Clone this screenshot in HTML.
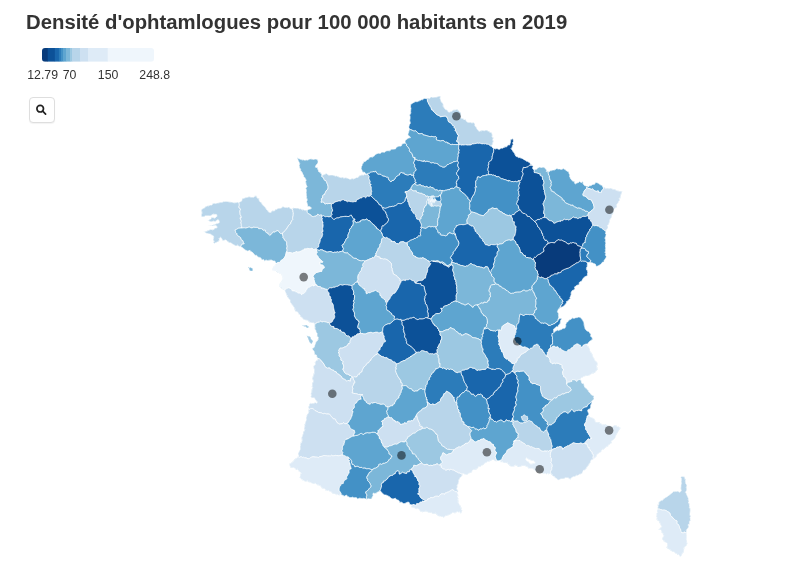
<!DOCTYPE html><html><head><meta charset="utf-8"><title>Densité d'ophtamlogues</title><style>
html,body{margin:0;padding:0;background:#fff}
body{width:790px;height:587px;position:relative;overflow:hidden;font-family:"Liberation Sans",sans-serif;color:#333}
svg{position:absolute;left:0;top:0}
h1{position:absolute;left:25.5px;top:9.5px;margin:0;font-size:20px;line-height:24px;font-weight:bold;white-space:nowrap;transform-origin:0 0;transform:scaleX(1.016);color:#333}
.lab{position:absolute;top:68px;font-size:12.3px;line-height:14px;transform:translateX(-50%);white-space:nowrap;color:#333}
.btn{position:absolute;left:28.5px;top:96.5px;width:24.5px;height:24.5px;border:1px solid #dedede;border-radius:4px;background:#fff;box-shadow:0 1px 1px rgba(0,0,0,0.05)}
</style></head><body>
<h1>Densité d'ophtamlogues pour 100 000 habitants en 2019</h1>
<div class="btn"></div>
<svg width="790" height="587" viewBox="0 0 790 587">
<defs><clipPath id="lg"><rect x="42" y="48" width="112" height="13.8" rx="3" ry="3"/></clipPath></defs>
<g clip-path="url(#lg)"><rect x="42.0" y="48" width="6.0" height="13.8" fill="#083b7b"/><rect x="47.7" y="48" width="7.4" height="13.8" fill="#0c5198"/><rect x="54.8" y="48" width="4.4" height="13.8" fill="#1966ac"/><rect x="58.9" y="48" width="2.4" height="13.8" fill="#2c7cba"/><rect x="61.0" y="48" width="2.3" height="13.8" fill="#4391c6"/><rect x="63.0" y="48" width="3.3" height="13.8" fill="#5ea5d0"/><rect x="66.0" y="48" width="4.7" height="13.8" fill="#7cb7d9"/><rect x="70.4" y="48" width="1.9" height="13.8" fill="#9cc8e2"/><rect x="72.0" y="48" width="8.3" height="13.8" fill="#b8d5ea"/><rect x="80.0" y="48" width="8.3" height="13.8" fill="#cde0f1"/><rect x="88.0" y="48" width="20.0" height="13.8" fill="#deebf7"/><rect x="107.7" y="48" width="46.6" height="13.8" fill="#eff6fc"/></g>
<g><path d="M658.0,505.9 L657.5,509.8 L656.9,511.1 L657.4,512.7 L656.5,513.7 L656.7,515.3 L656.1,516.7 L657.1,517.5 L657.1,518.2 L656.5,518.6 L656.9,519.9 L658.7,521.0 L661.6,526.8 L658.4,530.0 L661.0,530.1 L661.9,533.0 L662.6,532.7 L663.1,535.0 L663.9,535.6 L661.9,539.0 L663.4,540.0 L664.0,541.8 L666.3,542.6 L667.0,543.3 L667.4,545.9 L666.3,547.4 L672.7,551.8 L674.5,552.3 L675.6,553.6 L676.9,553.9 L678.0,555.1 L678.9,555.0 L680.1,556.6 L680.8,556.5 L682.5,553.4 L683.5,552.5 L684.4,547.2 L686.4,545.3 L687.3,543.7 L686.5,539.2 L686.7,532.6 L686.3,532.8 L686.3,530.3 L688.6,527.1 L688.3,524.3 L689.5,524.2 L689.4,521.7 L690.5,520.2 L690.0,517.3 L691.0,516.8 L689.9,514.9 L690.3,508.8 L689.5,508.2 L689.1,503.1 L688.1,502.6 L689.1,501.9 L688.2,499.0 L688.7,498.2 L688.1,497.8 L686.7,495.1 L686.8,494.2 L685.5,492.3 L686.7,490.1 L686.3,487.4 L686.9,484.9 L685.9,483.9 L685.4,481.2 L685.7,480.0 L684.2,476.7 L681.1,476.5 L680.8,477.6 L681.4,478.4 L681.4,482.9 L680.8,488.5 L681.2,490.9 L679.6,492.3 L678.4,491.2 L673.5,491.5 L669.9,494.8 L666.7,497.1 L665.8,497.0 L665.4,497.7 L663.4,498.9 L662.1,500.7 L661.5,500.3 L658.7,502.5 L658.8,504.7 L657.6,504.7Z M219.1,238.4 L220.9,237.2 L222.4,240.2 L224.1,240.8 L224.5,240.1 L225.8,240.1 L229.2,242.7 L231.0,243.0 L235.1,245.6 L235.9,245.9 L237.7,245.3 L239.7,246.9 L241.3,246.8 L245.5,250.2 L247.7,251.2 L249.4,250.4 L250.5,251.6 L251.4,251.5 L253.1,252.8 L255.1,255.4 L256.5,255.2 L258.1,257.2 L259.9,257.3 L261.8,259.6 L263.6,259.6 L264.6,261.2 L265.8,260.0 L267.6,260.7 L271.3,260.1 L273.0,261.0 L274.9,261.1 L275.1,262.1 L276.6,263.4 L276.4,264.1 L275.2,264.8 L275.0,265.7 L273.3,266.1 L273.6,267.1 L272.1,269.0 L273.2,271.0 L276.0,270.9 L278.2,273.0 L277.9,272.6 L281.3,274.3 L282.9,278.0 L282.4,280.1 L279.0,285.0 L279.3,286.5 L284.4,290.4 L284.8,290.4 L286.5,294.9 L287.2,295.7 L286.9,296.3 L290.0,299.9 L290.1,301.9 L294.1,307.4 L295.3,311.5 L296.5,311.5 L297.8,312.2 L298.5,314.0 L300.3,315.3 L300.2,316.4 L302.4,317.7 L303.3,319.5 L307.4,320.4 L309.9,322.5 L311.2,323.0 L313.5,322.9 L314.7,323.7 L314.8,329.0 L315.1,329.8 L315.7,330.0 L316.2,332.5 L317.3,333.4 L316.9,336.6 L318.0,336.9 L318.0,339.3 L317.0,341.1 L316.2,341.4 L314.4,346.9 L312.2,348.8 L313.9,351.0 L314.7,354.8 L316.3,355.0 L316.9,356.1 L316.7,356.9 L318.3,358.8 L315.2,362.1 L314.6,362.2 L315.2,363.3 L315.2,364.6 L313.4,366.3 L314.1,370.0 L314.0,372.8 L312.2,378.4 L313.2,381.2 L312.1,383.6 L312.1,386.0 L311.5,386.3 L312.5,386.9 L311.8,389.2 L311.3,393.0 L310.7,394.0 L311.4,395.0 L310.7,396.4 L311.5,397.5 L311.6,398.9 L311.6,398.9 L311.6,398.9 L311.5,398.2 L311.5,398.2 L312.4,397.9 L312.5,397.9 L314.5,397.8 L314.9,399.0 L317.2,402.0 L317.1,402.7 L316.6,403.2 L315.1,402.1 L314.6,403.0 L311.1,403.5 L310.3,402.7 L310.2,403.5 L309.6,404.0 L308.4,407.4 L309.2,408.9 L308.3,410.2 L308.8,411.4 L307.8,413.9 L306.9,414.9 L306.1,418.3 L306.5,419.4 L304.6,424.8 L304.7,427.0 L304.1,428.4 L304.7,430.0 L303.3,431.9 L303.0,434.1 L301.6,437.7 L301.9,440.5 L301.5,442.7 L300.4,442.8 L300.1,449.4 L297.9,454.4 L298.9,455.2 L296.4,458.5 L295.2,458.6 L293.3,461.3 L289.3,463.9 L290.3,467.3 L292.1,468.0 L294.6,468.1 L296.2,469.7 L297.5,469.3 L298.8,471.2 L301.1,473.1 L300.3,474.6 L300.2,476.4 L299.2,477.8 L300.8,478.3 L302.7,480.2 L305.4,481.5 L306.2,481.6 L307.4,480.7 L307.7,481.6 L308.9,482.3 L310.0,482.2 L312.9,483.8 L315.9,483.6 L318.0,485.6 L318.4,484.9 L321.0,486.4 L321.4,487.9 L324.8,488.9 L325.7,489.9 L325.5,490.4 L328.5,491.0 L328.1,490.7 L331.0,491.9 L331.8,492.4 L332.4,493.8 L335.5,494.0 L336.1,495.2 L336.9,494.2 L339.2,495.3 L340.9,494.7 L343.0,495.2 L343.9,496.3 L346.2,495.2 L347.1,495.8 L347.4,497.0 L348.4,496.6 L349.0,497.2 L351.5,497.6 L352.8,497.0 L353.7,497.9 L355.7,497.5 L356.8,498.0 L357.4,499.2 L359.0,498.3 L363.1,498.7 L363.1,498.3 L366.7,499.2 L368.4,498.7 L371.8,499.1 L371.9,497.8 L373.2,495.3 L372.9,493.8 L373.3,493.2 L373.8,492.9 L374.3,493.7 L376.5,493.2 L377.5,492.1 L380.3,491.0 L384.1,494.7 L386.1,494.9 L392.8,499.2 L395.0,498.3 L395.9,498.6 L396.9,499.9 L398.5,500.3 L399.8,502.4 L401.7,502.2 L403.5,503.6 L408.5,502.0 L409.4,503.0 L409.5,504.1 L412.1,504.9 L411.0,507.1 L414.2,507.8 L416.0,509.1 L417.2,508.6 L418.6,509.0 L420.8,511.7 L420.7,512.1 L420.7,512.1 L421.5,511.7 L422.7,512.2 L425.9,511.3 L428.6,512.5 L431.7,512.7 L432.3,514.1 L434.7,513.8 L435.0,513.1 L438.0,516.1 L442.2,516.7 L443.7,517.4 L445.7,515.7 L446.8,515.8 L449.6,514.8 L451.7,513.6 L452.3,512.7 L455.2,513.2 L457.1,511.7 L458.8,512.3 L459.9,512.0 L460.3,513.2 L461.7,512.9 L462.2,510.5 L461.7,510.2 L461.0,506.6 L458.4,503.2 L458.3,500.6 L457.8,499.5 L458.6,499.1 L457.4,496.2 L458.4,496.3 L457.7,493.7 L458.1,490.4 L457.3,490.0 L456.9,488.4 L457.4,486.6 L457.0,485.4 L458.0,485.0 L458.4,482.6 L459.0,482.3 L458.6,480.9 L459.0,479.7 L460.5,477.1 L462.2,475.9 L462.1,475.0 L463.0,473.8 L463.8,473.6 L465.0,474.5 L467.1,474.7 L468.2,473.6 L471.5,472.5 L472.7,470.1 L476.3,469.5 L477.2,468.4 L478.2,468.0 L478.0,466.8 L480.9,466.8 L481.0,465.8 L483.4,464.9 L484.5,463.4 L486.3,462.6 L486.9,462.8 L487.1,461.8 L489.0,461.6 L492.3,459.9 L493.6,459.8 L495.0,461.0 L496.1,461.2 L500.3,460.3 L500.9,462.2 L502.0,461.7 L504.2,463.0 L507.3,462.9 L510.3,466.3 L512.3,466.6 L514.6,466.2 L514.3,465.8 L514.2,465.8 L515.4,465.2 L518.4,466.9 L519.7,467.0 L521.7,466.0 L525.3,465.9 L526.6,467.0 L527.9,467.3 L528.8,468.5 L532.2,468.3 L535.7,470.8 L536.2,471.7 L537.7,472.1 L538.7,473.0 L540.2,473.2 L541.5,472.6 L543.3,473.8 L545.8,473.6 L546.1,474.3 L547.5,473.5 L548.5,474.3 L551.1,473.5 L552.3,475.7 L554.4,476.5 L554.7,477.3 L558.1,480.1 L560.7,479.0 L564.1,478.7 L564.8,477.9 L565.8,477.8 L568.1,477.8 L570.3,479.4 L570.7,478.4 L573.0,476.7 L574.8,476.6 L576.8,475.2 L577.4,475.6 L580.0,474.0 L580.8,474.3 L582.0,473.5 L583.4,470.3 L585.2,470.0 L590.1,462.9 L591.4,459.8 L592.7,459.5 L593.7,460.0 L594.0,458.5 L596.0,457.0 L597.5,454.0 L598.6,454.0 L599.0,453.0 L601.1,451.8 L601.7,450.0 L602.7,449.3 L603.7,449.4 L605.5,447.4 L608.5,445.9 L608.8,444.5 L611.0,443.8 L611.6,442.3 L611.3,441.2 L614.6,438.8 L616.7,433.9 L620.5,428.1 L618.2,426.6 L616.8,426.5 L616.7,425.1 L615.8,425.5 L614.6,425.1 L613.2,426.5 L612.0,427.1 L610.6,426.0 L604.0,424.3 L601.9,424.8 L600.9,423.2 L598.0,422.0 L595.6,422.3 L595.0,420.0 L593.9,418.6 L589.7,416.7 L588.9,415.8 L587.7,410.4 L588.3,409.4 L589.9,409.1 L590.0,408.3 L590.8,407.8 L590.7,405.6 L591.8,403.3 L592.0,401.3 L592.4,400.5 L594.1,399.3 L593.6,397.6 L594.0,396.7 L592.9,395.2 L591.8,395.2 L588.5,391.5 L588.5,390.5 L587.5,389.9 L587.1,388.9 L585.6,388.1 L584.2,385.9 L583.8,383.8 L581.8,383.2 L581.3,380.9 L580.2,379.6 L581.0,378.0 L582.6,377.4 L582.9,376.7 L585.0,376.3 L585.8,375.6 L587.0,376.0 L589.0,375.5 L592.4,373.3 L593.2,373.5 L594.7,372.7 L595.9,371.6 L597.7,369.2 L596.9,366.4 L597.6,363.9 L597.1,362.6 L594.8,360.3 L594.0,358.0 L593.3,357.6 L592.2,354.1 L590.2,351.2 L589.3,348.1 L587.5,345.2 L587.2,344.4 L588.8,342.1 L592.7,339.4 L592.0,337.5 L590.6,336.2 L591.1,333.8 L589.9,333.4 L588.8,331.7 L587.9,331.0 L587.1,331.2 L585.1,328.7 L583.9,322.6 L582.7,320.0 L580.2,317.3 L578.7,317.0 L577.6,317.3 L576.9,318.1 L576.3,317.4 L573.9,318.4 L572.8,317.7 L570.9,319.3 L568.9,319.9 L567.8,321.7 L566.2,322.9 L566.1,323.7 L565.4,324.4 L565.9,325.5 L565.1,328.0 L558.1,330.4 L557.1,329.7 L556.6,330.7 L555.1,331.0 L554.7,331.8 L553.3,331.4 L553.7,328.7 L554.9,328.5 L556.0,327.0 L558.1,326.7 L558.2,325.6 L560.5,322.9 L560.2,322.3 L560.6,320.4 L561.6,319.0 L561.2,317.9 L559.7,318.7 L558.7,318.7 L558.5,318.7 L558.2,318.5 L558.1,318.5 L558.0,318.5 L557.9,318.5 L558.7,317.6 L558.6,313.6 L557.4,311.8 L558.6,308.9 L560.1,307.9 L560.3,307.3 L560.9,307.5 L563.4,306.5 L566.6,302.8 L566.3,302.0 L570.4,298.5 L569.9,297.5 L571.3,294.3 L571.0,292.5 L571.8,291.8 L572.0,290.7 L574.0,289.9 L574.9,288.5 L574.6,286.9 L575.9,286.3 L576.4,285.5 L578.7,285.0 L579.4,284.1 L579.1,282.9 L579.7,282.1 L581.6,280.9 L583.6,277.8 L585.9,276.3 L586.9,276.1 L587.4,275.4 L587.2,274.0 L588.0,271.8 L587.4,271.5 L587.4,270.3 L586.8,269.7 L586.1,269.9 L586.7,269.5 L586.6,267.6 L587.5,266.3 L587.1,265.0 L588.1,262.7 L590.0,262.1 L594.6,263.7 L595.5,264.3 L596.4,266.6 L601.3,264.1 L602.0,262.6 L604.1,261.7 L604.1,260.3 L604.8,259.8 L606.4,256.5 L605.7,255.6 L605.4,254.5 L605.9,253.5 L605.1,252.5 L605.7,251.0 L605.5,245.2 L605.8,243.7 L606.0,242.8 L606.0,242.8 L606.0,242.8 L605.8,242.8 L605.3,241.6 L605.6,239.5 L605.0,238.2 L606.1,235.1 L605.5,233.3 L605.9,230.7 L608.0,227.7 L607.6,225.2 L608.6,224.5 L609.8,221.2 L609.7,220.2 L611.7,217.0 L612.1,214.7 L613.2,213.2 L613.7,209.6 L616.8,206.9 L617.0,205.8 L616.3,205.2 L618.3,202.6 L618.5,201.5 L619.8,200.2 L619.2,198.1 L620.5,198.2 L621.1,194.4 L621.6,193.5 L621.8,192.5 L622.3,191.4 L622.3,191.4 L622.3,191.4 L622.3,191.4 L622.3,191.4 L616.4,190.4 L615.2,189.5 L612.6,189.1 L610.3,188.1 L608.5,188.6 L608.0,188.1 L605.5,188.6 L604.9,187.3 L602.7,186.7 L602.0,185.2 L600.4,184.8 L598.6,183.2 L596.0,182.2 L594.5,184.3 L592.3,184.3 L591.6,185.3 L590.0,185.5 L588.1,187.0 L587.3,186.0 L585.8,186.2 L583.6,184.6 L583.0,183.3 L583.2,182.0 L582.3,181.5 L582.0,182.3 L581.1,182.4 L579.4,181.3 L578.5,182.5 L576.7,183.0 L575.2,184.0 L574.3,181.3 L572.7,181.2 L570.5,178.8 L569.5,176.4 L569.9,174.9 L569.1,173.9 L569.0,171.9 L566.6,170.9 L565.7,169.7 L563.4,168.6 L561.5,169.4 L556.1,168.5 L555.9,169.1 L554.3,170.0 L550.5,170.6 L549.0,171.6 L547.7,171.3 L546.3,171.6 L546.8,170.4 L544.7,167.7 L543.5,167.2 L539.3,167.2 L537.0,168.5 L537.0,169.1 L534.1,169.9 L533.5,169.8 L532.8,169.0 L532.6,167.4 L533.2,166.5 L531.5,164.7 L530.4,164.5 L529.5,162.4 L528.3,162.1 L527.8,161.3 L526.6,161.3 L521.7,158.2 L520.0,157.6 L518.7,157.7 L518.1,157.0 L515.8,156.3 L515.5,154.6 L514.7,154.7 L514.4,153.0 L511.1,148.7 L512.1,147.4 L512.3,145.9 L513.0,145.3 L513.2,144.4 L512.7,142.3 L513.4,142.1 L513.5,141.1 L512.9,138.8 L510.4,139.5 L510.5,141.5 L509.8,143.8 L509.7,144.9 L510.0,144.9 L507.4,145.3 L507.2,146.3 L506.1,147.1 L504.8,146.5 L504.5,147.4 L502.8,148.2 L500.7,147.9 L500.2,148.9 L499.3,149.4 L496.9,148.4 L495.6,148.9 L494.7,148.8 L492.6,147.8 L491.3,145.9 L492.4,144.7 L493.4,141.4 L492.8,139.0 L493.6,137.9 L492.1,137.0 L492.3,135.4 L491.9,132.9 L486.8,130.2 L485.2,130.2 L484.7,130.7 L482.0,130.5 L479.1,131.3 L477.2,129.3 L476.1,126.8 L474.7,125.6 L475.2,125.1 L474.5,123.4 L473.4,122.6 L471.5,123.0 L471.0,122.1 L467.8,122.3 L466.5,121.4 L465.3,119.5 L464.0,119.6 L463.3,118.8 L461.1,118.1 L460.9,112.6 L458.8,111.2 L457.6,109.3 L455.1,110.1 L454.0,109.8 L452.9,110.2 L451.9,111.5 L451.5,111.3 L450.0,112.1 L447.8,111.8 L447.5,110.4 L446.6,109.7 L445.7,109.8 L443.3,106.6 L443.1,103.8 L441.5,102.2 L440.1,98.8 L440.3,96.0 L436.4,97.1 L432.7,97.4 L431.5,96.9 L430.5,97.2 L429.7,98.5 L429.0,98.0 L424.1,98.6 L422.6,99.6 L421.2,99.7 L417.2,101.7 L414.9,101.7 L410.8,104.3 L410.5,107.2 L411.1,108.0 L410.6,111.3 L410.7,113.1 L409.6,115.0 L410.1,117.5 L409.6,120.9 L410.3,123.0 L410.1,124.0 L409.3,124.4 L408.9,126.5 L409.2,129.9 L407.9,135.1 L410.2,136.8 L410.6,137.7 L408.2,138.0 L405.6,140.2 L405.1,140.9 L405.0,143.5 L403.5,143.3 L402.5,143.7 L400.6,146.2 L399.1,145.9 L396.9,147.0 L396.2,147.4 L395.5,149.0 L391.7,149.1 L389.6,150.8 L385.9,151.0 L384.7,152.2 L381.9,152.1 L380.3,153.4 L377.9,153.2 L376.2,154.0 L373.0,156.8 L370.3,157.0 L367.9,159.7 L367.7,158.9 L366.0,161.0 L364.1,161.7 L363.8,161.4 L363.4,162.8 L362.1,164.6 L362.0,165.9 L361.3,166.1 L361.1,169.1 L361.9,169.9 L362.2,172.0 L365.0,172.5 L366.0,173.8 L365.8,174.7 L364.6,174.0 L363.4,175.3 L362.0,174.7 L359.7,175.5 L358.1,177.6 L357.1,177.2 L354.0,179.1 L352.3,178.6 L349.9,179.3 L346.1,177.7 L343.7,178.0 L342.7,177.2 L341.2,177.8 L336.7,175.9 L335.2,176.1 L333.6,175.3 L331.6,175.0 L329.0,175.2 L326.3,173.4 L321.8,175.6 L321.6,174.3 L320.3,172.6 L318.5,171.5 L317.7,167.7 L315.5,167.2 L316.0,165.3 L318.0,162.5 L317.7,160.5 L318.5,160.3 L318.5,160.3 L315.9,159.0 L313.9,159.4 L311.6,159.2 L311.5,158.7 L308.7,159.4 L308.1,160.1 L306.0,159.8 L304.7,160.2 L302.9,159.5 L302.8,160.0 L298.3,158.4 L297.2,157.2 L298.3,160.8 L299.5,162.9 L299.1,165.4 L299.6,167.9 L300.6,169.1 L300.6,170.5 L302.1,172.4 L303.8,175.9 L303.1,176.5 L304.9,177.8 L306.0,179.8 L306.1,180.6 L305.5,181.4 L306.1,185.0 L307.2,186.4 L305.6,188.8 L306.3,189.4 L306.4,197.7 L307.2,200.1 L306.8,201.0 L306.3,200.9 L307.5,204.4 L307.4,206.2 L309.5,206.5 L311.6,207.9 L309.8,209.1 L307.3,210.1 L304.3,210.2 L303.6,209.3 L303.2,210.0 L300.5,208.7 L299.5,208.9 L297.7,208.1 L297.1,208.4 L293.3,207.8 L291.7,209.2 L288.7,207.0 L287.9,207.6 L284.9,207.3 L283.5,207.0 L283.3,206.2 L281.4,208.0 L279.1,208.4 L278.0,208.2 L277.0,209.3 L275.3,209.6 L274.3,211.0 L272.0,210.8 L270.9,212.6 L269.7,212.5 L268.0,211.3 L268.3,210.7 L267.6,210.6 L266.2,209.0 L265.9,207.9 L264.2,206.5 L263.8,205.4 L262.4,204.8 L262.0,203.3 L259.6,201.4 L259.0,199.9 L259.2,198.4 L257.4,198.2 L257.0,197.2 L257.1,196.1 L257.1,196.1 L257.1,196.0 L257.1,196.0 L257.1,196.0 L254.9,195.8 L253.5,197.3 L248.9,196.7 L242.2,198.5 L241.8,200.9 L240.0,202.0 L234.3,202.8 L231.5,202.0 L226.2,201.4 L223.9,201.5 L220.9,202.5 L220.1,202.1 L219.4,202.8 L217.0,202.9 L215.7,203.5 L212.9,203.4 L211.9,205.0 L210.5,205.0 L207.9,206.1 L207.6,205.8 L205.3,206.7 L204.9,207.6 L202.9,208.3 L202.7,208.9 L201.6,209.4 L201.4,210.4 L201.9,212.9 L201.3,216.0 L202.2,216.8 L203.9,216.8 L205.7,215.8 L210.0,216.1 L213.2,214.2 L216.4,214.2 L217.1,216.0 L214.7,218.2 L211.8,217.3 L210.9,218.9 L208.6,220.1 L207.6,220.0 L211.0,221.9 L213.4,221.0 L214.0,221.4 L215.8,221.3 L216.3,220.6 L218.2,219.7 L219.1,220.4 L219.4,221.6 L219.3,222.8 L211.5,225.5 L210.4,225.1 L208.1,225.9 L210.5,225.5 L212.8,226.1 L215.4,225.2 L216.5,225.6 L217.1,227.8 L215.6,227.9 L212.4,230.0 L212.2,229.6 L210.9,229.3 L204.7,231.8 L203.3,231.0 L205.3,232.4 L205.6,233.1 L210.7,234.3 L213.6,236.1 L213.2,239.9 L214.1,241.5 L213.3,242.3 L214.2,243.4 L218.3,241.5 L219.7,239.8Z M311.6,343.9 L311.9,342.7 L312.9,341.8 L312.9,341.0 L310.9,339.1 L310.4,337.1 L307.6,336.3 L306.7,335.3 L310.0,342.7Z M309.8,327.6 L306.4,325.1 L303.9,325.7 L301.7,324.8 L304.4,326.6 L304.8,326.3 L305.7,326.5 L307.2,328.0 L308.6,327.3 L308.6,326.8Z M249.2,268.5 L249.6,270.3 L251.7,270.9 L252.9,270.6 L252.3,270.1 L252.7,269.2 L252.4,268.5 L250.6,267.6 L249.6,268.0 L248.0,266.7Z" fill="#9cc8e2"/></g>
<g stroke="#fff" stroke-width="0.7" stroke-linejoin="round"><path d="M301.7,324.8 L302.7,325.2 L303.9,325.7 L304.8,325.6 L305.6,325.4 L306.4,325.1 L307.1,325.9 L308.2,326.6 L308.6,326.6 L309.8,327.7 L308.6,326.8 L308.6,327.3 L308.0,327.6 L307.1,328.0 L305.7,326.5 L304.8,326.2 L304.4,326.6 L302.8,325.8Z" fill="#9cc8e2" stroke-width="0.25"/><path d="M309.3,341.4 L309.7,342.0 L310.0,342.7 L310.7,343.1 L311.6,343.9 L311.9,342.7 L312.9,341.8 L312.8,341.0 L311.9,340.3 L310.9,339.1 L310.4,338.0 L310.4,337.1 L309.7,336.6 L308.5,336.6 L307.6,336.3 L306.7,335.3 L307.2,336.6 L308.0,337.6 L308.3,338.4 L308.6,339.3 L309.0,340.8Z" fill="#9cc8e2" stroke-width="0.25"/><path d="M522.6,420.2 L523.2,420.7 L523.9,420.7 L524.8,421.3 L525.4,421.0 L526.7,420.8 L527.2,420.0 L527.9,419.0 L527.6,417.6 L527.4,417.1 L527.3,416.3 L526.2,416.4 L525.3,415.6 L524.6,415.2 L524.5,414.8 L523.2,415.4 L522.3,416.5 L521.3,416.5 L521.3,417.1 L521.9,418.6 L522.2,419.5Z" fill="#b8d5ea" stroke-width="0.25"/><path d="M428.1,203.5 L429.3,204.6 L430.3,205.7 L430.7,206.3 L431.0,206.6 L431.7,206.3 L432.6,206.2 L431.8,205.4 L431.9,204.7 L431.7,203.8 L431.7,202.4 L431.1,201.8 L430.1,201.4 L431.5,200.3 L432.2,199.4 L432.7,198.2 L433.0,197.6 L432.7,197.0 L433.4,196.2 L432.8,196.0 L432.3,195.8 L431.6,195.9 L431.2,196.4 L430.7,197.4 L430.1,198.2 L428.8,199.0 L427.8,199.7 L428.5,200.1 L428.2,201.4 L427.9,202.4 L428.1,202.4Z" fill="#deebf7" stroke-width="0.25"/><path d="M432.5,202.6 L433.5,202.8 L434.5,203.1 L434.6,202.9 L435.2,201.2 L436.6,201.0 L436.2,200.1 L435.3,199.6 L433.5,199.5 L433.0,199.1 L432.4,198.9 L432.1,199.9 L431.3,200.4 L430.1,201.4 L431.5,201.5Z" fill="#eff6fc" stroke-width="0.25"/><path d="M437.0,200.9 L437.3,200.9 L437.8,201.0 L439.0,201.2 L440.5,201.4 L441.0,200.1 L441.1,199.0 L440.7,198.1 L440.9,198.0 L440.7,197.2 L440.4,196.1 L439.6,195.4 L439.0,195.7 L438.8,196.7 L436.5,196.8 L435.7,196.9 L435.1,196.9 L433.5,195.7 L433.4,196.7 L433.9,197.5 L435.0,198.2 L434.9,199.1 L435.5,199.6 L436.4,200.0Z" fill="#2c7cba" stroke-width="0.25"/><path d="M432.5,202.6 L432.2,203.1 L431.7,203.8 L432.0,204.7 L432.2,205.5 L433.0,206.3 L433.9,206.3 L434.9,205.6 L435.5,205.9 L436.3,206.3 L438.4,205.8 L439.4,206.4 L440.2,206.7 L441.0,206.4 L441.0,206.1 L441.4,205.0 L441.5,203.9 L440.6,202.8 L440.4,202.0 L440.2,201.3 L438.9,201.3 L437.7,201.2 L437.0,201.2 L436.4,201.1 L435.2,201.4 L434.6,202.9 L434.5,203.1 L433.5,202.8Z" fill="#b8d5ea" stroke-width="0.25"/><path d="M526.2,460.1 L526.9,461.1 L528.3,461.2 L528.8,462.3 L528.8,462.6 L529.5,463.1 L530.6,463.9 L532.2,463.8 L533.1,463.6 L533.8,463.2 L535.0,463.2 L534.7,461.8 L533.9,461.2 L533.4,460.6 L532.5,460.9 L531.4,460.9 L530.5,459.9 L529.7,459.8 L528.9,459.7 L528.8,459.4 L528.5,459.2 L527.4,458.6 L526.2,457.8 L526.2,458.6 L525.8,458.9Z" fill="#ffffff" stroke-width="0.25"/><path d="M249.2,268.5 L249.6,269.5 L249.6,270.3 L250.4,270.7 L251.7,270.9 L252.9,270.6 L252.3,270.1 L252.7,269.3 L252.4,268.5 L251.3,268.0 L250.6,267.6 L249.6,268.0 L248.0,266.7 L248.6,267.9Z" fill="#7cb7d9" stroke-width="0.25"/><path d="M201.8,211.7 L201.9,212.9 L201.8,213.6 L201.4,214.2 L201.3,216.0 L202.2,216.9 L203.1,217.0 L203.9,216.8 L204.7,216.0 L205.7,215.8 L206.9,215.9 L208.0,215.9 L209.2,215.9 L210.0,216.1 L210.3,215.9 L211.8,215.1 L213.1,214.2 L214.0,214.2 L214.7,214.4 L215.1,214.5 L216.1,214.3 L216.7,214.7 L216.8,216.3 L217.0,216.1 L217.1,216.1 L216.2,216.6 L215.0,218.1 L213.2,217.6 L211.9,217.3 L211.2,217.9 L210.9,218.9 L210.1,219.3 L209.4,219.7 L208.6,220.1 L207.7,220.0 L208.5,220.3 L209.8,221.4 L211.0,221.9 L212.4,221.5 L213.3,221.1 L213.9,221.3 L214.6,221.5 L215.5,221.4 L216.1,220.9 L216.8,220.3 L218.2,219.6 L218.6,220.3 L219.1,220.6 L219.3,221.4 L219.3,222.4 L219.2,222.8 L218.5,223.0 L216.7,223.6 L215.9,223.8 L215.3,224.0 L214.8,224.4 L213.6,224.7 L212.5,224.9 L211.7,225.4 L210.5,225.1 L209.3,225.5 L208.1,225.9 L209.2,225.7 L210.4,225.5 L211.5,226.0 L212.3,226.0 L212.8,226.0 L214.2,225.5 L215.1,225.3 L215.8,225.3 L216.7,226.1 L217.0,227.0 L217.1,227.5 L217.0,227.7 L216.6,227.8 L215.4,228.0 L214.5,228.8 L213.9,229.3 L212.4,230.0 L212.2,229.6 L210.9,229.4 L209.2,230.0 L207.8,230.6 L207.8,230.8 L205.9,231.3 L205.2,231.7 L204.7,231.8 L203.4,231.0 L204.6,232.0 L205.3,232.4 L205.7,233.1 L207.8,233.6 L208.2,233.7 L209.5,234.0 L210.6,234.1 L211.3,235.0 L212.3,235.4 L212.5,235.4 L213.3,235.8 L213.7,236.9 L213.6,238.1 L213.2,239.6 L213.7,240.6 L214.1,241.4 L213.3,242.2 L214.2,243.4 L214.8,243.1 L215.5,242.7 L216.6,242.3 L217.5,242.0 L218.3,241.4 L218.8,240.5 L219.3,240.3 L219.7,240.0 L219.1,238.6 L219.7,237.8 L220.4,237.3 L221.1,237.6 L221.9,239.1 L222.4,240.2 L223.3,240.5 L224.2,240.8 L224.5,240.0 L225.6,240.0 L226.9,240.7 L227.5,241.4 L228.1,241.7 L229.2,242.7 L230.2,242.7 L231.0,243.0 L232.2,243.8 L233.0,244.6 L234.0,244.9 L235.1,245.6 L235.8,245.8 L236.5,245.8 L237.3,245.1 L238.7,246.1 L240.2,247.0 L240.3,246.7 L241.1,246.0 L241.5,245.0 L241.9,244.2 L243.4,244.0 L244.3,243.7 L243.5,242.6 L243.1,241.1 L242.5,240.3 L241.4,239.8 L240.7,237.7 L240.1,237.0 L239.8,236.8 L238.8,236.3 L237.6,235.5 L237.1,234.7 L236.9,233.5 L236.3,232.9 L235.6,232.4 L235.6,231.5 L235.4,230.7 L234.9,230.0 L235.8,229.7 L236.7,229.3 L238.2,228.3 L239.4,228.2 L240.3,228.0 L241.0,228.2 L241.7,228.0 L241.7,226.5 L241.3,225.5 L241.3,224.8 L241.4,223.9 L240.9,223.1 L241.3,221.5 L241.3,220.8 L241.0,220.1 L240.0,217.9 L241.1,217.9 L241.3,217.2 L241.1,216.1 L240.3,214.7 L240.1,213.2 L240.0,212.0 L239.7,211.1 L240.3,210.1 L240.5,209.0 L240.2,208.3 L239.2,208.0 L239.0,207.0 L239.3,205.5 L239.4,203.8 L238.6,202.2 L237.5,202.2 L236.4,202.6 L235.9,202.7 L235.9,202.6 L234.2,202.8 L232.8,202.4 L231.4,202.0 L230.9,202.1 L230.4,202.0 L229.2,201.9 L227.8,201.5 L226.2,201.4 L225.9,201.4 L225.2,201.6 L223.8,201.5 L222.9,202.0 L221.8,202.2 L220.8,202.5 L220.1,202.1 L219.4,202.7 L218.4,202.9 L217.1,202.9 L215.7,203.5 L214.7,203.3 L213.6,203.3 L212.9,203.4 L211.9,205.0 L210.5,205.0 L209.6,205.4 L207.9,206.1 L207.6,205.8 L206.6,206.3 L205.4,206.7 L204.9,207.7 L203.9,208.0 L202.9,208.3 L202.7,208.9 L201.6,209.4 L201.4,210.5Z" fill="#b8d5ea"/><path d="M264.7,230.2 L265.5,230.4 L265.4,231.7 L266.8,233.1 L268.1,233.3 L267.9,233.4 L268.5,234.3 L269.8,235.6 L270.6,234.9 L271.3,234.2 L271.8,233.7 L272.4,232.8 L273.1,232.0 L274.8,232.2 L275.5,231.6 L276.6,231.2 L276.9,230.5 L278.1,230.9 L279.0,231.7 L279.8,233.1 L280.3,233.4 L281.2,233.9 L281.8,233.6 L282.4,233.0 L283.4,232.4 L283.6,232.3 L284.9,230.8 L284.9,230.8 L285.7,229.9 L286.2,229.2 L286.5,229.1 L287.2,227.8 L287.9,226.8 L288.4,225.9 L288.8,225.1 L289.8,224.3 L290.8,223.6 L290.8,222.1 L291.4,221.8 L291.7,220.8 L292.9,219.4 L292.8,218.9 L292.6,218.3 L292.7,217.3 L293.2,215.6 L293.3,214.8 L293.2,214.2 L293.4,212.9 L293.2,212.4 L293.0,211.8 L292.9,210.6 L292.3,209.0 L291.9,209.2 L291.1,208.6 L289.9,208.2 L288.7,207.0 L287.9,207.6 L286.4,207.5 L284.9,207.3 L283.5,207.0 L283.3,206.2 L282.3,207.1 L281.1,208.0 L279.7,208.2 L278.6,208.3 L277.7,208.3 L277.4,209.0 L275.7,209.6 L274.7,210.3 L274.3,211.0 L272.8,210.6 L271.8,211.3 L271.2,212.4 L270.3,212.4 L269.5,212.4 L268.8,212.0 L267.9,211.2 L268.3,210.7 L267.4,210.4 L266.1,208.9 L266.1,208.1 L265.0,207.3 L264.5,206.6 L263.8,206.1 L263.6,205.0 L262.8,205.0 L262.3,204.6 L261.8,203.0 L260.5,202.0 L259.7,201.5 L259.4,200.7 L259.0,199.9 L259.2,198.4 L258.4,198.3 L257.4,198.2 L256.9,197.2 L257.1,196.1 L256.6,196.3 L254.8,195.9 L254.2,197.0 L253.3,197.3 L252.2,197.2 L250.2,197.0 L249.6,196.8 L248.8,196.8 L247.5,197.3 L246.7,197.4 L245.7,197.6 L244.8,197.9 L243.9,198.3 L242.9,198.5 L242.2,198.5 L241.8,200.0 L241.6,201.1 L240.3,201.7 L239.6,202.1 L239.0,202.1 L238.5,202.1 L239.2,203.7 L239.3,205.3 L238.9,206.9 L239.1,207.9 L240.0,208.3 L240.5,208.9 L240.4,210.0 L239.7,211.0 L239.9,211.9 L240.0,213.0 L240.2,214.6 L241.0,216.0 L241.3,217.1 L241.2,218.0 L240.0,217.8 L240.9,220.0 L241.3,220.8 L241.3,221.4 L240.8,223.0 L241.4,223.9 L241.3,224.7 L241.3,225.5 L241.7,226.5 L241.7,228.0 L242.7,228.0 L243.9,227.8 L244.3,227.8 L245.6,228.1 L247.1,227.7 L248.6,227.2 L249.4,227.1 L250.9,227.8 L251.8,227.9 L252.8,227.7 L253.1,227.2 L254.0,227.3 L255.1,227.4 L256.1,227.4 L257.8,227.4 L258.3,227.9 L258.5,228.7 L260.6,228.7 L261.7,228.8 L262.3,229.0 L262.7,229.9 L263.5,230.4Z" fill="#b8d5ea"/><path d="M236.9,233.5 L237.1,234.7 L237.6,235.5 L238.8,236.3 L239.8,236.8 L240.1,237.0 L240.7,237.7 L241.4,239.8 L242.5,240.3 L243.1,241.1 L243.5,242.6 L244.3,243.7 L243.4,244.0 L241.9,244.2 L241.5,245.1 L241.0,246.0 L240.3,246.8 L241.3,246.8 L241.7,247.2 L243.7,248.7 L244.8,249.6 L245.5,250.2 L245.7,250.1 L246.6,250.5 L247.6,251.1 L248.8,250.7 L250.1,250.3 L249.9,251.4 L251.0,251.5 L251.9,252.1 L252.6,252.6 L253.0,252.8 L253.8,253.9 L255.0,255.3 L255.8,255.4 L256.5,255.2 L257.3,256.4 L258.1,257.1 L259.4,257.4 L259.9,257.4 L260.9,258.1 L261.8,259.7 L262.6,259.9 L263.7,259.6 L264.6,261.2 L265.3,260.5 L266.0,260.0 L267.8,260.7 L268.4,260.4 L268.9,260.3 L269.6,260.2 L271.4,260.1 L272.5,260.5 L273.3,261.0 L274.3,261.0 L275.2,261.4 L275.4,262.6 L276.5,263.3 L276.5,263.5 L277.1,262.9 L278.1,262.5 L279.6,262.4 L280.6,261.9 L280.6,261.1 L281.4,260.2 L282.3,259.8 L283.1,259.4 L283.9,258.2 L284.8,257.1 L285.4,255.9 L285.7,255.0 L286.0,253.7 L286.0,253.1 L286.6,251.8 L287.0,250.9 L287.1,250.4 L287.1,249.8 L287.0,249.1 L286.7,248.2 L287.2,246.8 L287.0,245.6 L286.7,244.3 L286.7,243.5 L286.6,242.9 L286.7,242.4 L286.2,241.4 L285.3,240.5 L284.6,240.1 L284.4,239.6 L283.7,238.3 L282.9,237.3 L283.2,236.8 L282.8,235.3 L282.5,234.0 L282.4,232.9 L281.8,233.6 L281.1,233.8 L280.3,233.4 L279.8,233.0 L279.0,231.7 L278.1,230.9 L276.9,230.5 L276.6,231.2 L275.5,231.6 L274.8,232.2 L273.1,232.0 L272.4,232.8 L271.8,233.7 L271.3,234.2 L270.6,234.9 L269.8,235.6 L268.5,234.3 L267.9,233.4 L268.1,233.3 L266.8,233.1 L265.4,231.7 L265.5,230.4 L264.7,230.2 L263.5,230.4 L262.7,229.9 L262.3,229.0 L261.7,228.8 L260.6,228.7 L258.5,228.7 L258.3,227.9 L257.8,227.4 L256.1,227.4 L255.1,227.4 L254.0,227.3 L253.1,227.2 L252.8,227.7 L251.8,227.9 L250.9,227.8 L249.4,227.1 L248.6,227.2 L247.1,227.7 L245.6,228.1 L244.3,227.8 L243.9,227.8 L242.7,228.0 L241.7,228.0 L241.0,228.2 L240.3,228.0 L239.4,228.2 L238.2,228.3 L236.7,229.3 L235.8,229.7 L234.9,230.0 L235.4,230.7 L235.6,231.5 L235.6,232.4 L236.3,232.9Z" fill="#7cb7d9"/><path d="M311.9,248.0 L313.1,249.5 L314.3,249.5 L315.4,249.1 L316.2,249.7 L316.4,248.5 L316.5,248.6 L317.4,247.8 L318.7,246.9 L318.7,245.4 L318.8,244.7 L318.9,244.2 L319.8,242.4 L320.1,241.4 L320.3,239.8 L320.1,239.2 L320.8,238.8 L321.5,237.7 L322.2,236.6 L322.4,234.9 L322.8,234.6 L322.6,233.6 L321.9,231.8 L323.0,231.7 L323.0,230.7 L322.8,229.6 L322.5,228.4 L322.9,227.4 L323.1,226.2 L323.2,224.6 L322.9,224.7 L322.9,223.6 L323.1,222.1 L322.6,222.0 L322.1,220.1 L322.1,218.8 L322.6,218.4 L321.8,217.6 L321.8,216.4 L321.5,216.5 L321.5,215.7 L321.5,214.8 L321.0,214.7 L320.4,214.8 L319.8,215.4 L318.8,214.7 L317.7,214.1 L317.2,215.2 L315.9,215.8 L314.4,216.2 L314.2,216.2 L313.4,216.6 L312.7,216.6 L311.3,215.7 L310.8,214.8 L310.0,214.4 L308.9,213.8 L307.9,213.3 L307.6,212.7 L307.2,212.1 L307.3,210.5 L307.9,209.7 L307.2,210.0 L307.1,209.8 L307.1,210.0 L305.6,210.2 L304.2,210.1 L303.5,209.3 L303.1,210.1 L302.0,209.7 L300.7,208.7 L299.6,208.9 L298.6,208.4 L297.7,208.1 L297.1,208.4 L296.2,208.0 L295.7,208.0 L294.2,207.9 L293.0,208.0 L292.3,209.0 L292.9,210.6 L293.0,211.8 L293.2,212.4 L293.4,212.9 L293.2,214.2 L293.3,214.8 L293.2,215.6 L292.7,217.3 L292.6,218.3 L292.8,218.9 L292.9,219.4 L291.7,220.8 L291.4,221.8 L290.8,222.1 L290.8,223.6 L289.8,224.3 L288.8,225.1 L288.4,225.9 L287.9,226.8 L287.2,227.8 L286.5,229.1 L286.2,229.2 L285.7,229.9 L284.9,230.8 L284.9,230.8 L283.6,232.3 L283.4,232.4 L282.4,233.0 L282.5,234.0 L282.7,235.2 L283.1,236.7 L282.9,237.3 L283.7,238.2 L284.4,239.5 L284.6,240.1 L285.3,240.5 L286.2,241.4 L286.7,242.4 L286.6,242.9 L286.7,243.5 L286.7,244.3 L287.0,245.6 L287.2,246.8 L286.7,248.2 L287.0,249.1 L287.1,249.8 L287.1,250.4 L287.0,250.9 L286.6,251.8 L287.5,252.3 L288.3,252.7 L290.2,252.5 L291.0,252.8 L291.7,253.0 L292.2,253.3 L294.1,252.6 L295.1,252.3 L295.8,252.0 L296.3,251.5 L297.2,252.1 L298.8,252.0 L300.2,251.8 L300.2,251.5 L301.6,250.9 L303.1,249.9 L303.8,250.0 L304.6,249.9 L304.6,248.8 L306.0,249.1 L307.3,248.6 L307.7,248.3 L309.1,248.8 L310.2,248.8 L311.3,248.5Z" fill="#b8d5ea"/><path d="M332.3,214.6 L331.6,213.3 L331.6,212.2 L332.4,211.2 L332.7,210.0 L332.5,209.5 L332.1,208.7 L331.9,207.5 L331.5,206.8 L331.4,205.7 L331.4,204.0 L330.6,203.4 L328.8,203.5 L328.0,203.6 L327.1,203.7 L326.1,203.4 L325.4,203.9 L324.8,203.8 L323.6,202.0 L322.6,201.9 L321.1,202.3 L321.3,201.4 L321.7,200.2 L321.4,199.3 L321.4,198.7 L322.7,198.0 L322.7,196.9 L322.5,196.1 L323.6,194.7 L324.6,194.6 L324.8,193.7 L325.3,192.7 L325.7,191.8 L326.0,190.9 L327.1,189.9 L327.9,189.1 L328.1,187.4 L328.1,186.6 L328.0,186.0 L327.6,184.5 L327.3,183.9 L327.2,183.8 L326.9,182.8 L326.4,181.7 L325.8,180.6 L324.8,180.2 L323.9,179.4 L323.7,178.5 L323.2,177.4 L322.2,176.8 L321.6,176.0 L322.6,175.2 L321.7,175.5 L321.6,174.7 L321.6,174.3 L320.7,173.1 L319.4,172.1 L318.5,171.5 L318.4,170.1 L317.6,169.0 L317.9,167.9 L317.1,167.6 L315.4,167.2 L315.8,165.7 L316.4,164.7 L317.4,163.7 L318.0,162.5 L318.1,161.4 L317.7,160.4 L318.5,160.3 L318.0,160.2 L317.2,159.4 L315.9,159.0 L314.9,159.0 L313.9,159.4 L312.6,159.2 L311.5,159.2 L311.5,158.7 L309.8,159.0 L308.7,159.5 L308.0,160.1 L306.2,159.9 L305.7,160.1 L304.8,160.2 L302.9,159.5 L302.8,160.1 L301.4,159.6 L300.2,159.2 L299.9,159.0 L298.5,158.5 L297.4,157.5 L297.2,157.2 L297.4,158.1 L297.6,158.6 L297.9,159.6 L298.3,160.9 L299.1,162.4 L299.5,162.9 L299.7,163.7 L299.1,165.3 L299.5,166.7 L299.5,167.4 L299.6,168.0 L300.6,169.1 L300.6,170.0 L300.6,170.5 L302.1,172.4 L302.3,172.7 L302.2,172.9 L303.2,175.0 L303.8,175.9 L303.1,176.5 L304.2,176.9 L305.0,177.9 L305.2,178.3 L305.9,179.7 L306.1,180.5 L305.5,181.3 L305.9,183.2 L306.1,184.3 L306.2,185.1 L307.2,186.3 L306.8,186.7 L306.3,187.6 L305.6,188.8 L306.3,189.4 L306.3,191.1 L306.2,192.3 L306.1,192.4 L306.3,194.1 L306.4,195.6 L306.7,197.0 L306.5,197.7 L307.0,198.9 L307.2,200.1 L306.8,201.0 L306.3,200.9 L306.8,202.3 L307.2,203.6 L307.5,204.4 L307.4,206.1 L308.2,206.4 L309.4,206.4 L310.3,207.2 L310.3,207.0 L311.3,207.7 L311.5,208.0 L311.0,208.7 L309.4,209.2 L308.2,209.5 L307.2,210.4 L307.2,212.1 L307.5,212.7 L307.9,213.3 L308.9,213.8 L310.1,214.4 L310.8,214.8 L311.4,215.8 L312.8,216.6 L313.5,216.6 L314.3,216.2 L314.4,216.2 L316.0,215.8 L317.2,215.2 L317.7,214.1 L318.8,214.7 L319.8,215.4 L320.4,214.8 L321.0,214.7 L321.5,214.8 L321.5,215.7 L321.5,216.6 L323.2,215.8 L324.5,216.4 L325.6,216.8 L326.4,216.6 L327.1,216.4 L327.9,216.7 L329.0,216.9 L330.9,216.4 L330.8,216.0 L331.5,215.1Z" fill="#7cb7d9"/><path d="M336.7,201.4 L336.6,201.6 L338.7,201.0 L339.7,201.0 L340.1,201.3 L341.5,200.3 L342.6,199.8 L343.7,199.6 L344.1,200.4 L344.8,200.5 L345.9,200.7 L347.4,201.8 L348.4,201.3 L349.7,201.4 L351.1,201.8 L352.0,201.6 L352.7,202.0 L353.8,201.8 L354.9,201.5 L356.1,201.7 L356.5,200.6 L357.1,199.5 L358.2,199.3 L359.2,198.8 L360.2,198.1 L361.6,198.1 L362.1,197.5 L362.8,196.8 L364.1,196.6 L365.6,197.8 L366.1,197.4 L366.7,196.7 L367.6,196.0 L368.9,196.4 L369.8,196.2 L370.4,195.6 L371.0,194.7 L371.9,194.0 L371.0,193.7 L371.4,192.5 L371.8,191.3 L371.5,190.4 L371.3,189.5 L371.3,188.4 L371.3,187.1 L370.4,185.5 L371.2,184.7 L370.9,184.1 L369.6,183.6 L370.3,181.6 L370.2,181.3 L369.9,180.8 L369.3,179.5 L368.8,178.2 L369.1,177.2 L369.3,176.5 L369.0,176.1 L368.2,175.1 L367.6,173.9 L367.3,173.4 L366.2,174.4 L365.2,174.4 L364.2,174.0 L363.6,175.2 L362.0,174.8 L360.7,175.3 L359.7,175.5 L358.8,176.6 L358.0,177.6 L357.0,177.2 L356.1,177.7 L354.9,178.2 L354.0,179.1 L353.1,178.7 L352.2,178.6 L351.1,178.9 L350.0,179.3 L348.9,178.7 L347.9,178.2 L346.6,178.0 L346.1,177.8 L345.3,177.7 L343.8,178.1 L342.7,177.3 L341.8,177.4 L341.2,177.8 L340.3,177.4 L339.5,177.2 L338.1,176.6 L336.5,175.8 L335.9,175.8 L335.5,176.1 L334.1,175.5 L332.7,175.0 L331.8,174.9 L330.2,175.0 L329.1,175.1 L328.0,174.9 L327.0,173.9 L326.3,173.4 L325.4,174.0 L324.4,174.6 L323.7,174.7 L322.7,175.2 L321.6,175.9 L322.2,176.8 L323.2,177.3 L323.7,178.5 L323.9,179.4 L324.8,180.2 L325.8,180.6 L326.4,181.7 L326.9,182.8 L327.2,183.8 L327.3,183.9 L327.6,184.5 L328.0,186.0 L328.1,186.6 L328.1,187.4 L327.9,189.1 L327.1,189.9 L326.0,190.9 L325.7,191.8 L325.3,192.7 L324.8,193.7 L324.6,194.6 L323.6,194.7 L322.5,196.1 L322.7,196.9 L322.7,198.0 L321.4,198.7 L321.4,199.3 L321.7,200.2 L321.3,201.4 L321.1,202.3 L322.6,201.9 L323.6,202.0 L324.8,203.8 L325.4,203.9 L326.1,203.4 L327.1,203.7 L328.0,203.6 L328.8,203.5 L330.6,203.4 L331.4,204.0 L332.0,203.7 L333.5,203.4 L334.3,202.7 L334.5,202.2 L335.5,201.9Z" fill="#b8d5ea"/><path d="M332.5,209.5 L332.7,210.0 L332.4,211.2 L331.6,212.2 L331.6,213.3 L332.3,214.6 L331.5,215.1 L330.8,216.0 L330.9,216.4 L331.6,217.3 L332.0,217.7 L332.4,218.4 L333.4,219.3 L334.1,219.5 L335.2,218.7 L336.3,218.2 L337.5,217.9 L338.6,217.9 L339.3,217.5 L340.1,217.0 L341.1,217.0 L342.6,216.7 L343.4,216.6 L345.0,216.4 L346.5,216.4 L347.1,216.5 L347.9,216.5 L349.0,216.6 L349.7,216.1 L350.4,215.6 L351.0,214.9 L351.7,216.1 L352.5,217.3 L352.9,218.3 L353.5,219.2 L354.3,218.8 L354.8,219.3 L354.2,220.5 L354.9,221.6 L356.4,222.5 L356.5,222.9 L357.3,222.2 L358.5,222.2 L359.2,221.8 L360.3,221.8 L360.4,220.8 L361.5,220.3 L362.8,219.8 L364.4,219.9 L365.8,219.5 L366.7,219.0 L367.3,219.4 L368.1,220.6 L369.0,220.7 L369.9,220.8 L370.4,221.7 L371.2,222.4 L372.1,223.4 L372.7,223.9 L373.6,224.8 L374.5,225.3 L375.3,226.8 L376.4,227.0 L376.4,227.4 L377.1,228.7 L378.6,229.4 L379.2,230.2 L379.7,230.8 L379.8,230.9 L380.6,231.5 L381.0,230.1 L381.4,228.9 L382.0,228.8 L382.0,227.6 L382.0,226.3 L382.6,225.9 L383.4,226.2 L384.2,225.2 L385.2,224.2 L386.2,223.5 L386.7,223.1 L387.3,222.6 L387.8,221.7 L388.3,220.8 L388.5,219.8 L388.4,218.7 L387.9,217.8 L387.1,217.3 L387.1,216.7 L387.2,215.8 L386.3,213.8 L386.0,213.3 L385.8,212.1 L384.9,211.4 L384.0,210.4 L382.9,209.1 L382.9,208.4 L383.2,207.6 L382.2,207.7 L381.7,206.2 L381.2,205.2 L380.1,205.0 L378.9,204.3 L378.8,203.5 L378.4,203.3 L377.4,201.8 L376.7,200.8 L375.9,200.6 L374.4,199.2 L374.2,198.8 L373.5,198.4 L372.1,197.0 L371.6,196.3 L370.4,195.6 L369.8,196.2 L368.9,196.4 L367.6,196.0 L366.7,196.7 L366.1,197.4 L365.6,197.8 L364.1,196.6 L362.8,196.8 L362.1,197.5 L361.6,198.1 L360.2,198.1 L359.2,198.8 L358.2,199.3 L357.1,199.5 L356.5,200.6 L356.1,201.7 L354.9,201.5 L353.8,201.8 L352.7,202.0 L352.0,201.6 L351.1,201.8 L349.7,201.4 L348.4,201.3 L347.4,201.8 L345.9,200.7 L344.8,200.5 L344.1,200.4 L343.7,199.6 L342.6,199.8 L341.5,200.3 L340.1,201.3 L339.7,201.0 L338.7,201.0 L336.6,201.6 L336.7,201.4 L335.5,201.9 L334.5,202.2 L334.3,202.7 L333.5,203.4 L332.0,203.7 L331.4,204.0 L331.4,205.7 L331.5,206.8 L331.9,207.5 L332.1,208.7Z" fill="#0c5198"/><path d="M399.7,203.6 L400.7,203.7 L401.7,203.5 L402.2,203.0 L403.2,202.6 L404.9,201.0 L405.2,200.9 L405.2,200.1 L405.4,198.9 L405.6,198.3 L406.0,197.8 L406.8,196.3 L406.7,195.4 L406.4,194.3 L406.3,193.1 L404.9,192.3 L405.2,191.7 L407.1,191.6 L408.3,190.8 L409.5,189.9 L409.9,189.7 L410.7,189.2 L411.0,188.6 L411.1,187.8 L411.6,186.9 L412.3,186.1 L412.2,185.5 L413.1,184.9 L413.6,184.3 L414.8,183.5 L416.5,182.7 L415.4,182.3 L415.0,181.8 L415.4,181.2 L415.3,180.1 L415.0,179.2 L414.3,178.2 L413.8,177.1 L413.6,176.2 L413.9,175.1 L412.1,175.3 L411.0,175.0 L410.9,174.1 L409.2,174.6 L408.3,174.9 L407.4,174.9 L406.1,174.6 L404.9,174.2 L404.1,173.5 L404.2,172.9 L402.8,173.0 L401.8,172.4 L400.2,173.0 L399.7,173.4 L399.4,175.0 L398.4,175.1 L397.1,176.0 L396.1,177.0 L395.6,177.4 L395.6,177.9 L394.6,179.0 L393.8,180.2 L392.0,180.6 L391.3,181.3 L391.6,181.3 L390.7,181.6 L389.5,180.6 L389.1,180.0 L388.4,178.8 L388.4,177.6 L387.5,177.1 L386.2,177.0 L385.5,176.6 L385.0,176.1 L384.0,176.1 L382.8,175.8 L381.8,175.3 L381.1,174.6 L380.4,174.2 L379.4,174.1 L378.0,174.1 L377.2,173.5 L376.8,173.1 L376.1,172.0 L375.8,171.1 L374.2,171.8 L372.9,171.4 L372.4,172.0 L371.6,171.8 L370.5,172.1 L369.3,173.2 L368.6,173.2 L367.6,173.9 L368.2,175.1 L369.0,176.1 L369.3,176.5 L369.1,177.2 L368.8,178.2 L369.3,179.5 L369.9,180.8 L370.2,181.3 L370.3,181.6 L369.6,183.6 L370.9,184.1 L371.2,184.7 L370.4,185.5 L371.3,187.1 L371.3,188.4 L371.3,189.5 L371.5,190.4 L371.8,191.3 L371.4,192.5 L371.0,193.7 L371.9,194.0 L371.0,194.7 L370.4,195.6 L371.6,196.3 L372.1,197.0 L373.5,198.4 L374.2,198.8 L374.4,199.2 L375.9,200.6 L376.7,200.8 L377.4,201.8 L378.4,203.3 L378.8,203.5 L378.9,204.3 L380.1,205.0 L381.2,205.2 L381.7,206.2 L382.3,207.7 L383.2,207.6 L383.3,207.7 L384.8,208.3 L385.8,208.3 L386.4,208.1 L387.6,207.6 L389.3,206.9 L390.1,206.8 L390.6,206.7 L392.5,206.3 L392.7,206.4 L393.5,206.4 L395.5,205.6 L396.6,205.0 L397.4,204.3 L397.8,203.7 L398.3,203.5Z" fill="#2c7cba"/><path d="M414.6,164.3 L413.9,163.8 L413.7,162.4 L413.9,161.6 L414.7,161.4 L414.7,159.7 L414.8,158.4 L414.9,157.4 L413.3,157.6 L412.8,156.1 L412.4,154.6 L412.2,154.6 L412.1,153.6 L411.5,153.2 L410.6,152.1 L409.7,151.5 L409.4,150.6 L409.5,149.4 L409.1,148.6 L408.1,147.0 L406.9,146.1 L406.5,145.1 L406.6,144.1 L405.9,143.2 L405.2,143.2 L404.2,143.3 L402.7,143.5 L402.7,143.7 L401.9,144.4 L401.2,146.0 L400.4,146.1 L398.9,146.0 L397.6,146.7 L396.9,147.0 L396.2,147.3 L395.5,148.9 L394.1,149.0 L392.9,149.2 L391.6,149.1 L391.0,149.6 L390.5,150.3 L389.6,150.8 L388.3,150.7 L387.1,150.7 L385.9,151.0 L384.7,152.2 L384.0,152.2 L383.0,152.1 L381.9,152.1 L381.3,152.6 L380.2,153.4 L378.9,153.2 L378.0,153.2 L376.5,153.9 L375.7,154.3 L374.7,155.3 L374.1,156.2 L373.5,156.3 L372.7,157.1 L371.1,156.9 L370.3,157.1 L369.5,157.8 L368.5,158.8 L367.9,159.7 L367.7,158.9 L366.5,160.2 L366.0,161.0 L364.1,161.7 L363.8,161.4 L363.4,162.8 L362.2,164.6 L362.1,165.5 L362.0,165.9 L361.3,166.1 L361.4,167.2 L361.2,168.2 L361.1,169.0 L361.9,169.9 L362.1,171.0 L362.3,171.9 L363.7,172.2 L365.0,172.5 L365.0,172.8 L365.6,173.4 L365.9,174.3 L365.4,174.6 L366.4,174.3 L367.4,173.5 L367.7,174.0 L368.6,173.2 L369.4,173.2 L370.6,172.0 L371.6,171.9 L372.5,172.0 L372.9,171.4 L374.2,171.8 L375.8,171.1 L376.1,172.0 L376.8,173.1 L377.2,173.5 L378.0,174.1 L379.4,174.1 L380.4,174.2 L381.1,174.6 L381.8,175.3 L382.8,175.8 L384.0,176.1 L385.0,176.1 L385.5,176.6 L386.2,177.0 L387.5,177.1 L388.4,177.6 L388.4,178.8 L389.1,180.0 L389.5,180.6 L390.7,181.6 L391.6,181.3 L391.3,181.3 L392.0,180.6 L393.8,180.2 L394.6,179.0 L395.6,177.9 L395.6,177.4 L396.1,177.0 L397.1,176.0 L398.4,175.1 L399.4,175.0 L399.7,173.4 L400.2,173.0 L401.8,172.4 L402.8,173.0 L404.2,172.9 L404.1,173.5 L404.9,174.2 L406.1,174.6 L407.4,174.9 L408.3,174.9 L409.2,174.6 L410.9,174.1 L411.0,175.0 L412.1,175.3 L413.9,175.1 L413.5,174.4 L414.1,173.6 L413.9,172.8 L414.3,172.1 L415.6,170.9 L416.3,169.8 L415.9,168.8 L415.7,168.6 L415.4,167.7 L414.6,166.8 L414.8,165.3Z" fill="#5ea5d0"/><path d="M410.8,109.4 L410.6,111.3 L410.8,112.3 L410.8,113.1 L410.4,113.9 L409.6,115.0 L409.8,115.8 L410.1,116.6 L410.1,117.5 L410.1,118.2 L409.9,119.4 L409.7,120.9 L410.1,121.8 L410.3,123.1 L410.0,124.0 L409.3,124.4 L409.2,125.6 L408.9,126.4 L408.8,127.6 L409.2,128.0 L409.2,128.9 L409.7,129.3 L410.8,129.7 L412.5,130.4 L413.3,130.8 L413.8,131.0 L414.8,131.0 L415.6,130.8 L417.4,132.3 L417.8,132.8 L418.0,133.4 L419.2,133.8 L420.6,133.7 L421.7,133.5 L422.7,133.9 L423.0,134.7 L423.9,135.1 L424.9,135.2 L426.2,135.5 L427.8,136.1 L428.7,136.3 L429.8,136.6 L430.6,136.6 L431.2,136.4 L432.5,136.5 L433.4,136.8 L434.3,136.9 L435.4,136.5 L436.6,137.5 L436.1,138.1 L436.4,139.2 L436.6,140.1 L437.6,140.3 L438.9,140.5 L439.9,140.9 L440.8,141.0 L442.2,140.5 L443.1,140.6 L444.1,140.9 L445.3,142.3 L446.7,142.2 L447.6,142.5 L447.8,143.5 L448.8,143.2 L449.7,143.9 L451.0,144.8 L451.5,144.8 L451.9,144.2 L453.3,144.5 L454.1,144.5 L455.3,144.5 L457.1,144.7 L458.0,144.2 L458.8,144.0 L458.7,142.1 L457.6,142.0 L456.8,141.7 L456.8,140.4 L457.4,139.5 L457.6,139.4 L457.7,137.9 L458.0,136.4 L458.7,135.9 L458.8,135.3 L457.8,135.0 L457.4,134.1 L457.0,133.0 L456.3,131.5 L455.5,131.0 L455.2,130.4 L455.8,128.9 L454.8,128.3 L454.2,127.6 L454.4,126.4 L453.6,125.8 L452.5,125.3 L452.1,124.4 L451.5,123.4 L451.0,123.1 L449.8,122.4 L448.6,121.8 L448.2,120.8 L447.9,119.4 L447.9,119.2 L447.4,118.1 L446.9,117.1 L447.2,117.1 L446.3,116.7 L445.2,116.0 L443.4,116.3 L442.8,116.4 L442.0,116.5 L440.3,116.8 L440.2,116.2 L439.5,115.8 L438.5,115.4 L436.8,114.6 L435.9,113.9 L435.5,113.2 L434.8,112.7 L434.4,112.3 L433.6,111.6 L433.4,111.4 L432.9,110.0 L431.7,109.8 L431.4,108.9 L431.2,107.7 L430.3,106.6 L429.7,105.2 L429.3,104.7 L428.8,104.1 L428.4,102.8 L427.6,101.7 L427.6,101.4 L427.4,101.0 L427.5,99.7 L426.6,98.6 L424.8,98.4 L424.1,98.6 L423.4,99.0 L422.6,99.7 L421.2,99.7 L420.5,100.3 L419.6,100.8 L419.0,100.8 L418.2,101.3 L417.3,101.7 L415.7,101.6 L414.9,101.7 L414.3,102.4 L413.2,102.7 L412.2,103.4 L410.9,104.2 L410.8,104.3 L410.5,106.1 L410.5,107.2 L411.1,108.0 L410.9,108.6Z" fill="#2c7cba"/><path d="M461.2,145.2 L462.1,144.9 L463.7,145.1 L465.0,144.8 L465.7,144.8 L466.3,144.9 L467.0,145.1 L468.6,145.1 L470.0,145.0 L471.1,144.9 L472.2,144.0 L473.2,144.0 L474.1,143.8 L474.8,143.7 L476.5,143.4 L477.2,143.2 L478.1,143.3 L478.9,143.5 L479.5,143.2 L480.8,143.5 L482.1,143.9 L483.9,143.6 L484.4,144.2 L484.8,143.9 L485.2,143.5 L486.6,144.3 L487.9,144.3 L488.6,144.5 L490.5,146.0 L490.8,146.2 L491.3,146.1 L492.1,145.0 L492.6,143.9 L492.7,143.0 L493.3,141.5 L492.9,140.1 L492.8,139.0 L493.6,137.9 L492.1,137.1 L492.1,136.3 L492.3,135.4 L492.2,133.9 L491.9,132.9 L491.4,132.8 L490.2,132.3 L489.2,131.8 L488.6,131.3 L487.6,130.8 L486.8,130.2 L485.3,130.2 L484.8,130.7 L483.6,130.6 L482.2,130.3 L481.6,130.8 L480.7,130.8 L479.8,130.9 L479.0,131.5 L478.7,130.3 L477.8,130.1 L477.3,129.3 L476.6,128.3 L476.1,126.9 L475.1,126.2 L474.7,125.6 L475.2,125.1 L474.5,123.4 L473.4,122.6 L472.2,122.9 L471.5,123.0 L470.9,122.1 L468.9,122.5 L467.7,122.2 L466.6,121.5 L466.3,121.2 L466.1,120.6 L465.2,119.5 L463.8,119.5 L462.8,118.6 L461.2,118.2 L461.0,117.5 L461.0,116.8 L461.1,115.2 L461.0,113.9 L460.9,112.6 L460.6,112.8 L459.8,111.6 L458.8,111.2 L457.8,110.2 L457.6,109.3 L456.5,109.4 L455.6,109.7 L455.1,110.1 L453.9,109.8 L452.9,110.2 L452.0,111.5 L451.5,111.3 L450.6,111.6 L450.1,112.0 L449.4,112.2 L448.3,111.9 L447.5,110.7 L446.8,109.7 L445.8,109.7 L445.2,109.2 L444.1,107.7 L443.3,106.7 L443.1,105.7 L443.3,104.7 L443.1,103.7 L442.6,103.0 L441.5,102.3 L441.0,100.9 L440.8,99.7 L440.7,99.6 L440.1,98.9 L440.3,97.8 L440.3,96.7 L440.3,96.0 L439.3,96.1 L438.3,96.4 L436.4,97.1 L435.6,97.1 L434.5,97.2 L433.2,97.3 L432.7,97.4 L431.5,96.9 L430.5,97.3 L429.7,98.5 L429.0,98.1 L427.7,98.3 L426.6,98.6 L427.5,99.7 L427.4,101.0 L427.6,101.4 L427.6,101.7 L428.4,102.8 L428.8,104.1 L429.3,104.7 L429.7,105.2 L430.3,106.6 L431.2,107.7 L431.4,108.9 L431.7,109.8 L432.9,110.0 L433.4,111.4 L433.6,111.6 L434.4,112.3 L434.8,112.7 L435.5,113.2 L435.9,113.9 L436.8,114.6 L438.5,115.4 L439.5,115.8 L440.2,116.2 L440.3,116.8 L442.0,116.5 L442.8,116.4 L443.4,116.3 L445.2,116.0 L446.3,116.7 L447.2,117.1 L446.9,117.1 L447.4,118.1 L447.9,119.2 L447.9,119.4 L448.2,120.8 L448.6,121.8 L449.8,122.4 L451.0,123.1 L451.5,123.4 L452.1,124.4 L452.5,125.3 L453.6,125.8 L454.4,126.4 L454.2,127.6 L454.8,128.3 L455.8,128.9 L455.2,130.4 L455.5,131.0 L456.3,131.5 L457.0,133.0 L457.4,134.1 L457.8,135.0 L458.8,135.3 L458.7,135.9 L458.0,136.4 L457.7,137.9 L457.6,139.4 L457.4,139.5 L456.8,140.4 L456.8,141.7 L457.6,142.0 L458.7,142.1 L458.8,144.0 L459.4,145.0 L460.2,144.6Z" fill="#b8d5ea"/><path d="M414.9,157.4 L414.9,157.6 L414.9,158.6 L415.2,159.4 L416.8,159.9 L417.8,160.4 L418.5,160.6 L419.8,160.4 L420.6,160.8 L422.0,161.2 L423.8,161.5 L424.2,160.4 L424.8,161.6 L425.8,161.7 L426.9,161.2 L428.6,161.7 L429.3,161.8 L429.6,162.1 L431.2,163.1 L432.6,162.7 L433.5,162.8 L434.2,163.3 L435.4,163.3 L436.6,163.5 L437.7,163.8 L437.9,164.4 L438.8,165.0 L439.5,165.7 L440.6,166.3 L441.7,166.4 L442.2,166.9 L442.8,167.4 L443.8,167.2 L445.2,167.1 L446.1,166.2 L446.5,165.4 L447.0,164.8 L448.5,164.5 L449.5,163.6 L451.1,163.3 L451.5,163.0 L452.4,162.7 L453.2,161.9 L454.4,161.7 L455.5,161.5 L456.4,161.3 L457.2,161.0 L457.7,161.1 L457.5,160.7 L457.8,159.3 L457.9,158.1 L458.0,157.4 L458.4,155.8 L458.1,154.1 L458.4,153.2 L459.3,153.1 L458.6,151.8 L459.3,150.3 L459.2,149.4 L458.5,149.1 L458.7,147.7 L458.7,146.6 L458.6,145.4 L458.8,145.2 L458.8,144.0 L458.0,144.2 L457.1,144.7 L455.3,144.5 L454.1,144.5 L453.3,144.5 L451.9,144.2 L451.5,144.8 L451.0,144.8 L449.7,143.9 L448.8,143.2 L447.8,143.5 L447.6,142.5 L446.7,142.2 L445.3,142.3 L444.1,140.9 L443.1,140.6 L442.2,140.5 L440.8,141.0 L439.9,140.9 L438.9,140.5 L437.6,140.3 L436.6,140.1 L436.4,139.2 L436.1,138.1 L436.6,137.5 L435.4,136.5 L434.3,136.9 L433.4,136.8 L432.5,136.5 L431.2,136.4 L430.6,136.6 L429.8,136.6 L428.7,136.3 L427.8,136.1 L426.2,135.5 L424.9,135.2 L423.9,135.1 L423.0,134.7 L422.7,133.9 L421.7,133.5 L420.6,133.7 L419.2,133.8 L418.0,133.4 L417.8,132.8 L417.4,132.3 L415.6,130.8 L414.8,131.0 L413.8,131.0 L413.3,130.8 L412.5,130.4 L410.8,129.7 L409.7,129.3 L409.2,128.9 L409.2,129.9 L408.8,131.6 L408.7,132.2 L408.2,133.2 L407.9,134.6 L407.9,135.0 L408.3,135.4 L409.6,136.3 L410.5,137.7 L409.2,137.8 L408.0,138.2 L406.7,139.1 L406.9,139.3 L406.2,139.6 L405.4,140.3 L405.0,141.0 L405.1,143.1 L405.6,143.2 L406.3,143.8 L406.7,144.6 L406.4,145.5 L407.3,146.3 L408.2,147.2 L409.1,148.6 L409.5,149.5 L409.4,150.7 L409.7,151.5 L410.6,152.1 L411.5,153.2 L412.1,153.6 L412.2,154.6 L412.4,154.6 L412.8,156.1 L413.3,157.6Z" fill="#5ea5d0"/><path d="M414.6,164.3 L414.8,165.3 L414.6,166.8 L415.4,167.7 L415.7,168.6 L415.9,168.8 L416.3,169.8 L415.6,170.9 L414.3,172.1 L413.9,172.8 L414.1,173.6 L413.5,174.4 L413.9,175.1 L413.6,176.2 L413.8,177.1 L414.3,178.2 L415.0,179.2 L415.3,180.1 L415.4,181.2 L415.0,181.8 L415.4,182.3 L416.5,182.7 L415.4,183.2 L414.1,183.9 L414.8,183.8 L415.3,184.0 L416.6,185.3 L417.4,185.3 L418.5,185.1 L420.4,184.6 L421.1,185.7 L422.4,185.9 L423.7,185.9 L423.8,186.0 L424.4,186.8 L425.4,186.9 L426.7,186.4 L428.3,187.6 L429.5,187.2 L430.3,186.8 L431.7,187.6 L432.0,187.6 L433.1,187.9 L433.6,188.3 L435.3,189.9 L436.5,189.8 L437.4,190.1 L438.5,191.0 L440.0,190.1 L440.5,190.3 L441.0,190.7 L442.8,190.5 L443.2,190.8 L444.1,191.0 L445.4,190.3 L446.1,190.3 L447.6,189.8 L448.9,189.6 L449.3,189.9 L449.8,189.0 L451.1,188.5 L452.7,188.2 L453.0,188.5 L453.6,188.7 L454.1,188.2 L455.0,187.4 L456.1,186.6 L457.5,187.5 L457.0,186.3 L456.8,185.2 L456.8,184.2 L456.6,182.9 L455.9,182.6 L456.7,182.0 L456.8,180.8 L457.9,179.9 L458.6,178.8 L459.1,178.3 L458.6,178.0 L458.6,177.1 L458.5,176.3 L457.0,174.7 L456.9,174.1 L456.4,172.9 L457.2,172.1 L457.7,171.3 L458.3,169.9 L458.7,170.0 L458.9,169.3 L459.2,168.4 L458.2,167.0 L457.9,166.0 L457.6,165.0 L458.1,163.7 L458.5,163.2 L458.4,162.3 L457.7,161.1 L457.2,161.0 L456.4,161.3 L455.5,161.5 L454.4,161.7 L453.2,161.9 L452.4,162.7 L451.5,163.0 L451.1,163.3 L449.5,163.6 L448.5,164.5 L447.0,164.8 L446.5,165.4 L446.1,166.2 L445.2,167.1 L443.8,167.2 L442.8,167.4 L442.2,166.9 L441.7,166.4 L440.6,166.3 L439.5,165.7 L438.8,165.0 L437.9,164.4 L437.7,163.8 L436.6,163.5 L435.4,163.3 L434.2,163.3 L433.5,162.8 L432.6,162.7 L431.2,163.1 L429.6,162.1 L429.3,161.8 L428.6,161.7 L426.9,161.2 L425.8,161.7 L424.8,161.6 L424.2,160.4 L423.8,161.5 L422.0,161.2 L420.6,160.8 L419.8,160.4 L418.5,160.6 L417.8,160.4 L416.8,159.9 L415.2,159.4 L414.9,158.6 L414.9,157.6 L414.7,158.9 L414.7,160.7 L414.3,161.6 L413.6,162.1 L413.9,163.7Z" fill="#2c7cba"/><path d="M458.8,144.0 L458.8,145.2 L458.6,145.4 L458.7,146.6 L458.7,147.7 L458.5,149.1 L459.2,149.4 L459.3,150.3 L458.6,151.8 L459.3,153.1 L458.4,153.2 L458.1,154.1 L458.4,155.8 L458.0,157.4 L457.9,158.1 L457.8,159.3 L457.5,160.7 L457.7,161.1 L458.4,162.3 L458.5,163.2 L458.1,163.7 L457.6,165.0 L457.9,166.0 L458.2,167.0 L459.2,168.4 L458.9,169.3 L458.7,170.0 L458.3,169.9 L457.7,171.3 L457.2,172.1 L456.4,172.9 L456.9,174.1 L457.0,174.7 L458.5,176.3 L458.6,177.1 L458.6,178.0 L459.1,178.3 L458.6,178.8 L457.8,179.9 L456.8,180.9 L456.7,182.0 L455.9,182.7 L456.6,182.9 L456.8,184.2 L456.8,185.3 L456.9,186.2 L457.4,187.4 L458.3,187.7 L459.3,187.8 L460.0,188.5 L459.7,189.9 L460.0,190.8 L461.0,191.1 L462.7,192.7 L462.8,193.1 L463.6,193.4 L464.7,194.3 L465.5,195.1 L466.0,195.5 L466.7,196.4 L467.7,197.4 L467.5,198.2 L467.8,198.8 L469.0,199.4 L469.5,200.3 L470.3,202.1 L470.9,200.8 L471.4,199.6 L471.2,198.9 L471.7,198.2 L472.4,197.1 L472.5,196.5 L472.7,195.9 L473.6,195.4 L474.4,193.7 L474.6,192.8 L475.1,192.0 L475.5,190.1 L475.4,188.7 L475.2,187.6 L475.5,186.8 L476.8,187.2 L475.7,185.6 L475.6,184.6 L475.8,183.7 L475.7,182.2 L475.8,181.0 L476.4,180.3 L477.1,179.6 L477.2,178.4 L477.5,176.9 L479.0,176.9 L479.9,177.5 L481.0,177.3 L481.3,176.6 L482.1,176.1 L483.1,175.8 L484.5,175.5 L485.7,175.3 L486.6,175.0 L486.3,175.2 L487.5,174.9 L488.9,174.6 L488.5,173.0 L488.4,172.7 L488.5,172.0 L488.8,171.2 L487.8,170.2 L487.9,169.3 L488.1,168.2 L488.6,166.9 L488.3,165.6 L488.3,164.7 L489.1,164.3 L488.9,163.7 L488.8,162.3 L489.6,161.3 L490.6,161.0 L491.1,160.5 L491.4,159.8 L492.1,159.0 L492.2,157.5 L492.2,155.9 L492.5,155.7 L492.8,154.3 L493.0,153.3 L493.3,153.0 L493.7,151.3 L493.7,150.1 L493.6,149.0 L493.9,148.4 L492.8,147.9 L492.0,146.9 L491.3,146.1 L490.8,146.2 L490.5,146.0 L488.6,144.5 L487.9,144.3 L486.6,144.3 L485.2,143.5 L484.8,143.9 L484.4,144.2 L483.9,143.6 L482.1,143.9 L480.8,143.5 L479.5,143.2 L478.9,143.5 L478.1,143.3 L477.2,143.2 L476.5,143.4 L474.8,143.7 L474.1,143.8 L473.2,144.0 L472.2,144.0 L471.1,144.9 L470.0,145.0 L468.6,145.1 L467.0,145.1 L466.3,144.9 L465.7,144.8 L465.0,144.8 L463.7,145.1 L462.1,144.9 L461.2,145.2 L460.2,144.6 L459.4,145.0Z" fill="#1966ac"/><path d="M499.4,177.2 L500.3,178.0 L501.6,178.8 L502.5,178.8 L503.1,179.0 L504.0,179.5 L505.4,179.7 L507.0,180.4 L508.1,180.9 L509.0,181.2 L508.8,180.3 L510.4,181.2 L511.8,181.7 L513.0,181.4 L513.3,182.0 L514.2,181.8 L515.2,181.3 L516.5,181.8 L517.4,181.8 L518.1,181.5 L518.8,181.2 L518.3,180.7 L519.1,180.6 L520.4,180.8 L521.3,179.5 L521.8,178.5 L521.6,178.3 L521.9,177.1 L522.4,176.1 L523.1,174.5 L523.2,173.6 L522.7,172.6 L522.1,171.6 L522.5,170.6 L522.8,169.8 L523.0,168.9 L523.4,167.4 L524.0,167.5 L525.0,167.7 L526.3,167.3 L527.6,167.0 L528.2,166.5 L528.7,166.0 L529.5,165.4 L530.5,165.5 L531.4,165.5 L532.3,165.5 L531.5,164.7 L530.4,164.5 L530.2,163.3 L529.5,162.5 L528.3,162.1 L527.8,161.3 L526.6,161.3 L525.7,160.5 L524.6,159.9 L524.2,159.9 L523.2,158.9 L521.7,158.2 L521.1,158.3 L519.8,157.5 L518.5,157.7 L518.0,156.8 L516.8,156.7 L515.6,156.0 L515.5,154.7 L514.8,154.6 L514.8,154.3 L514.6,153.4 L513.8,152.5 L512.8,151.2 L512.5,150.4 L511.9,149.8 L511.0,148.6 L511.7,147.9 L512.2,146.9 L512.4,145.5 L513.1,145.2 L513.2,144.4 L512.7,142.4 L513.4,142.0 L513.5,141.1 L513.2,139.6 L512.9,138.8 L512.5,138.8 L511.2,139.4 L510.4,139.5 L510.7,140.4 L510.5,141.7 L510.3,143.0 L509.7,144.3 L510.1,144.9 L509.0,144.8 L507.3,145.2 L507.3,146.2 L506.0,147.1 L504.8,146.5 L504.5,147.4 L503.5,147.6 L502.6,148.2 L500.5,148.0 L500.1,149.1 L498.9,149.3 L497.9,149.0 L497.2,148.5 L496.2,148.6 L495.0,149.1 L494.5,148.5 L493.9,148.4 L493.6,149.0 L493.7,150.1 L493.7,151.3 L493.3,153.0 L493.0,153.3 L492.8,154.3 L492.5,155.7 L492.2,155.9 L492.2,157.5 L492.1,159.0 L491.4,159.8 L491.1,160.5 L490.6,161.0 L489.6,161.3 L488.8,162.3 L488.9,163.7 L489.1,164.3 L488.3,164.7 L488.3,165.6 L488.6,166.9 L488.1,168.2 L487.9,169.3 L487.8,170.2 L488.8,171.2 L488.5,172.0 L488.4,172.7 L488.5,173.0 L488.9,174.6 L490.5,174.8 L490.9,174.3 L491.5,174.6 L492.2,175.2 L493.6,175.1 L494.4,175.5 L495.3,175.4 L495.9,176.5 L497.1,176.8 L498.5,176.6Z" fill="#0c5198"/><path d="M518.2,189.6 L517.8,190.2 L518.7,191.5 L518.6,192.7 L518.7,193.8 L518.9,195.0 L519.1,195.4 L518.7,196.3 L518.0,197.4 L518.0,199.2 L518.3,199.5 L517.9,200.3 L517.2,201.3 L517.0,202.4 L516.5,203.5 L516.7,204.3 L518.1,205.8 L518.5,206.9 L518.7,208.0 L518.4,207.9 L518.7,208.4 L519.1,209.4 L520.3,210.1 L520.6,210.5 L521.6,212.0 L521.9,212.5 L523.0,213.4 L524.6,213.5 L525.1,213.7 L525.8,214.5 L527.0,215.4 L527.1,216.3 L528.3,216.5 L529.4,216.5 L530.1,217.2 L530.6,217.6 L531.5,219.0 L531.9,219.2 L532.7,219.8 L533.8,220.8 L534.4,221.4 L535.5,221.1 L536.9,220.1 L538.0,219.2 L539.1,219.7 L540.4,218.8 L541.5,218.7 L541.9,218.4 L542.4,217.9 L543.0,217.4 L544.2,217.3 L544.6,216.2 L544.7,215.1 L544.7,214.3 L544.4,213.7 L543.7,213.5 L543.8,211.9 L544.0,210.6 L544.3,209.4 L544.2,208.5 L544.1,207.5 L544.0,206.5 L543.7,206.1 L543.2,204.5 L543.2,203.3 L543.9,202.5 L543.8,202.2 L544.3,200.9 L544.9,199.9 L545.1,199.6 L545.7,197.5 L545.8,196.7 L545.6,195.7 L545.2,195.2 L544.8,192.8 L544.5,192.3 L544.3,191.7 L544.7,190.9 L543.8,189.3 L543.8,188.2 L543.7,187.4 L543.5,186.7 L543.1,185.7 L543.3,184.5 L544.1,183.0 L543.9,182.0 L543.6,180.6 L543.1,179.6 L542.5,179.3 L542.4,177.7 L542.6,176.8 L542.1,176.0 L540.7,175.9 L540.2,175.1 L540.3,173.7 L539.2,173.8 L537.9,173.2 L536.9,172.8 L535.4,172.6 L534.4,172.6 L534.2,171.6 L534.6,171.1 L534.4,170.6 L534.5,169.7 L533.6,169.7 L532.9,169.0 L532.6,167.7 L532.9,167.0 L533.2,166.3 L532.7,165.8 L532.9,165.9 L532.3,165.5 L531.4,165.4 L530.5,165.4 L529.5,165.4 L528.7,166.0 L528.2,166.5 L527.6,167.0 L526.3,167.3 L525.0,167.7 L524.0,167.5 L523.4,167.4 L523.0,168.9 L522.8,169.8 L522.5,170.6 L522.1,171.6 L522.7,172.6 L523.2,173.6 L523.1,174.5 L522.4,176.1 L521.9,177.1 L521.6,178.3 L521.8,178.5 L521.3,179.5 L520.4,180.8 L519.1,180.6 L518.3,180.7 L519.6,182.0 L519.9,182.6 L519.4,183.2 L519.5,183.9 L518.7,185.0 L518.6,186.3 L519.0,187.4 L518.8,188.7Z" fill="#0c5198"/><path d="M553.8,223.3 L554.4,223.3 L554.8,223.2 L555.2,223.0 L556.6,222.2 L558.1,221.6 L559.2,221.3 L560.5,221.4 L560.5,220.7 L561.3,220.6 L562.4,220.6 L564.2,219.3 L565.0,219.3 L565.4,219.7 L567.7,219.5 L568.4,220.0 L569.1,219.9 L569.6,219.4 L570.5,219.2 L570.8,219.3 L571.8,218.1 L573.2,216.9 L574.0,217.6 L575.1,217.8 L576.1,217.9 L576.9,218.0 L577.7,218.7 L578.8,218.2 L579.9,217.5 L580.5,217.8 L581.2,217.6 L581.9,216.8 L582.8,216.3 L583.9,216.3 L585.6,216.4 L586.0,216.4 L586.7,216.1 L587.6,215.7 L588.0,214.7 L588.2,214.1 L588.4,213.4 L588.7,212.7 L588.3,212.0 L587.5,211.5 L586.4,211.1 L585.2,211.2 L584.7,210.3 L583.9,209.7 L582.9,209.9 L581.4,208.7 L580.7,208.4 L580.1,208.2 L578.9,207.8 L577.3,208.0 L575.9,207.3 L574.8,206.4 L574.4,206.7 L573.3,205.9 L572.9,204.9 L571.7,205.2 L570.6,205.0 L570.7,204.9 L569.5,204.4 L568.1,203.9 L567.1,203.4 L566.1,203.0 L565.4,202.6 L564.7,201.9 L564.3,200.8 L563.9,200.0 L562.6,199.8 L562.1,199.2 L562.3,198.2 L561.6,197.7 L560.1,196.6 L559.3,196.2 L559.3,196.1 L557.4,194.8 L556.5,194.2 L555.3,193.5 L555.1,192.7 L554.5,192.2 L553.1,191.7 L552.8,191.0 L551.9,191.1 L551.1,190.5 L551.2,189.2 L550.6,188.6 L550.1,187.3 L550.7,186.5 L551.2,185.6 L551.5,184.8 L550.9,183.9 L551.4,182.8 L551.2,181.6 L550.6,180.1 L549.8,179.8 L549.7,178.6 L549.3,177.1 L549.6,175.9 L549.2,175.5 L548.7,175.2 L548.4,173.8 L548.1,172.2 L549.1,171.8 L549.7,171.4 L548.5,171.5 L547.3,171.4 L546.2,171.4 L546.7,170.6 L546.2,169.6 L544.7,167.7 L543.5,167.2 L542.7,167.2 L542.0,167.5 L540.8,167.4 L539.7,167.1 L539.3,167.2 L537.9,167.8 L537.0,168.5 L537.0,169.1 L535.7,169.3 L534.4,169.9 L534.4,170.6 L534.6,171.1 L534.2,171.6 L534.4,172.5 L535.4,172.6 L536.8,172.8 L537.9,173.2 L539.2,173.8 L540.3,173.7 L540.2,175.1 L540.7,175.9 L542.1,176.0 L542.6,176.8 L542.4,177.7 L542.5,179.3 L543.1,179.6 L543.6,180.6 L543.9,182.0 L544.1,183.0 L543.3,184.5 L543.1,185.7 L543.5,186.7 L543.7,187.4 L543.8,188.2 L543.8,189.3 L544.7,190.9 L544.3,191.7 L544.5,192.3 L544.8,192.8 L545.2,195.2 L545.6,195.7 L545.8,196.7 L545.7,197.5 L545.1,199.6 L544.9,199.9 L544.3,200.9 L543.8,202.2 L543.9,202.5 L543.2,203.3 L543.2,204.5 L543.7,206.1 L544.0,206.5 L544.1,207.5 L544.2,208.5 L544.3,209.4 L544.0,210.6 L543.8,211.9 L543.7,213.5 L544.4,213.7 L544.7,214.3 L544.7,215.1 L544.6,216.2 L544.2,217.3 L544.8,217.7 L545.3,217.6 L546.4,217.9 L547.5,218.6 L548.2,219.8 L549.1,220.1 L549.7,220.7 L550.6,220.8 L551.8,221.1 L553.1,221.9Z" fill="#7cb7d9"/><path d="M591.7,200.8 L591.4,199.8 L590.6,199.7 L589.5,199.5 L588.6,199.2 L587.7,198.6 L586.8,197.2 L585.8,196.7 L585.5,196.5 L585.1,195.9 L583.6,196.0 L582.9,194.9 L583.1,193.7 L583.7,192.7 L583.9,191.8 L584.0,191.2 L584.4,191.1 L584.9,190.1 L585.9,189.0 L586.4,188.6 L586.6,187.2 L588.0,188.4 L589.0,188.5 L589.9,188.7 L591.0,189.3 L591.9,189.3 L592.5,188.9 L593.4,189.6 L593.8,190.2 L594.4,190.8 L596.3,191.4 L597.3,191.0 L598.4,190.9 L598.3,192.3 L600.3,192.4 L601.5,192.3 L601.5,191.1 L601.9,190.6 L602.8,189.6 L603.7,188.1 L603.1,187.1 L602.6,186.7 L602.4,186.2 L601.8,185.0 L601.1,184.9 L600.4,184.8 L599.4,184.2 L598.6,183.2 L598.5,183.2 L597.6,182.9 L596.0,182.2 L595.2,183.2 L594.4,184.2 L594.4,184.4 L593.0,184.2 L591.8,184.9 L591.0,185.8 L590.1,185.5 L589.0,186.1 L588.0,186.9 L587.4,186.1 L586.3,186.1 L585.7,186.0 L585.4,185.7 L584.5,185.5 L583.6,184.5 L582.9,183.2 L583.2,182.0 L582.3,181.5 L582.0,182.3 L581.1,182.4 L579.4,181.4 L579.1,181.9 L578.6,182.5 L576.9,182.9 L575.6,183.8 L575.0,183.8 L574.5,182.9 L574.2,181.1 L573.6,181.2 L572.5,181.1 L572.2,180.3 L571.1,179.4 L570.5,178.7 L570.3,177.7 L569.5,176.5 L569.9,175.0 L569.7,174.3 L569.1,173.9 L569.0,172.8 L568.9,172.0 L567.8,171.5 L566.6,170.9 L565.7,169.7 L565.4,169.9 L564.5,169.3 L563.4,168.6 L561.5,169.4 L560.5,169.3 L559.7,168.9 L558.4,169.0 L557.0,168.6 L556.1,168.5 L556.0,169.1 L555.2,169.5 L554.3,170.0 L553.1,169.9 L552.2,170.2 L551.5,170.7 L551.3,170.5 L550.3,170.7 L549.5,171.0 L549.4,171.6 L548.1,172.1 L548.4,173.8 L548.7,175.2 L549.1,175.5 L549.6,175.9 L549.3,177.1 L549.7,178.6 L549.8,179.8 L550.6,180.1 L551.2,181.6 L551.4,182.8 L550.9,183.9 L551.5,184.8 L551.2,185.6 L550.7,186.5 L550.1,187.3 L550.6,188.6 L551.2,189.2 L551.1,190.5 L551.9,191.1 L552.8,191.0 L553.1,191.7 L554.5,192.2 L555.1,192.7 L555.3,193.5 L556.5,194.2 L557.4,194.8 L559.3,196.1 L559.3,196.2 L560.1,196.6 L561.6,197.7 L562.3,198.2 L562.1,199.2 L562.6,199.8 L563.9,200.0 L564.3,200.8 L564.7,201.9 L565.4,202.6 L566.1,203.0 L567.1,203.4 L568.1,203.9 L569.5,204.4 L570.7,204.9 L570.6,205.0 L571.7,205.2 L572.9,204.9 L573.3,205.9 L574.4,206.7 L574.8,206.4 L575.9,207.3 L577.3,208.0 L578.9,207.8 L580.1,208.2 L580.7,208.4 L581.4,208.7 L582.9,209.9 L583.9,209.7 L584.7,210.3 L585.2,211.2 L586.4,211.1 L587.5,211.5 L588.3,212.0 L588.7,212.7 L590.2,212.0 L591.1,211.0 L591.6,210.4 L592.4,210.1 L593.1,209.4 L593.7,208.6 L594.2,207.1 L593.9,206.2 L593.6,205.4 L593.8,205.0 L593.3,204.0 L592.9,203.1 L592.4,202.0 L592.0,201.0Z" fill="#5ea5d0"/><path d="M586.6,187.2 L586.4,188.6 L585.9,189.0 L584.9,190.1 L584.4,191.1 L584.0,191.2 L583.9,191.8 L583.7,192.7 L583.1,193.7 L582.9,194.9 L583.6,196.0 L585.1,195.9 L585.5,196.5 L585.8,196.7 L586.8,197.2 L587.7,198.6 L588.6,199.2 L589.5,199.5 L590.6,199.7 L591.4,199.8 L591.7,200.8 L592.0,201.0 L592.4,202.0 L592.9,203.1 L593.3,204.0 L593.8,205.0 L593.6,205.4 L593.9,206.2 L594.2,207.1 L593.7,208.6 L593.1,209.4 L592.4,210.1 L591.6,210.4 L591.1,211.0 L590.2,212.0 L588.7,212.7 L588.4,213.4 L588.2,214.1 L588.0,214.7 L587.6,215.7 L588.2,216.3 L588.5,217.6 L588.7,218.9 L589.6,219.2 L590.6,219.8 L590.5,221.1 L591.3,221.7 L592.0,222.1 L592.3,223.9 L592.9,225.1 L593.4,225.3 L593.9,225.8 L594.7,225.8 L596.0,225.4 L597.0,226.0 L598.2,226.0 L598.9,226.6 L599.6,227.3 L600.5,227.7 L601.5,228.0 L602.4,228.9 L603.7,229.7 L604.3,230.4 L604.8,230.8 L605.8,231.1 L605.9,230.6 L606.3,230.0 L607.7,228.3 L608.0,227.7 L607.9,226.7 L607.6,225.2 L608.6,224.4 L609.2,223.2 L609.4,222.1 L609.8,221.1 L609.7,220.1 L610.3,219.0 L611.2,217.8 L611.8,217.0 L611.8,215.7 L612.1,214.7 L612.7,214.1 L612.9,213.8 L613.2,213.2 L613.6,211.3 L613.7,210.4 L613.7,209.6 L614.4,209.3 L614.9,208.3 L616.0,207.8 L616.8,206.9 L617.0,205.8 L616.3,205.2 L617.2,204.1 L618.3,202.6 L618.5,201.5 L619.3,200.7 L619.8,199.9 L619.1,198.5 L619.6,198.1 L620.6,197.7 L620.7,195.7 L621.0,194.9 L621.3,193.6 L621.5,193.6 L621.8,192.6 L622.3,191.4 L621.8,191.4 L620.6,191.2 L619.4,191.1 L618.0,190.8 L616.6,190.5 L616.2,190.4 L615.4,189.8 L614.7,189.3 L613.9,189.4 L612.7,189.1 L611.7,188.5 L610.3,188.1 L608.5,188.6 L607.9,188.1 L606.5,188.4 L605.3,188.3 L604.6,187.1 L603.1,187.1 L603.7,188.1 L602.8,189.6 L601.9,190.6 L601.5,191.1 L601.5,192.3 L600.3,192.4 L598.3,192.3 L598.4,190.9 L597.3,191.0 L596.3,191.4 L594.4,190.8 L593.8,190.2 L593.4,189.6 L592.5,188.9 L591.9,189.3 L591.0,189.3 L589.9,188.7 L589.0,188.5 L588.0,188.4Z" fill="#cde0f1"/><path d="M442.5,190.5 L440.7,190.6 L440.5,190.2 L439.9,190.2 L438.4,191.0 L437.4,190.1 L436.5,189.8 L435.3,189.9 L433.6,188.3 L433.1,187.9 L432.0,187.6 L431.7,187.6 L430.3,186.8 L429.5,187.2 L428.3,187.6 L426.7,186.4 L425.4,186.9 L424.4,186.8 L423.8,186.0 L423.7,185.9 L422.4,185.9 L421.1,185.7 L420.4,184.6 L418.5,185.1 L417.4,185.3 L416.6,185.3 L415.3,184.0 L414.8,183.8 L414.1,183.9 L413.4,184.5 L412.9,185.0 L412.1,185.6 L412.3,186.1 L411.6,186.9 L411.1,187.9 L411.0,188.7 L410.6,189.2 L411.6,189.5 L412.2,189.9 L413.2,191.0 L414.8,190.9 L415.4,191.0 L415.8,190.6 L416.4,192.0 L417.6,192.5 L419.2,193.0 L419.5,193.2 L420.4,193.3 L421.7,193.4 L422.3,193.9 L423.2,194.3 L424.6,194.5 L425.4,195.4 L426.1,196.7 L426.8,196.0 L427.8,196.2 L428.8,196.8 L429.7,197.0 L430.5,196.7 L431.3,196.3 L431.6,195.9 L432.3,195.8 L432.8,195.9 L433.4,196.1 L432.6,197.0 L432.9,197.5 L432.7,198.2 L432.2,199.4 L431.6,200.3 L430.2,201.3 L431.5,200.4 L432.2,199.9 L432.4,198.9 L432.9,199.2 L433.5,199.6 L435.3,199.6 L435.8,199.7 L435.0,199.2 L435.0,198.2 L433.9,197.5 L433.4,196.7 L433.5,195.7 L435.1,196.9 L435.7,196.9 L436.6,196.8 L438.8,196.7 L439.0,195.5 L439.7,195.4 L440.5,196.0 L440.5,195.0 L441.1,194.2 L441.7,193.3 L442.2,191.6Z" fill="#7cb7d9"/><path d="M405.0,192.3 L406.3,193.2 L406.4,194.4 L406.7,195.5 L406.7,196.5 L406.3,197.5 L406.8,198.2 L407.4,199.3 L407.7,200.1 L407.7,201.2 L407.8,202.0 L408.7,202.2 L408.8,204.4 L409.2,204.9 L409.6,206.5 L410.0,207.2 L411.0,207.7 L411.4,208.1 L411.2,210.3 L411.5,210.7 L412.4,211.4 L412.8,212.5 L414.0,213.6 L415.0,214.6 L415.6,214.9 L415.7,215.5 L415.6,216.6 L416.5,217.8 L416.6,219.0 L417.9,219.4 L418.7,219.6 L419.2,220.1 L419.8,221.4 L419.9,219.4 L420.6,219.1 L421.2,218.4 L421.1,217.6 L421.5,216.7 L422.3,215.7 L423.0,214.9 L422.6,213.6 L422.5,212.6 L423.6,212.0 L423.7,210.7 L423.7,209.6 L423.7,208.6 L424.3,208.1 L424.7,206.7 L425.3,206.0 L426.0,205.9 L426.6,204.2 L427.0,203.2 L426.9,202.1 L426.9,201.2 L427.7,200.1 L427.7,199.8 L428.4,198.2 L428.8,196.8 L427.8,196.2 L426.8,196.0 L426.1,196.7 L425.4,195.4 L424.6,194.5 L423.2,194.3 L422.3,193.9 L421.7,193.4 L420.4,193.3 L419.5,193.2 L419.2,193.0 L417.6,192.5 L416.4,192.0 L415.8,190.6 L415.4,191.0 L414.8,190.9 L413.2,191.0 L412.2,189.9 L411.6,189.5 L410.6,189.2 L409.8,189.7 L409.5,189.9 L408.3,190.8 L407.1,191.6 L405.2,191.7Z" fill="#b8d5ea"/><path d="M424.9,228.3 L426.0,228.4 L426.7,228.0 L427.1,227.5 L427.6,227.2 L428.5,226.7 L429.6,226.4 L430.8,227.0 L432.0,226.6 L432.9,226.5 L433.7,227.0 L434.7,226.7 L435.7,226.9 L436.6,226.4 L437.5,225.7 L437.8,223.9 L437.7,223.3 L437.7,222.2 L437.5,221.8 L437.9,220.4 L438.0,219.2 L438.0,218.1 L439.0,217.4 L439.1,216.0 L439.1,214.6 L439.3,213.5 L439.6,212.9 L439.6,211.5 L439.8,210.8 L440.1,210.1 L440.1,209.0 L440.4,207.3 L440.6,206.5 L440.0,206.7 L439.2,206.1 L438.2,205.8 L436.3,206.2 L435.5,205.9 L434.9,205.5 L433.9,206.2 L433.0,206.3 L432.2,205.5 L432.0,204.7 L431.7,203.8 L432.2,203.1 L432.6,202.6 L431.8,201.7 L430.9,201.3 L429.9,201.3 L430.9,201.8 L431.7,202.4 L431.7,203.9 L431.8,204.8 L431.8,205.5 L432.5,206.1 L431.7,206.3 L431.0,206.6 L430.8,206.2 L430.3,205.6 L429.3,204.6 L428.2,203.5 L428.2,202.4 L428.0,202.4 L428.2,201.4 L428.6,200.1 L427.8,199.7 L429.1,198.9 L430.4,198.1 L431.0,196.8 L431.4,196.2 L430.7,196.4 L430.1,196.9 L429.4,196.9 L428.8,196.7 L428.4,198.2 L427.7,199.8 L427.6,200.1 L426.9,201.2 L426.9,202.1 L427.0,203.2 L426.6,204.2 L425.9,205.9 L425.3,206.0 L424.7,206.7 L424.3,208.1 L423.7,208.6 L423.7,209.6 L423.7,210.7 L423.6,212.0 L422.5,212.6 L422.6,213.6 L423.0,214.9 L422.3,215.7 L421.5,216.7 L421.1,217.6 L421.2,218.4 L420.6,219.1 L419.9,219.4 L419.8,221.4 L420.4,222.2 L420.5,223.0 L421.1,223.8 L421.4,225.4 L421.3,226.5 L420.3,227.3 L421.3,227.6 L421.9,228.1 L422.1,227.8 L422.5,227.5 L423.7,228.1Z" fill="#7cb7d9"/><path d="M444.1,191.0 L443.3,190.9 L443.2,190.6 L442.5,190.5 L442.2,191.6 L441.7,193.3 L441.1,194.2 L440.5,195.0 L440.5,196.0 L439.7,195.5 L440.4,196.2 L440.7,197.2 L440.8,198.0 L440.7,198.1 L441.1,199.0 L441.0,200.0 L440.4,201.3 L440.1,201.3 L440.4,202.0 L440.6,202.7 L441.5,203.9 L441.4,205.0 L441.0,206.1 L441.0,206.4 L440.6,206.5 L440.4,207.4 L440.0,209.0 L440.0,210.2 L439.8,210.8 L439.6,211.5 L439.6,212.9 L439.3,213.5 L439.1,214.7 L439.1,216.0 L439.0,217.5 L438.0,218.1 L438.0,219.2 L437.8,220.4 L437.5,221.8 L437.7,222.2 L437.7,223.3 L437.8,223.9 L437.5,225.7 L436.6,226.4 L435.7,226.9 L435.8,228.0 L436.7,229.4 L437.6,230.5 L437.7,230.8 L437.8,232.4 L438.5,233.0 L439.6,232.9 L440.3,233.5 L440.2,234.6 L440.6,235.1 L442.1,235.3 L443.4,235.4 L444.0,235.3 L445.5,236.0 L446.0,235.7 L446.6,235.5 L447.3,235.2 L447.6,233.9 L448.5,233.8 L449.0,232.7 L450.9,233.2 L451.9,233.6 L452.7,233.9 L453.1,233.5 L454.2,233.8 L455.7,235.3 L455.4,233.7 L454.8,233.1 L454.3,232.4 L453.9,230.9 L454.5,229.8 L455.1,229.0 L454.8,228.5 L455.7,227.6 L456.6,226.0 L456.4,225.6 L456.9,225.9 L458.5,225.1 L459.7,224.7 L460.7,224.6 L461.9,224.5 L463.1,224.8 L464.1,224.5 L464.9,224.6 L466.0,224.1 L467.1,223.8 L468.2,223.7 L467.2,222.9 L467.0,221.8 L466.9,220.6 L467.2,219.5 L467.8,218.4 L468.3,217.5 L468.7,216.7 L468.4,215.5 L469.0,214.6 L470.1,214.3 L471.1,212.6 L471.3,211.9 L470.7,211.2 L470.1,209.9 L469.8,209.0 L469.3,208.2 L469.6,207.8 L469.8,207.0 L469.9,205.6 L469.8,204.2 L469.5,203.4 L469.6,202.5 L470.3,202.1 L469.5,200.3 L469.0,199.4 L467.8,198.8 L467.5,198.2 L467.7,197.4 L466.7,196.4 L466.0,195.5 L465.5,195.1 L464.7,194.3 L463.6,193.4 L462.8,193.1 L462.7,192.7 L461.0,191.1 L460.0,190.8 L459.7,189.9 L460.0,188.5 L459.3,187.8 L458.3,187.7 L457.4,187.4 L456.1,186.6 L455.1,187.3 L454.2,188.1 L453.7,188.6 L453.0,188.6 L452.8,188.2 L451.1,188.5 L449.8,189.0 L449.3,189.9 L448.9,189.6 L447.6,189.8 L446.1,190.3 L445.4,190.3Z" fill="#5ea5d0"/><path d="M470.3,202.1 L469.6,202.5 L469.5,203.4 L469.8,204.2 L469.9,205.6 L469.8,207.0 L469.6,207.8 L469.3,208.2 L469.8,209.0 L470.1,209.9 L470.7,211.2 L471.3,211.9 L471.8,212.1 L472.8,212.2 L473.6,212.4 L474.1,212.4 L475.1,212.8 L476.1,213.5 L476.6,213.3 L477.7,213.9 L479.2,214.7 L479.9,215.0 L481.2,215.3 L482.2,215.5 L483.5,215.8 L484.5,214.4 L485.2,213.8 L485.9,213.1 L486.8,212.5 L487.6,212.0 L488.1,211.3 L488.5,210.0 L489.2,209.1 L489.6,209.3 L490.7,208.9 L492.0,208.0 L492.6,207.9 L493.9,208.4 L495.1,208.8 L495.2,208.5 L496.7,208.3 L497.4,209.0 L497.5,209.2 L498.2,209.8 L499.4,211.1 L500.0,211.6 L501.7,212.0 L502.0,212.2 L502.8,212.8 L502.9,213.4 L503.9,213.6 L505.1,214.1 L505.7,214.9 L506.8,215.1 L508.4,215.6 L509.3,215.3 L510.0,215.1 L510.8,216.4 L511.7,215.3 L512.7,214.5 L514.1,214.7 L514.9,213.5 L515.4,212.5 L516.9,211.8 L517.8,211.2 L518.5,210.6 L519.2,210.6 L519.8,209.8 L519.1,209.4 L518.7,208.4 L518.4,207.9 L518.7,208.0 L518.5,206.9 L518.1,205.8 L516.7,204.3 L516.5,203.5 L517.0,202.4 L517.2,201.3 L517.9,200.3 L518.3,199.5 L518.0,199.2 L518.0,197.4 L518.7,196.3 L519.1,195.4 L518.9,195.0 L518.7,193.8 L518.6,192.7 L518.7,191.5 L517.8,190.2 L518.2,189.6 L518.8,188.7 L519.0,187.4 L518.6,186.3 L518.7,185.0 L519.5,183.9 L519.4,183.2 L519.9,182.6 L519.8,182.2 L518.7,181.2 L518.0,181.4 L517.4,181.7 L516.5,181.8 L515.2,181.3 L514.2,181.7 L513.4,181.9 L512.9,181.4 L511.8,181.7 L510.4,181.1 L508.8,180.3 L509.0,181.2 L508.1,180.9 L507.0,180.4 L505.4,179.7 L504.0,179.5 L503.1,179.0 L502.5,178.8 L501.6,178.8 L500.3,178.0 L499.4,177.2 L498.5,176.6 L497.1,176.8 L495.9,176.5 L495.3,175.4 L494.4,175.5 L493.6,175.1 L492.2,175.2 L491.5,174.6 L490.9,174.3 L490.5,174.8 L488.9,174.6 L487.5,174.9 L486.3,175.2 L486.6,175.0 L485.7,175.3 L484.5,175.5 L483.1,175.8 L482.1,176.1 L481.3,176.6 L481.0,177.3 L479.9,177.5 L479.0,176.9 L477.5,176.9 L477.2,178.4 L477.1,179.6 L476.5,180.2 L475.8,181.0 L475.7,182.2 L475.8,183.7 L475.6,184.6 L475.7,185.6 L476.8,187.2 L475.5,186.8 L475.2,187.6 L475.4,188.7 L475.5,190.1 L475.1,192.0 L474.6,192.8 L474.4,193.7 L473.6,195.4 L472.7,195.9 L472.5,196.5 L472.4,197.1 L471.7,198.2 L471.2,198.9 L471.4,199.6 L470.9,200.8Z" fill="#4391c6"/><path d="M471.3,211.9 L471.1,212.6 L470.1,214.3 L469.0,214.6 L468.4,215.5 L468.7,216.7 L468.3,217.5 L467.8,218.4 L467.2,219.5 L466.9,220.6 L467.0,221.8 L467.2,222.9 L468.2,223.7 L469.2,224.8 L470.1,225.3 L470.9,225.4 L471.4,226.2 L472.7,225.9 L473.5,226.9 L474.0,227.6 L473.9,228.5 L474.9,229.3 L475.0,230.2 L475.0,231.2 L476.1,231.6 L476.6,232.3 L476.9,233.2 L477.8,234.1 L479.3,235.2 L479.1,236.2 L479.9,236.2 L479.9,237.2 L481.1,238.5 L482.6,239.3 L482.7,240.2 L482.2,240.6 L484.0,241.9 L484.6,243.0 L484.6,243.3 L485.0,244.3 L485.6,244.7 L487.1,244.9 L488.7,245.7 L489.2,245.7 L489.8,245.4 L491.5,244.5 L492.8,244.7 L494.0,244.8 L495.1,244.9 L495.6,244.8 L496.3,244.4 L497.2,244.2 L498.3,244.7 L499.2,244.2 L500.2,244.0 L501.2,244.0 L502.3,243.6 L503.1,243.4 L504.0,241.9 L504.5,241.6 L505.0,241.5 L506.0,240.7 L507.0,240.3 L508.1,240.2 L509.0,240.0 L509.9,240.2 L511.3,240.2 L513.2,239.6 L513.3,238.2 L513.5,237.2 L514.0,236.1 L514.5,236.3 L515.0,235.1 L515.4,233.6 L515.6,232.5 L515.7,231.7 L515.8,230.8 L516.0,229.2 L515.7,228.7 L515.8,228.0 L516.3,226.9 L515.2,225.5 L514.4,224.6 L514.3,223.6 L514.5,222.6 L514.4,221.7 L513.7,222.1 L512.7,220.7 L512.5,219.3 L512.5,218.0 L512.0,217.5 L511.6,216.5 L510.8,216.4 L510.0,215.1 L509.3,215.3 L508.4,215.6 L506.8,215.1 L505.7,214.9 L505.1,214.1 L503.9,213.6 L502.9,213.4 L502.8,212.8 L502.0,212.2 L501.7,212.0 L500.0,211.6 L499.4,211.1 L498.2,209.8 L497.5,209.2 L497.4,209.0 L496.7,208.3 L495.2,208.5 L495.1,208.8 L493.9,208.4 L492.6,207.9 L492.0,208.0 L490.7,208.9 L489.6,209.3 L489.2,209.1 L488.5,210.0 L488.1,211.3 L487.6,212.0 L486.8,212.5 L485.9,213.1 L485.2,213.8 L484.5,214.4 L483.5,215.8 L482.2,215.5 L481.2,215.3 L479.9,215.0 L479.2,214.7 L477.7,213.9 L476.6,213.3 L476.1,213.5 L475.1,212.8 L474.1,212.4 L473.6,212.4 L472.8,212.2 L471.8,212.1Z" fill="#9cc8e2"/><path d="M456.3,238.1 L457.2,239.8 L457.9,240.6 L458.5,241.5 L458.0,241.3 L458.6,242.1 L458.8,243.1 L458.6,244.4 L458.2,245.7 L457.6,246.1 L457.0,247.1 L456.4,248.3 L455.7,248.6 L455.3,249.9 L454.8,250.5 L454.0,251.4 L453.5,251.8 L453.0,252.4 L453.1,253.5 L452.7,254.3 L452.0,255.4 L451.1,256.2 L450.4,257.2 L450.5,258.2 L450.6,258.0 L451.5,259.2 L452.4,261.0 L451.8,261.2 L451.8,261.9 L452.6,262.5 L454.2,263.0 L456.0,263.6 L456.6,262.9 L457.7,264.4 L458.4,264.7 L458.7,264.5 L460.6,265.4 L461.5,265.5 L462.7,265.6 L463.3,266.0 L464.5,266.3 L465.7,266.5 L466.7,265.9 L467.8,266.0 L468.3,265.6 L469.5,264.3 L470.0,263.8 L470.6,263.7 L471.2,263.7 L472.4,264.6 L473.5,265.0 L474.2,265.0 L475.5,265.5 L476.6,266.2 L476.5,266.8 L477.7,266.6 L479.2,266.7 L480.9,267.3 L481.9,267.3 L483.0,268.0 L484.0,268.1 L484.9,267.9 L485.1,266.8 L487.1,266.7 L487.8,267.2 L488.3,268.1 L488.5,269.1 L488.9,269.8 L489.1,271.0 L489.9,272.0 L490.4,272.6 L490.3,273.1 L491.0,271.7 L491.3,270.5 L491.7,269.5 L492.7,268.5 L493.0,267.8 L493.1,267.9 L493.6,267.0 L494.0,265.7 L493.3,264.1 L494.0,263.9 L494.2,263.0 L494.5,261.9 L495.0,260.5 L494.7,259.5 L494.9,258.4 L495.5,256.9 L496.8,256.1 L497.0,255.6 L497.3,254.6 L497.1,253.8 L497.4,252.2 L498.0,251.1 L498.7,251.0 L499.1,250.4 L498.7,249.2 L498.1,247.6 L497.1,247.0 L497.3,245.6 L497.4,244.2 L496.3,244.2 L495.7,244.8 L495.2,244.8 L494.1,244.8 L492.9,244.7 L491.5,244.5 L489.8,245.4 L489.2,245.7 L488.7,245.7 L487.1,244.9 L485.6,244.7 L485.0,244.3 L484.6,243.3 L484.6,243.0 L484.0,241.9 L482.2,240.6 L482.7,240.2 L482.6,239.3 L481.1,238.5 L479.9,237.2 L479.9,236.2 L479.1,236.2 L479.3,235.2 L477.8,234.1 L476.9,233.2 L476.6,232.3 L476.1,231.6 L475.0,231.2 L475.0,230.2 L474.9,229.3 L473.9,228.5 L474.0,227.6 L473.5,226.9 L472.7,225.9 L471.4,226.2 L470.9,225.4 L470.1,225.3 L469.2,224.8 L468.2,223.7 L467.1,223.8 L466.0,224.1 L464.9,224.6 L464.1,224.5 L463.1,224.8 L461.9,224.5 L460.7,224.6 L459.7,224.7 L458.5,225.1 L456.9,225.9 L456.4,225.6 L456.6,226.0 L455.7,227.6 L454.8,228.5 L455.1,229.0 L454.5,229.8 L453.9,230.9 L454.3,232.4 L454.8,233.1 L455.4,233.7 L455.7,235.3 L454.2,233.8 L455.4,235.6 L455.8,236.0 L455.9,236.0 L455.9,237.0Z" fill="#1966ac"/><path d="M420.8,235.3 L420.2,235.9 L418.5,235.6 L417.9,236.4 L417.6,237.3 L416.4,237.5 L415.5,238.4 L415.1,238.3 L414.3,238.3 L413.7,239.1 L412.7,239.4 L411.5,239.8 L410.7,240.0 L409.1,241.1 L408.7,241.6 L407.5,241.9 L406.8,242.9 L407.0,242.7 L407.2,243.9 L407.5,245.5 L408.7,246.9 L409.2,247.1 L409.2,247.2 L409.4,249.0 L410.2,250.1 L411.4,251.1 L411.7,252.0 L412.0,252.6 L412.7,253.2 L412.4,254.1 L412.7,254.8 L414.5,256.2 L415.7,256.5 L415.7,257.3 L416.6,257.5 L417.8,258.0 L418.7,258.2 L419.5,258.3 L419.9,258.1 L420.9,258.2 L422.1,258.3 L422.5,257.6 L423.2,257.8 L423.8,258.3 L424.9,258.8 L426.2,259.4 L426.7,259.8 L427.4,260.4 L427.9,260.7 L429.3,261.4 L430.4,261.6 L431.4,261.0 L431.8,261.1 L432.9,261.2 L434.3,261.2 L436.1,261.2 L436.6,260.8 L437.3,260.8 L437.9,261.0 L438.6,261.2 L439.2,261.4 L440.1,262.3 L441.5,262.2 L442.7,262.1 L444.1,263.0 L445.0,263.8 L445.8,264.4 L446.2,265.2 L447.1,265.6 L448.4,265.6 L448.6,265.0 L448.7,265.2 L450.1,264.5 L451.0,264.1 L451.6,263.1 L451.8,261.9 L451.8,261.2 L452.4,261.0 L451.5,259.2 L450.6,258.0 L450.5,258.2 L450.4,257.2 L451.1,256.2 L452.0,255.4 L452.7,254.3 L453.1,253.5 L453.0,252.4 L453.5,251.8 L454.0,251.4 L454.8,250.5 L455.3,249.9 L455.7,248.6 L456.4,248.3 L457.0,247.1 L457.6,246.1 L458.2,245.7 L458.6,244.4 L458.8,243.1 L458.6,242.1 L458.0,241.3 L458.5,241.5 L457.9,240.6 L457.2,239.8 L456.3,238.1 L455.9,237.0 L455.9,236.0 L455.8,236.0 L455.4,235.6 L454.2,233.8 L453.1,233.5 L452.7,233.9 L451.9,233.6 L450.9,233.2 L449.0,232.7 L448.5,233.8 L447.6,233.9 L447.3,235.2 L446.6,235.5 L446.0,235.7 L445.5,236.0 L444.0,235.3 L443.4,235.4 L442.1,235.3 L440.6,235.1 L440.2,234.6 L440.3,233.5 L439.6,232.9 L438.5,233.0 L437.8,232.4 L437.7,230.8 L437.6,230.5 L436.7,229.4 L435.8,228.0 L435.7,226.9 L434.7,226.7 L433.7,227.0 L432.9,226.5 L432.0,226.6 L430.8,227.0 L429.6,226.4 L428.5,226.7 L427.6,227.2 L427.1,227.5 L426.7,228.0 L426.0,228.4 L424.9,228.3 L423.7,228.1 L422.5,227.5 L422.1,227.8 L421.9,228.1 L420.6,229.2 L420.8,230.9 L420.6,231.7 L420.3,232.1 L420.2,233.7Z" fill="#4391c6"/><path d="M386.3,213.8 L387.2,215.8 L387.1,216.7 L387.1,217.3 L387.9,217.8 L388.4,218.7 L388.5,219.8 L388.3,220.8 L387.8,221.7 L387.3,222.6 L386.7,223.1 L386.2,223.5 L385.2,224.2 L384.2,225.2 L383.4,226.2 L382.6,225.9 L382.0,226.3 L381.9,227.6 L381.9,228.8 L381.3,228.9 L381.0,230.1 L380.6,231.5 L381.4,232.2 L381.5,233.4 L381.8,233.1 L382.2,234.2 L382.6,235.8 L383.6,237.1 L384.7,237.6 L385.9,238.2 L386.7,237.4 L387.6,238.0 L388.7,239.2 L389.5,238.9 L390.3,239.7 L391.3,240.7 L391.0,241.5 L392.5,241.4 L393.3,241.6 L394.6,241.5 L395.5,242.9 L396.4,243.6 L397.8,243.7 L398.5,243.9 L399.2,243.6 L399.8,242.3 L400.7,241.9 L402.2,241.8 L402.9,241.5 L403.6,241.8 L404.4,242.3 L405.8,243.0 L406.8,242.9 L407.5,241.9 L408.7,241.6 L409.1,241.1 L410.7,240.0 L411.5,239.8 L412.7,239.4 L413.7,239.1 L414.3,238.3 L415.1,238.3 L415.5,238.4 L416.4,237.5 L417.6,237.3 L417.9,236.4 L418.5,235.6 L420.2,235.9 L420.8,235.3 L420.2,233.7 L420.3,232.1 L420.6,231.7 L420.8,230.9 L420.6,229.2 L421.9,228.1 L421.3,227.6 L420.3,227.3 L421.3,226.5 L421.4,225.4 L421.1,223.8 L420.5,223.0 L420.4,222.2 L419.8,221.4 L419.2,220.1 L418.7,219.6 L417.9,219.4 L416.6,219.0 L416.5,217.8 L415.6,216.6 L415.7,215.5 L415.6,214.9 L415.0,214.6 L414.0,213.6 L412.8,212.5 L412.4,211.4 L411.5,210.7 L411.2,210.3 L411.4,208.1 L411.0,207.7 L410.0,207.2 L409.6,206.5 L409.2,204.9 L408.8,204.4 L408.7,202.2 L407.8,202.0 L407.7,201.2 L407.7,200.1 L407.4,199.3 L406.7,198.1 L406.3,197.4 L406.7,196.4 L406.0,197.8 L405.5,198.3 L405.4,198.9 L405.2,200.1 L405.2,200.9 L404.9,201.0 L403.2,202.6 L402.2,203.0 L401.7,203.5 L400.7,203.7 L399.7,203.6 L398.3,203.5 L397.8,203.7 L397.4,204.3 L396.6,205.0 L395.5,205.6 L393.5,206.4 L392.7,206.4 L392.5,206.3 L390.6,206.7 L390.1,206.8 L389.3,206.9 L387.6,207.6 L386.4,208.1 L385.8,208.3 L384.8,208.3 L383.3,207.7 L383.2,207.6 L382.9,208.3 L382.9,209.1 L384.1,210.4 L384.9,211.4 L385.9,212.1 L386.0,213.3Z" fill="#1966ac"/><path d="M322.6,218.6 L322.0,218.8 L322.2,220.4 L322.6,222.0 L323.1,222.1 L322.8,223.7 L322.8,224.7 L323.1,224.6 L323.1,226.2 L322.9,227.4 L322.5,228.3 L322.7,229.6 L323.0,230.7 L323.0,231.7 L321.8,231.8 L322.6,233.6 L322.8,234.6 L322.4,234.9 L322.2,236.6 L321.5,237.7 L320.8,238.8 L320.1,239.2 L320.3,239.8 L320.1,241.4 L319.8,242.4 L318.9,244.2 L318.8,244.7 L318.8,245.3 L318.7,246.8 L317.5,247.7 L316.6,248.6 L316.5,248.6 L316.3,249.7 L316.9,249.8 L317.8,249.9 L319.2,250.5 L320.2,249.8 L321.5,249.8 L322.9,250.0 L323.6,251.0 L324.9,251.1 L325.7,251.3 L325.9,252.0 L327.1,252.1 L328.0,252.0 L329.0,251.8 L329.6,251.5 L331.3,251.8 L332.4,252.3 L333.2,252.7 L334.2,252.2 L335.9,252.3 L337.0,252.1 L337.5,251.8 L338.1,252.3 L338.8,252.2 L339.9,251.7 L341.5,251.4 L342.6,251.1 L343.1,249.9 L343.3,249.1 L343.6,248.7 L343.2,248.2 L342.7,247.0 L342.1,245.6 L342.4,244.9 L343.0,244.2 L343.7,244.3 L343.8,243.5 L344.4,243.0 L344.9,241.7 L345.7,240.4 L345.9,239.7 L345.9,239.2 L346.3,238.8 L347.0,238.0 L348.2,237.4 L347.9,235.9 L348.1,234.7 L348.6,233.4 L349.4,231.8 L349.5,231.5 L349.6,230.7 L349.5,229.3 L350.4,228.9 L351.3,227.6 L351.5,226.4 L352.5,226.0 L353.1,225.0 L353.1,223.6 L353.4,223.4 L353.3,222.3 L352.9,220.7 L354.7,219.3 L354.4,218.8 L353.7,219.1 L353.0,218.5 L352.5,217.4 L351.7,216.1 L350.9,214.9 L350.3,215.5 L349.7,216.0 L349.0,216.5 L347.9,216.5 L347.0,216.5 L346.4,216.4 L344.4,216.4 L343.2,216.6 L342.4,216.7 L341.0,217.0 L340.1,217.1 L339.3,217.6 L338.6,217.9 L337.6,217.9 L336.4,218.1 L335.4,218.6 L334.3,219.5 L333.6,219.4 L333.4,219.3 L332.4,218.3 L331.9,217.7 L331.6,217.3 L330.8,216.5 L328.9,216.9 L327.9,216.7 L327.1,216.4 L326.4,216.6 L325.7,216.8 L324.7,216.5 L323.4,215.7 L321.8,216.5 L321.7,217.4 L322.2,218.0Z" fill="#1966ac"/><path d="M354.7,219.3 L352.9,220.7 L353.3,222.3 L353.4,223.4 L353.1,223.6 L353.1,225.0 L352.5,226.0 L351.5,226.4 L351.3,227.6 L350.4,228.9 L349.5,229.3 L349.6,230.7 L349.5,231.5 L349.4,231.8 L348.6,233.4 L348.1,234.7 L347.9,235.9 L348.2,237.4 L347.0,238.0 L346.3,238.8 L345.9,239.2 L345.9,239.7 L345.7,240.4 L344.9,241.7 L344.4,243.0 L343.8,243.5 L343.7,244.3 L343.0,244.2 L342.4,244.9 L342.1,245.6 L342.7,247.0 L343.2,248.2 L343.6,248.7 L343.3,249.1 L343.1,249.9 L342.6,251.1 L342.8,251.5 L344.8,252.8 L345.7,252.9 L346.7,253.0 L347.4,252.7 L347.7,253.3 L348.3,253.8 L349.2,254.6 L350.6,255.4 L351.2,255.8 L351.7,256.5 L353.0,257.7 L353.6,258.1 L354.1,258.3 L355.9,258.4 L356.4,258.5 L357.0,259.0 L357.8,259.9 L358.8,260.2 L360.2,260.7 L361.7,260.9 L363.4,260.5 L363.7,260.7 L364.6,261.0 L365.6,260.8 L365.9,260.9 L366.9,260.2 L368.2,259.8 L369.2,259.4 L369.9,258.8 L370.9,258.7 L371.9,258.2 L372.6,257.5 L373.5,258.1 L374.7,256.7 L375.3,255.6 L375.9,254.7 L376.3,253.9 L375.7,253.8 L376.4,252.7 L377.0,251.3 L377.9,250.1 L378.0,250.0 L377.9,249.0 L378.4,248.1 L379.8,247.1 L379.9,245.8 L379.9,245.0 L380.1,244.0 L381.3,243.1 L381.3,241.8 L381.5,240.6 L381.6,240.1 L381.9,238.9 L382.7,237.9 L383.6,237.1 L382.5,235.7 L382.2,234.2 L381.8,233.1 L381.5,233.4 L381.4,232.0 L380.3,231.3 L379.7,230.7 L379.6,230.7 L378.9,229.8 L378.1,229.3 L376.4,228.4 L376.4,227.2 L376.2,227.1 L375.1,226.6 L374.5,225.2 L373.6,224.8 L372.7,223.9 L372.1,223.4 L371.2,222.4 L370.4,221.7 L369.9,220.8 L369.0,220.7 L368.1,220.6 L367.3,219.4 L366.7,219.0 L365.8,219.5 L364.5,219.9 L362.9,219.8 L361.6,220.2 L360.4,220.8 L360.4,221.8 L359.4,221.9 L358.6,222.2 L357.4,222.3 L356.5,222.8 L356.4,222.5 L354.8,221.6 L354.2,220.5Z" fill="#5ea5d0"/><path d="M375.7,253.8 L376.3,253.9 L375.9,254.7 L375.3,255.6 L376.4,255.9 L377.7,256.7 L379.2,257.0 L380.1,257.4 L380.0,258.5 L381.2,258.6 L382.2,258.5 L382.7,259.0 L383.6,259.2 L384.5,259.0 L385.6,259.2 L386.8,259.5 L388.1,260.5 L388.6,260.7 L389.6,261.7 L390.3,262.1 L390.4,262.5 L391.2,263.2 L391.6,264.9 L391.6,265.7 L391.4,266.4 L391.6,267.9 L392.1,268.6 L392.1,269.6 L392.1,270.9 L392.6,271.0 L392.7,271.5 L392.9,272.5 L393.4,274.1 L395.2,274.9 L395.4,275.1 L395.9,275.0 L396.8,276.1 L397.6,277.0 L398.3,277.9 L399.4,278.5 L400.0,278.9 L399.9,279.9 L400.0,280.9 L400.7,281.6 L402.2,280.8 L402.6,280.5 L402.7,280.1 L404.1,280.3 L405.5,280.7 L405.3,279.8 L406.4,279.8 L407.9,279.9 L409.0,279.7 L409.7,279.2 L410.7,279.6 L411.9,280.3 L411.9,280.6 L413.0,280.7 L414.3,281.2 L414.6,282.2 L415.1,283.1 L416.3,282.8 L417.2,281.6 L418.0,281.0 L419.1,280.6 L420.3,280.7 L421.4,280.8 L422.5,280.3 L423.4,279.7 L424.3,278.5 L425.1,277.9 L425.5,278.2 L425.6,277.0 L425.9,275.9 L426.1,274.9 L426.3,274.9 L426.5,274.3 L426.6,273.2 L427.2,272.5 L427.6,271.0 L427.8,269.3 L427.7,268.2 L428.0,268.1 L428.4,267.2 L429.6,265.8 L430.2,264.9 L430.5,264.3 L430.9,263.7 L430.1,262.9 L429.2,262.0 L428.5,261.0 L427.8,260.6 L427.4,260.4 L426.7,259.8 L426.2,259.4 L424.9,258.8 L423.8,258.3 L423.1,257.7 L422.5,257.6 L422.0,258.3 L420.8,258.1 L419.9,258.0 L419.5,258.2 L418.6,258.2 L417.8,258.0 L416.6,257.5 L415.7,257.3 L415.7,256.5 L414.5,256.2 L412.7,254.8 L412.4,254.1 L412.7,253.2 L412.0,252.6 L411.7,251.9 L411.4,251.1 L410.3,250.1 L409.4,249.0 L409.2,247.2 L409.2,247.1 L408.7,246.9 L407.5,245.5 L407.2,243.9 L407.0,242.7 L406.8,242.9 L405.8,243.0 L404.4,242.3 L403.6,241.8 L402.9,241.5 L402.2,241.8 L400.7,241.9 L399.8,242.3 L399.2,243.6 L398.5,243.9 L397.8,243.7 L396.4,243.6 L395.5,242.9 L394.6,241.5 L393.3,241.6 L392.5,241.4 L391.0,241.5 L391.3,240.7 L390.3,239.7 L389.5,238.9 L388.7,239.2 L387.6,238.0 L386.7,237.4 L385.9,238.2 L384.7,237.6 L383.6,237.1 L382.7,237.9 L381.9,238.9 L381.6,240.1 L381.5,240.6 L381.3,241.8 L381.3,243.1 L380.1,244.0 L379.9,245.0 L379.9,245.8 L379.8,247.1 L378.4,248.1 L377.9,249.0 L378.0,250.0 L377.9,250.1 L377.0,251.3 L376.4,252.7Z" fill="#b8d5ea"/><path d="M364.6,261.0 L364.5,262.0 L363.9,262.4 L363.2,263.2 L362.7,264.3 L362.4,265.3 L363.1,266.3 L362.7,266.7 L362.4,267.1 L361.6,267.9 L361.5,269.1 L361.2,270.7 L360.0,271.6 L359.4,272.3 L359.5,273.2 L359.0,273.8 L358.4,274.3 L357.8,275.9 L357.7,277.3 L357.5,278.1 L357.7,277.9 L357.9,279.3 L357.2,280.9 L356.5,282.3 L357.7,282.0 L358.4,283.4 L358.7,284.6 L359.6,285.4 L360.2,286.1 L361.6,286.8 L362.0,287.6 L362.6,287.8 L363.7,289.1 L364.8,288.9 L364.4,289.8 L365.1,290.7 L365.9,291.5 L366.0,293.0 L366.6,293.9 L367.4,293.5 L368.6,292.6 L368.8,292.9 L369.4,292.9 L370.5,292.6 L371.4,292.0 L372.0,291.7 L372.8,291.6 L374.3,291.0 L375.8,290.2 L376.3,290.8 L377.0,291.7 L378.2,291.7 L379.3,292.9 L379.8,293.6 L379.8,294.8 L380.3,295.9 L381.5,296.3 L381.4,297.4 L382.5,298.0 L383.0,298.2 L384.4,299.7 L385.0,300.2 L385.6,300.5 L385.5,301.5 L385.4,302.1 L386.5,302.9 L387.7,301.9 L387.9,300.5 L388.7,300.0 L389.2,299.7 L390.0,298.6 L390.4,297.4 L390.7,296.5 L391.6,295.7 L392.6,294.7 L392.2,294.4 L393.1,293.7 L394.9,293.2 L395.6,292.1 L396.4,290.8 L396.9,290.5 L396.7,290.5 L397.5,289.4 L398.1,288.0 L399.1,286.8 L398.9,286.3 L399.2,285.7 L399.9,284.6 L400.4,283.3 L401.1,282.1 L400.7,281.6 L400.0,280.9 L399.9,279.9 L400.0,278.9 L399.4,278.5 L398.3,277.9 L397.6,277.0 L396.8,276.1 L395.9,275.0 L395.4,275.1 L395.2,274.9 L393.4,274.1 L392.9,272.5 L392.7,271.5 L392.6,271.0 L392.1,270.9 L392.1,269.6 L392.1,268.6 L391.6,267.9 L391.4,266.4 L391.6,265.7 L391.6,264.9 L391.2,263.2 L390.4,262.5 L390.3,262.1 L389.6,261.7 L388.6,260.7 L388.1,260.5 L386.8,259.5 L385.6,259.2 L384.5,259.0 L383.6,259.2 L382.7,259.0 L382.2,258.5 L381.2,258.6 L380.0,258.5 L380.1,257.4 L379.2,257.0 L377.7,256.7 L376.4,255.9 L375.3,255.6 L374.7,256.7 L373.5,258.1 L372.6,257.5 L371.9,258.2 L370.9,258.7 L369.9,258.8 L369.2,259.4 L368.2,259.8 L366.9,260.2 L365.9,260.9 L365.6,260.8Z" fill="#cde0f1"/><path d="M322.8,261.8 L322.3,262.4 L321.1,262.1 L320.0,262.0 L320.0,262.5 L318.9,262.9 L320.1,263.5 L319.8,264.6 L321.0,264.9 L322.7,265.0 L323.4,266.0 L324.0,266.7 L324.2,268.0 L322.8,268.2 L322.3,269.2 L321.8,270.5 L321.6,271.4 L320.7,271.4 L318.9,271.7 L318.4,272.0 L317.2,272.3 L316.0,272.5 L315.3,273.2 L315.1,273.8 L314.2,274.1 L313.6,274.9 L313.2,275.9 L312.6,277.2 L313.8,277.6 L314.0,278.5 L313.8,279.6 L314.3,281.0 L314.4,282.2 L315.0,282.5 L315.1,283.7 L315.4,284.6 L316.9,285.0 L317.1,286.2 L317.6,286.6 L319.1,286.5 L319.8,286.8 L320.5,286.9 L321.3,287.6 L321.4,288.4 L322.8,288.1 L323.9,288.5 L325.1,289.2 L326.0,289.2 L326.9,289.5 L327.5,289.7 L327.4,289.8 L328.5,289.3 L329.0,288.3 L329.9,287.7 L331.1,288.1 L332.7,287.6 L333.5,287.0 L333.7,287.6 L335.8,286.9 L336.4,286.5 L337.5,286.4 L339.1,285.4 L339.9,285.0 L340.7,284.8 L341.4,285.0 L342.6,285.3 L343.9,284.8 L345.1,284.5 L345.8,284.8 L346.6,284.9 L347.4,284.8 L348.2,285.2 L349.4,285.2 L350.4,285.5 L351.6,285.7 L352.4,285.3 L353.3,284.7 L354.4,284.1 L354.3,283.6 L354.6,283.2 L355.8,282.3 L356.5,282.3 L357.2,280.9 L357.9,279.3 L357.7,277.9 L357.5,278.1 L357.7,277.3 L357.8,275.9 L358.4,274.3 L359.0,273.8 L359.5,273.2 L359.4,272.3 L360.0,271.6 L361.2,270.7 L361.5,269.1 L361.6,267.9 L362.4,267.1 L362.7,266.7 L363.1,266.3 L362.4,265.3 L362.7,264.3 L363.2,263.2 L363.9,262.4 L364.5,262.0 L364.6,261.0 L363.7,260.7 L363.4,260.5 L361.7,260.9 L360.2,260.7 L358.8,260.2 L357.8,259.9 L357.0,259.0 L356.4,258.5 L355.9,258.4 L354.1,258.3 L353.6,258.1 L353.0,257.7 L351.7,256.5 L351.2,255.8 L350.6,255.4 L349.2,254.6 L348.3,253.8 L347.7,253.3 L347.4,252.7 L346.7,253.0 L345.7,252.9 L344.8,252.8 L342.8,251.5 L342.6,251.1 L341.5,251.4 L339.9,251.7 L338.8,252.2 L338.1,252.3 L337.5,251.8 L337.0,252.1 L335.9,252.3 L334.2,252.2 L333.2,252.7 L332.4,252.3 L331.3,251.8 L329.6,251.5 L329.0,251.8 L328.0,252.0 L327.1,252.1 L325.9,252.0 L325.7,251.3 L324.9,251.1 L323.6,251.0 L322.9,250.0 L321.5,249.8 L320.2,249.8 L319.2,250.5 L317.8,249.9 L316.9,249.8 L316.3,249.7 L316.7,251.2 L317.0,252.6 L316.1,253.7 L316.3,254.6 L316.6,255.5 L317.0,255.4 L317.6,255.9 L318.1,256.9 L318.5,257.8 L319.8,259.3 L319.6,259.1 L320.2,259.3 L321.1,260.5 L322.2,261.2Z" fill="#7cb7d9"/><path d="M315.4,273.3 L316.0,272.5 L317.3,272.3 L318.4,272.0 L318.9,271.8 L320.7,271.4 L321.7,271.4 L321.8,270.5 L322.3,269.2 L322.8,268.2 L324.2,268.0 L324.0,266.7 L323.4,266.0 L322.7,265.0 L321.1,264.9 L319.8,264.7 L320.2,263.5 L319.0,262.9 L320.1,262.5 L320.1,262.0 L321.2,262.2 L322.4,262.4 L322.8,261.8 L322.3,261.2 L321.2,260.5 L320.2,259.4 L319.6,259.1 L319.8,259.3 L318.5,257.8 L318.1,256.9 L317.6,255.9 L317.0,255.4 L316.6,255.5 L316.3,254.6 L316.1,253.8 L317.0,252.7 L316.7,251.3 L316.4,249.8 L315.5,249.1 L314.4,249.4 L313.2,249.5 L311.9,248.0 L311.3,248.5 L310.2,248.8 L309.1,248.8 L307.7,248.3 L307.3,248.6 L306.0,249.1 L304.6,248.8 L304.6,249.9 L303.8,250.0 L303.1,249.9 L301.6,250.9 L300.2,251.5 L300.2,251.8 L298.8,252.0 L297.2,252.1 L296.3,251.5 L295.8,252.0 L295.1,252.3 L294.1,252.6 L292.2,253.3 L291.7,253.0 L291.0,252.8 L290.2,252.5 L288.3,252.7 L287.5,252.3 L286.6,251.8 L286.0,253.1 L286.0,253.7 L285.7,255.0 L285.4,255.9 L284.8,257.1 L283.9,258.2 L283.1,259.4 L282.3,259.8 L281.4,260.2 L280.6,261.1 L280.6,261.9 L279.6,262.4 L278.2,262.5 L277.1,262.9 L276.5,263.4 L276.5,263.3 L276.2,263.1 L276.5,263.7 L276.2,264.3 L275.2,264.7 L275.0,265.5 L273.8,266.1 L273.3,266.1 L273.6,267.1 L272.1,269.0 L272.6,270.0 L273.2,271.0 L274.2,271.2 L275.2,270.9 L275.9,270.8 L276.9,271.5 L278.2,272.6 L277.8,272.6 L278.5,272.8 L279.7,273.4 L281.4,274.2 L281.9,275.1 L281.6,275.1 L282.1,276.7 L282.9,277.9 L282.8,278.1 L282.5,279.3 L282.3,280.4 L281.9,280.6 L281.2,281.6 L280.5,283.1 L280.5,283.1 L279.9,283.8 L279.0,285.0 L279.3,286.5 L280.8,287.5 L280.8,287.6 L281.2,287.6 L282.4,288.8 L283.5,289.5 L284.3,290.3 L285.2,290.1 L285.8,289.4 L286.1,288.8 L286.5,288.5 L287.8,288.2 L288.5,287.8 L289.0,287.9 L291.0,288.8 L292.1,290.1 L291.9,290.7 L293.1,290.9 L294.6,291.2 L294.6,291.1 L295.7,291.8 L296.3,291.9 L297.2,292.5 L298.4,293.2 L299.9,293.1 L301.2,294.4 L301.8,294.9 L301.6,293.8 L303.2,293.7 L304.4,293.1 L305.0,292.3 L305.6,291.7 L306.1,290.4 L306.7,289.2 L307.3,289.0 L307.2,287.6 L308.3,287.4 L309.3,287.3 L310.3,286.6 L311.6,286.1 L312.6,284.9 L313.0,285.9 L313.9,286.0 L315.2,285.0 L316.6,285.5 L317.1,286.1 L316.8,285.0 L315.4,284.5 L315.1,283.6 L315.0,282.5 L314.4,282.2 L314.3,281.0 L313.8,279.6 L314.0,278.5 L313.8,277.6 L312.6,277.2 L313.2,275.9 L313.6,274.9 L314.3,274.1 L315.1,273.8Z" fill="#eff6fc"/><path d="M286.5,294.9 L287.3,295.7 L286.9,296.3 L287.9,297.3 L288.6,298.5 L289.3,299.1 L290.0,299.9 L289.9,301.1 L290.1,301.9 L290.6,302.8 L291.9,304.2 L292.2,304.6 L292.2,304.6 L293.2,306.3 L293.9,307.1 L294.6,308.3 L295.0,309.6 L294.9,310.8 L295.3,311.5 L296.6,311.5 L297.8,312.2 L298.1,312.8 L298.5,314.0 L299.1,314.2 L300.2,315.2 L300.2,316.3 L300.8,316.9 L302.4,317.7 L302.9,318.8 L303.3,319.5 L304.4,319.6 L304.6,320.1 L305.7,320.2 L307.5,320.4 L307.7,320.9 L308.2,320.8 L308.6,321.0 L309.8,322.4 L311.0,322.9 L312.5,323.0 L313.3,322.8 L314.4,323.4 L314.7,323.9 L314.8,324.5 L315.5,324.0 L316.1,323.3 L316.9,323.0 L317.9,322.1 L319.2,322.5 L320.0,321.5 L320.8,321.2 L322.0,322.2 L322.5,322.1 L322.7,321.6 L323.8,321.6 L325.0,321.8 L326.7,322.2 L327.0,322.6 L328.0,322.8 L329.1,322.8 L330.6,322.7 L331.6,322.3 L332.3,321.5 L332.8,321.1 L332.8,320.3 L333.1,319.8 L334.2,318.5 L334.3,317.7 L334.8,317.4 L334.8,316.8 L334.7,315.9 L334.3,314.8 L334.2,313.7 L335.2,313.1 L334.6,311.7 L334.3,310.7 L334.1,310.0 L333.6,307.9 L333.5,306.6 L333.5,305.6 L333.4,305.4 L333.0,304.2 L332.5,303.5 L332.5,302.9 L331.1,301.9 L331.5,300.5 L331.4,299.3 L330.5,298.2 L330.7,297.0 L329.7,295.9 L328.9,295.1 L329.2,293.8 L329.3,293.5 L328.7,292.5 L327.3,290.9 L327.4,290.4 L327.5,289.7 L326.9,289.5 L326.0,289.2 L325.1,289.2 L323.9,288.5 L322.8,288.1 L321.4,288.4 L321.3,287.6 L320.6,286.8 L319.9,286.7 L319.2,286.5 L317.7,286.6 L317.1,286.2 L316.7,285.5 L315.2,285.0 L313.9,285.9 L313.0,285.9 L312.6,284.9 L311.6,286.1 L310.3,286.6 L309.3,287.3 L308.3,287.4 L307.2,287.6 L307.3,289.0 L306.7,289.2 L306.1,290.4 L305.6,291.7 L305.0,292.3 L304.4,293.1 L303.2,293.7 L301.6,293.8 L301.8,294.9 L301.2,294.4 L299.9,293.1 L298.4,293.2 L297.2,292.5 L296.3,291.9 L295.7,291.8 L294.6,291.1 L294.6,291.2 L293.1,290.9 L291.9,290.7 L292.1,290.1 L291.0,288.8 L289.0,287.9 L288.5,287.8 L287.8,288.2 L286.5,288.5 L286.1,288.8 L285.8,289.4 L285.2,290.1 L284.3,290.3 L284.8,290.4 L285.0,291.0 L285.1,291.7 L285.8,293.0 L286.4,294.2Z" fill="#cde0f1"/><path d="M331.7,326.4 L332.7,326.5 L334.0,326.8 L333.7,328.4 L335.4,328.5 L336.3,328.5 L337.4,328.9 L338.4,329.4 L339.4,330.3 L340.6,330.0 L340.6,331.2 L341.6,331.9 L342.9,332.5 L343.6,332.4 L344.6,332.9 L345.1,334.1 L345.6,334.7 L346.9,336.1 L348.5,336.0 L349.6,336.8 L349.9,337.4 L350.7,338.3 L351.0,338.5 L352.1,338.1 L352.3,336.9 L353.5,336.9 L354.6,336.0 L355.4,336.4 L356.2,335.0 L357.2,334.2 L358.2,333.8 L358.6,334.0 L359.1,333.6 L360.5,333.2 L360.4,332.3 L360.2,331.4 L360.3,330.6 L359.6,328.9 L359.2,328.1 L358.1,328.2 L357.8,327.1 L357.9,326.1 L358.2,325.0 L358.6,323.7 L359.1,322.8 L359.3,321.7 L358.4,321.4 L358.0,320.1 L357.5,319.8 L356.5,319.5 L356.0,318.6 L355.6,317.9 L355.0,317.0 L354.4,315.3 L354.6,314.5 L354.4,314.0 L354.6,312.9 L353.7,311.3 L353.3,310.4 L352.8,309.0 L353.3,308.5 L353.7,307.8 L353.6,307.0 L353.3,305.7 L353.6,303.9 L353.9,302.9 L354.4,302.1 L353.2,301.1 L354.3,299.8 L354.3,298.9 L354.4,298.0 L354.7,296.0 L354.6,295.4 L353.9,294.8 L353.2,294.3 L353.9,292.9 L353.4,291.0 L353.2,290.2 L352.9,289.8 L352.0,288.3 L352.2,287.3 L352.1,286.4 L351.6,285.6 L350.4,285.4 L349.4,285.2 L348.1,285.1 L347.4,284.8 L346.6,284.8 L345.7,284.8 L345.1,284.4 L343.9,284.8 L342.6,285.2 L341.4,285.0 L340.7,284.7 L339.9,284.9 L339.1,285.4 L337.5,286.4 L336.4,286.4 L335.8,286.8 L333.7,287.5 L333.4,287.0 L332.7,287.5 L331.2,288.0 L329.9,287.6 L329.0,288.2 L328.5,289.2 L327.4,289.8 L327.4,290.4 L327.4,291.0 L328.9,292.7 L329.2,293.5 L329.2,293.9 L328.9,295.2 L329.8,296.0 L330.7,297.1 L330.5,298.3 L331.4,299.3 L331.5,300.6 L331.1,301.9 L332.5,303.0 L332.5,303.5 L333.0,304.2 L333.4,305.4 L333.5,305.6 L333.5,306.6 L333.6,307.9 L334.1,310.0 L334.3,310.7 L334.6,311.7 L335.2,313.1 L334.2,313.7 L334.3,314.8 L334.7,315.9 L334.8,316.8 L334.8,317.4 L334.3,317.7 L334.2,318.5 L333.1,319.8 L332.8,320.3 L332.8,321.1 L332.3,321.5 L331.6,322.3 L330.6,322.7 L329.1,322.8 L329.5,323.5 L329.7,324.3 L330.4,325.4Z" fill="#0c5198"/><path d="M354.4,298.0 L354.3,298.9 L354.3,299.8 L353.2,301.1 L354.4,302.1 L353.9,302.9 L353.6,303.9 L353.3,305.7 L353.6,307.0 L353.7,307.8 L353.3,308.5 L352.8,309.0 L353.3,310.4 L353.7,311.3 L354.5,312.9 L354.4,314.1 L354.5,314.5 L354.4,315.3 L355.0,317.0 L355.6,317.9 L356.0,318.6 L356.4,319.5 L357.4,319.8 L358.0,320.0 L358.4,321.4 L359.3,321.7 L359.0,322.8 L358.6,323.7 L358.2,325.2 L357.9,326.2 L357.9,327.3 L358.2,328.3 L359.3,328.1 L359.6,329.1 L360.3,330.8 L360.1,331.5 L360.5,332.5 L360.5,333.3 L361.3,333.5 L362.0,333.4 L363.0,333.8 L363.9,334.0 L365.5,333.9 L366.5,333.6 L366.8,333.2 L367.7,333.0 L368.4,332.8 L369.1,332.7 L370.2,332.4 L371.4,332.4 L372.7,333.0 L373.1,333.1 L374.2,332.6 L375.6,332.3 L377.5,332.3 L377.6,332.4 L378.5,332.9 L379.8,332.9 L381.4,332.1 L382.5,332.1 L382.6,331.6 L382.7,330.8 L382.8,329.8 L382.9,328.7 L383.2,327.3 L383.2,327.1 L383.8,326.5 L384.3,325.8 L385.1,325.3 L385.8,324.8 L387.1,324.2 L388.5,323.8 L389.0,324.1 L389.4,323.9 L390.2,323.7 L390.8,322.8 L391.8,322.3 L393.7,320.3 L394.5,319.8 L394.6,319.7 L394.2,318.9 L394.3,318.1 L394.6,317.1 L394.4,316.0 L392.9,315.5 L392.6,315.1 L391.7,314.2 L391.3,312.8 L390.3,312.7 L389.3,311.4 L388.6,310.7 L387.5,310.6 L386.8,309.3 L386.6,308.5 L386.7,307.8 L386.8,307.1 L386.1,305.9 L386.4,304.8 L386.8,303.7 L386.6,302.6 L386.4,302.8 L385.4,302.0 L385.5,301.4 L385.6,300.5 L385.0,300.2 L384.4,299.7 L383.0,298.2 L382.5,298.0 L381.4,297.4 L381.5,296.3 L380.3,295.9 L379.8,294.8 L379.8,293.6 L379.3,292.9 L378.2,291.7 L377.0,291.7 L376.3,290.8 L375.8,290.2 L374.3,291.0 L372.8,291.6 L372.0,291.7 L371.4,292.0 L370.5,292.6 L369.4,292.9 L368.8,292.9 L368.6,292.6 L367.4,293.5 L366.6,293.9 L366.0,293.0 L365.9,291.5 L365.1,290.7 L364.4,289.8 L364.8,288.9 L363.7,289.1 L362.6,287.8 L362.0,287.6 L361.6,286.8 L360.2,286.1 L359.6,285.4 L358.7,284.6 L358.4,283.4 L357.7,282.0 L356.5,282.3 L355.8,282.3 L354.6,283.2 L354.4,283.6 L354.6,284.1 L353.5,284.7 L352.5,285.2 L351.6,285.6 L352.1,286.4 L352.2,287.3 L352.0,288.3 L352.9,289.8 L353.2,290.2 L353.4,291.0 L353.9,292.9 L353.2,294.3 L353.9,294.8 L354.6,295.4 L354.7,296.0Z" fill="#5ea5d0"/><path d="M314.8,324.4 L314.8,325.4 L314.8,326.6 L314.9,327.0 L315.1,327.5 L314.8,329.0 L315.1,329.8 L315.7,330.0 L315.9,331.5 L316.2,332.6 L317.2,333.3 L317.1,333.5 L317.0,334.6 L316.9,336.7 L318.2,337.0 L318.1,338.3 L318.0,339.6 L317.3,340.8 L317.1,341.1 L316.2,341.3 L315.8,342.1 L315.5,343.6 L315.0,344.5 L314.9,345.1 L314.6,345.5 L314.4,346.8 L313.7,347.8 L312.7,348.1 L312.2,348.8 L312.7,349.9 L313.0,350.2 L313.9,351.0 L314.4,352.8 L314.5,353.9 L314.7,354.8 L316.2,354.9 L316.9,356.1 L316.7,356.7 L317.5,357.8 L318.2,358.7 L318.0,359.4 L318.7,358.4 L319.3,359.1 L320.0,359.6 L320.8,360.2 L321.3,361.3 L322.3,361.8 L322.7,362.7 L323.1,362.9 L324.0,364.2 L324.0,365.0 L324.9,365.8 L325.1,366.4 L325.6,367.3 L327.0,367.9 L327.7,368.3 L329.4,367.8 L329.9,368.7 L329.8,368.6 L331.7,369.7 L332.7,370.2 L333.2,369.9 L333.8,370.8 L334.5,371.4 L336.3,371.9 L336.8,373.1 L337.2,373.4 L337.8,374.1 L338.9,374.3 L339.1,374.5 L339.5,375.3 L340.8,375.9 L341.4,376.6 L341.7,377.3 L342.2,378.2 L343.3,378.9 L344.3,379.0 L344.8,379.6 L345.9,380.4 L346.7,381.1 L347.2,381.2 L347.9,380.4 L349.0,380.6 L350.3,381.3 L350.4,380.0 L350.4,378.7 L350.7,378.7 L351.2,378.1 L352.3,377.2 L351.1,375.7 L350.3,375.5 L349.3,375.4 L349.3,374.7 L347.9,374.1 L346.4,373.9 L345.6,373.5 L344.8,372.3 L345.0,372.4 L344.1,371.7 L343.6,370.7 L343.1,369.7 L342.7,368.9 L343.5,368.8 L343.5,367.9 L343.7,367.0 L343.6,366.3 L343.5,365.1 L343.0,364.0 L342.3,362.9 L343.5,362.1 L342.3,360.7 L340.9,360.1 L341.0,358.6 L340.6,357.6 L339.6,356.4 L339.2,355.7 L339.3,354.9 L339.4,354.0 L338.4,352.3 L339.1,352.3 L339.3,351.6 L338.8,350.3 L339.4,349.3 L340.3,348.0 L341.3,348.2 L342.3,348.1 L343.5,347.6 L344.1,347.1 L344.7,347.0 L345.8,346.7 L346.7,346.0 L347.4,345.6 L347.8,345.0 L348.4,343.5 L349.4,343.6 L350.0,342.9 L350.0,341.6 L350.3,340.6 L350.7,339.6 L351.0,339.2 L351.0,338.5 L350.8,338.3 L349.9,337.4 L349.6,336.7 L348.6,336.0 L346.9,336.1 L345.6,334.7 L345.1,334.1 L344.6,332.9 L343.6,332.4 L342.9,332.5 L341.7,331.8 L340.6,331.2 L340.6,330.0 L339.4,330.2 L338.4,329.3 L337.4,328.9 L336.3,328.5 L335.5,328.4 L333.8,328.4 L333.9,326.8 L332.7,326.5 L331.7,326.4 L330.4,325.4 L329.7,324.3 L329.5,323.5 L329.1,322.8 L328.9,322.7 L327.7,322.7 L326.9,322.5 L326.6,322.2 L325.0,321.8 L323.8,321.6 L322.7,321.5 L322.6,322.1 L322.0,322.1 L320.8,321.2 L320.0,321.4 L319.2,322.4 L317.9,322.0 L317.0,322.9 L316.2,323.2 L315.5,323.8Z" fill="#9cc8e2"/><path d="M351.0,338.5 L351.0,339.2 L350.7,339.6 L350.3,340.6 L350.0,341.6 L350.0,342.9 L349.4,343.6 L348.4,343.5 L347.8,345.0 L347.4,345.6 L346.7,346.0 L345.8,346.7 L344.7,347.0 L344.1,347.1 L343.5,347.6 L342.3,348.1 L341.3,348.2 L340.3,348.0 L339.4,349.3 L338.8,350.3 L339.3,351.6 L339.1,352.3 L338.4,352.3 L339.4,354.0 L339.3,354.9 L339.2,355.7 L339.6,356.4 L340.6,357.6 L341.0,358.6 L340.9,360.1 L342.3,360.7 L343.5,362.1 L342.3,362.9 L343.0,364.0 L343.5,365.1 L343.6,366.3 L343.7,367.0 L343.5,367.9 L343.5,368.8 L342.7,368.9 L343.1,369.7 L343.6,370.7 L344.1,371.7 L345.0,372.4 L344.8,372.3 L345.6,373.5 L346.4,373.9 L347.9,374.1 L349.3,374.7 L349.3,375.4 L350.3,375.5 L351.1,375.7 L352.3,377.2 L353.6,377.3 L354.9,376.6 L355.8,377.2 L356.6,377.0 L357.3,375.9 L357.9,375.1 L358.1,374.5 L358.6,374.3 L359.3,374.7 L359.9,372.8 L360.7,372.5 L361.8,372.0 L362.2,370.8 L362.6,369.3 L363.3,368.4 L363.1,368.1 L364.0,366.7 L364.3,366.7 L364.9,366.4 L365.9,365.3 L366.7,363.9 L367.0,363.3 L367.8,363.1 L368.9,362.5 L369.5,361.4 L370.1,360.5 L371.0,360.2 L371.2,359.4 L371.5,358.6 L372.6,357.6 L373.5,356.6 L373.7,356.2 L374.4,355.9 L375.6,355.1 L376.0,354.4 L377.0,354.4 L377.5,353.8 L377.4,352.4 L378.2,351.1 L378.7,350.8 L378.6,350.6 L380.1,349.6 L380.1,348.0 L381.1,346.6 L381.9,346.5 L382.2,345.2 L382.5,345.2 L382.7,344.0 L383.7,342.6 L384.4,342.1 L385.5,341.6 L385.7,340.8 L384.9,340.0 L384.4,338.7 L384.2,337.9 L384.0,337.8 L384.3,336.5 L383.6,335.2 L383.5,335.3 L383.2,334.6 L383.0,332.8 L382.5,332.1 L381.4,332.1 L379.8,332.9 L378.5,332.9 L377.6,332.4 L377.5,332.3 L375.6,332.3 L374.2,332.6 L373.1,333.1 L372.7,333.0 L371.4,332.4 L370.2,332.4 L369.1,332.7 L368.4,332.8 L367.7,333.0 L366.8,333.2 L366.5,333.6 L365.5,333.9 L363.9,334.0 L363.0,333.8 L362.1,333.4 L361.4,333.5 L360.5,333.3 L360.5,333.2 L359.1,333.5 L358.6,333.9 L358.1,333.8 L357.1,334.2 L356.2,335.0 L355.4,336.3 L354.6,335.9 L353.5,336.9 L352.3,336.9 L352.1,338.1Z" fill="#cde0f1"/><path d="M382.5,332.1 L383.0,332.8 L383.2,334.6 L383.5,335.3 L383.6,335.2 L384.3,336.5 L384.0,337.8 L384.2,337.9 L384.4,338.7 L384.9,340.0 L385.7,340.8 L385.5,341.6 L384.4,342.1 L383.7,342.6 L382.7,344.0 L382.5,345.2 L382.2,345.2 L381.9,346.5 L381.1,346.6 L380.1,348.0 L380.1,349.6 L378.6,350.6 L378.7,350.8 L378.2,351.1 L377.4,352.4 L377.5,353.8 L377.6,353.5 L378.5,353.9 L379.0,354.9 L379.9,355.3 L381.3,356.0 L381.7,356.8 L382.3,356.8 L383.1,356.7 L384.6,357.6 L385.4,357.8 L386.1,357.5 L387.5,358.3 L388.4,359.1 L388.3,359.0 L389.6,359.5 L391.2,360.2 L391.5,360.2 L392.6,361.2 L393.3,362.1 L394.6,362.1 L395.4,362.8 L395.9,363.1 L396.4,364.1 L397.6,363.7 L399.4,363.1 L399.5,363.0 L400.3,362.3 L401.8,361.4 L402.3,361.3 L403.2,360.8 L405.2,360.5 L405.5,359.9 L406.4,359.2 L407.4,358.8 L409.0,357.8 L409.8,357.3 L411.1,356.3 L411.0,356.9 L411.4,356.3 L412.6,355.1 L413.6,354.8 L414.2,354.9 L414.9,353.6 L416.1,353.3 L416.3,352.1 L415.8,352.0 L415.0,351.1 L414.7,349.8 L414.2,349.3 L413.2,348.6 L412.3,347.8 L411.4,346.7 L411.2,346.3 L410.9,346.4 L409.9,345.7 L408.4,344.8 L407.5,344.2 L406.8,343.2 L406.5,342.1 L406.8,341.6 L406.4,341.2 L406.2,340.6 L406.1,339.2 L405.5,338.1 L404.8,337.2 L404.5,336.3 L404.9,335.3 L405.0,334.2 L404.4,333.2 L403.9,332.0 L403.7,330.6 L403.4,329.7 L403.2,329.6 L403.8,327.9 L403.6,326.9 L403.2,326.0 L402.2,324.6 L402.2,323.6 L402.3,322.6 L401.6,321.2 L401.6,320.9 L401.4,320.1 L400.8,318.9 L400.5,319.9 L399.2,319.5 L397.8,319.0 L396.5,318.9 L395.4,319.2 L394.6,319.7 L394.5,319.8 L393.7,320.3 L391.8,322.3 L390.8,322.8 L390.2,323.7 L389.4,323.9 L389.0,324.1 L388.5,323.8 L387.1,324.2 L385.8,324.8 L385.1,325.3 L384.3,325.8 L383.8,326.5 L383.2,327.1 L383.2,327.3 L382.9,328.7 L382.8,329.8 L382.7,330.8 L382.6,331.6Z" fill="#1966ac"/><path d="M354.7,381.3 L354.7,382.5 L354.4,383.0 L353.8,382.8 L353.7,384.2 L353.2,385.2 L352.4,386.3 L352.4,387.0 L352.5,387.8 L352.8,388.7 L352.5,389.9 L352.5,390.8 L352.5,391.2 L352.6,391.8 L351.9,392.8 L353.9,393.4 L355.2,393.6 L355.9,393.5 L356.2,393.6 L357.2,394.0 L358.4,394.5 L360.2,394.4 L360.9,394.9 L362.3,394.5 L362.2,395.0 L362.5,396.1 L363.5,397.6 L363.7,398.7 L363.9,399.7 L364.4,400.1 L365.4,401.1 L366.1,401.3 L366.1,402.3 L367.7,403.6 L369.0,404.0 L370.1,404.4 L370.6,403.6 L371.4,402.9 L372.8,403.3 L372.9,403.1 L373.2,402.9 L375.3,402.5 L376.5,403.1 L377.5,403.5 L378.1,403.6 L379.0,403.5 L379.9,404.3 L381.2,404.4 L383.2,404.2 L384.2,404.4 L384.5,404.5 L385.1,405.0 L385.6,406.3 L386.4,406.7 L386.9,406.7 L388.0,406.9 L388.1,407.1 L388.3,406.9 L389.8,406.8 L390.1,406.0 L391.2,405.8 L392.8,405.8 L392.7,404.6 L393.4,404.4 L394.5,403.9 L394.9,402.6 L395.6,401.6 L395.7,401.4 L396.1,400.3 L397.4,398.9 L398.0,398.2 L398.7,398.1 L399.0,397.1 L399.0,395.7 L399.9,395.3 L400.3,394.6 L400.0,393.9 L401.1,392.6 L401.3,391.4 L401.4,390.1 L402.0,389.8 L402.5,388.2 L402.2,387.0 L401.9,385.9 L402.4,384.4 L402.2,383.4 L401.6,382.6 L400.5,382.0 L401.0,381.7 L400.8,380.2 L400.2,379.4 L399.6,379.1 L399.2,378.1 L398.1,376.8 L397.8,375.8 L397.6,375.4 L396.9,374.2 L396.2,372.7 L396.2,372.0 L395.5,370.6 L396.0,369.5 L396.5,368.5 L395.5,367.9 L396.1,367.5 L396.3,366.7 L396.3,365.8 L396.4,364.1 L395.9,363.1 L395.4,362.8 L394.6,362.1 L393.3,362.1 L392.6,361.2 L391.5,360.2 L391.2,360.2 L389.6,359.5 L388.3,359.0 L388.4,359.1 L387.5,358.3 L386.1,357.5 L385.4,357.8 L384.6,357.6 L383.1,356.7 L382.3,356.8 L381.7,356.8 L381.3,356.0 L379.9,355.3 L379.0,354.9 L378.5,353.9 L377.6,353.5 L377.5,353.8 L377.0,354.4 L376.0,354.4 L375.6,355.1 L374.4,355.9 L373.7,356.2 L373.5,356.6 L372.6,357.6 L371.5,358.6 L371.2,359.4 L371.0,360.2 L370.1,360.5 L369.5,361.4 L368.9,362.5 L367.8,363.1 L367.0,363.3 L366.7,363.9 L365.9,365.3 L364.9,366.4 L364.3,366.7 L364.0,366.7 L363.1,368.1 L363.3,368.4 L362.6,369.3 L362.2,370.8 L361.8,372.0 L360.7,372.5 L359.9,372.8 L359.3,374.7 L358.6,374.3 L358.1,374.5 L357.9,375.1 L357.3,375.9 L356.6,377.0 L355.8,377.2 L354.9,376.6 L353.6,377.3 L352.3,377.2 L352.3,377.3 L353.0,378.2 L353.5,379.7 L353.9,380.6Z" fill="#b8d5ea"/><path d="M313.6,367.8 L313.9,368.9 L314.2,370.2 L314.1,371.5 L314.0,372.6 L314.1,373.1 L313.5,375.3 L313.2,376.0 L312.8,377.1 L312.3,378.3 L312.5,379.0 L313.0,380.2 L313.3,381.2 L313.1,381.9 L312.0,383.8 L312.3,385.3 L311.9,386.0 L311.8,386.6 L312.8,387.2 L312.1,388.6 L311.8,389.9 L311.7,391.1 L311.6,392.6 L310.8,393.7 L311.3,394.8 L311.2,395.6 L310.7,396.3 L311.5,397.4 L311.6,398.9 L311.4,398.2 L312.2,398.0 L312.9,397.9 L313.5,397.9 L314.4,397.8 L314.4,397.9 L314.9,399.1 L316.5,400.8 L317.2,401.8 L317.1,402.5 L316.9,403.1 L316.0,402.8 L315.0,402.2 L314.5,403.1 L312.6,403.4 L311.1,403.4 L310.2,402.7 L310.2,403.5 L309.7,404.0 L309.2,404.4 L309.3,405.7 L308.7,406.7 L308.5,407.7 L309.3,409.2 L308.7,409.6 L309.5,409.7 L310.2,409.0 L310.8,408.4 L311.7,408.5 L312.9,408.6 L314.0,409.6 L314.0,409.6 L314.4,409.8 L315.2,410.7 L315.9,411.0 L316.9,411.5 L317.9,411.9 L318.6,412.5 L320.7,412.7 L321.8,413.1 L322.7,413.6 L323.7,413.7 L324.6,413.4 L325.6,413.7 L326.4,414.0 L327.0,414.0 L328.0,414.0 L329.7,414.3 L330.6,415.6 L331.2,416.6 L332.7,417.9 L333.1,418.2 L333.6,419.1 L334.8,419.0 L335.6,419.4 L335.8,420.8 L336.8,421.9 L337.1,422.8 L338.0,423.3 L338.6,423.4 L339.2,424.2 L339.4,424.2 L340.8,423.9 L342.3,423.7 L343.5,422.7 L344.0,422.9 L344.5,423.6 L345.0,423.7 L345.9,423.7 L347.1,423.3 L348.2,422.7 L348.3,422.2 L348.8,422.0 L349.1,421.0 L349.1,420.9 L349.8,420.1 L350.6,419.1 L351.3,417.3 L351.7,416.4 L352.0,415.9 L352.2,414.7 L352.3,413.8 L352.7,412.8 L353.1,411.3 L352.2,411.1 L352.2,410.2 L352.8,409.2 L354.0,408.0 L354.5,407.2 L354.5,406.4 L354.3,405.5 L354.5,404.2 L355.1,403.5 L356.4,403.0 L356.7,402.4 L357.1,401.7 L358.1,400.2 L359.1,399.7 L360.2,399.2 L361.2,399.3 L360.8,397.7 L360.7,396.8 L361.0,395.9 L362.3,394.5 L360.9,394.9 L360.2,394.4 L358.4,394.5 L357.2,394.0 L356.2,393.6 L355.9,393.5 L355.2,393.6 L353.9,393.4 L351.9,392.8 L352.6,391.8 L352.5,391.2 L352.5,390.8 L352.5,389.9 L352.8,388.7 L352.5,387.8 L352.4,387.0 L352.4,386.3 L353.2,385.2 L353.7,384.2 L353.8,382.8 L354.4,383.0 L354.7,382.5 L354.7,381.3 L353.9,380.6 L353.5,379.7 L353.0,378.2 L352.3,377.3 L352.3,377.2 L351.2,378.1 L350.7,378.7 L350.4,378.7 L350.4,380.0 L350.3,381.3 L349.0,380.6 L347.9,380.4 L347.2,381.2 L346.7,381.1 L345.9,380.4 L344.8,379.6 L344.3,379.0 L343.3,378.9 L342.2,378.2 L341.7,377.3 L341.4,376.6 L340.8,375.9 L339.5,375.3 L339.1,374.5 L338.9,374.3 L337.8,374.1 L337.2,373.4 L336.8,373.1 L336.3,371.9 L334.5,371.4 L333.8,370.8 L333.2,369.9 L332.7,370.2 L331.7,369.7 L329.8,368.6 L329.9,368.7 L329.4,367.8 L327.7,368.3 L327.0,367.9 L325.6,367.3 L325.1,366.4 L324.9,365.8 L324.0,365.0 L324.0,364.2 L323.1,362.9 L322.7,362.7 L322.3,361.8 L321.3,361.3 L320.8,360.1 L320.0,359.6 L319.3,359.0 L318.7,358.4 L318.1,359.4 L317.8,359.7 L317.2,360.1 L316.0,361.4 L315.2,362.1 L314.6,362.2 L315.2,363.3 L315.2,364.6 L314.3,365.7 L313.4,366.3 L313.4,366.9Z" fill="#cde0f1"/><path d="M308.7,409.6 L308.3,410.2 L308.8,411.5 L308.2,413.2 L307.7,414.0 L307.2,414.5 L306.9,415.1 L306.4,417.2 L306.2,417.8 L306.3,418.6 L306.3,419.8 L305.7,421.3 L305.3,422.7 L305.0,423.8 L304.8,424.7 L304.5,425.0 L304.7,426.4 L304.4,427.6 L304.0,428.9 L304.8,429.7 L304.6,430.2 L303.9,431.3 L303.1,432.7 L303.1,433.8 L302.8,434.4 L302.3,435.9 L301.9,437.3 L301.6,437.4 L301.9,439.1 L302.0,440.3 L301.7,441.2 L301.6,442.7 L300.5,442.8 L300.4,444.6 L300.4,446.0 L300.1,446.7 L300.2,447.8 L300.3,448.8 L300.1,449.5 L299.7,450.2 L298.7,452.3 L298.2,453.4 L298.0,454.5 L299.1,455.4 L297.6,456.3 L297.3,457.0 L298.2,456.9 L299.4,457.4 L300.3,456.9 L301.2,456.7 L302.3,457.5 L303.0,457.3 L303.6,457.3 L304.4,457.7 L306.1,457.9 L307.0,458.4 L308.1,458.8 L309.2,458.7 L309.7,458.2 L310.7,457.6 L311.8,457.1 L313.0,456.7 L315.3,457.1 L316.5,457.2 L317.5,457.3 L318.4,457.7 L319.4,456.6 L320.0,456.7 L321.0,456.5 L323.0,456.0 L323.5,455.6 L324.2,455.5 L325.4,455.6 L326.9,455.8 L327.6,456.0 L329.1,456.0 L329.9,456.0 L330.5,456.0 L331.4,455.3 L332.2,455.7 L333.4,455.8 L334.9,455.5 L335.3,455.4 L336.7,455.5 L338.1,455.7 L338.9,455.8 L339.9,455.5 L340.7,455.4 L341.6,455.1 L342.5,455.4 L343.4,455.4 L342.8,454.5 L342.5,453.6 L342.9,452.3 L341.6,451.0 L342.2,449.9 L342.6,449.2 L342.6,448.6 L342.3,446.9 L343.1,445.7 L343.9,444.7 L344.0,444.3 L344.2,443.1 L344.8,441.5 L344.1,441.4 L344.7,440.5 L345.8,439.6 L346.6,439.0 L346.4,439.4 L348.3,438.7 L349.6,438.0 L350.1,437.3 L350.7,437.2 L351.4,436.8 L352.2,436.3 L353.1,436.3 L354.4,435.9 L354.1,435.2 L353.8,434.4 L355.0,432.1 L354.4,431.1 L354.4,430.3 L354.1,430.1 L353.2,430.0 L352.2,429.4 L351.3,429.2 L350.9,428.7 L350.3,428.0 L349.8,427.2 L349.4,425.7 L348.5,424.6 L347.4,423.9 L347.1,423.3 L345.9,423.7 L345.0,423.7 L344.5,423.6 L344.0,422.9 L343.5,422.7 L342.3,423.7 L340.8,423.9 L339.4,424.2 L339.2,424.2 L338.6,423.4 L338.0,423.3 L337.1,422.8 L336.8,421.9 L335.8,420.8 L335.6,419.4 L334.8,419.0 L333.6,419.1 L333.1,418.2 L332.7,417.9 L331.2,416.6 L330.6,415.6 L329.7,414.3 L328.0,414.0 L327.0,414.0 L326.4,414.0 L325.6,413.7 L324.6,413.4 L323.7,413.7 L322.7,413.6 L321.8,413.1 L320.7,412.7 L318.6,412.5 L317.9,411.9 L316.9,411.5 L315.9,411.0 L315.2,410.7 L314.4,409.8 L314.0,409.6 L314.0,409.6 L312.9,408.6 L311.7,408.5 L310.8,408.4 L310.2,409.0 L309.5,409.7Z" fill="#cde0f1"/><path d="M293.3,461.3 L292.5,462.1 L292.1,462.0 L291.7,462.6 L290.6,463.1 L289.8,463.3 L289.3,463.9 L289.5,465.1 L289.9,466.5 L290.3,467.2 L291.6,467.7 L292.1,468.0 L293.3,467.9 L294.3,467.9 L295.2,468.8 L295.9,469.3 L296.5,469.8 L297.4,469.3 L298.1,469.8 L298.8,471.0 L299.6,472.0 L301.0,472.9 L301.2,473.4 L300.9,473.7 L300.3,474.8 L300.1,476.5 L299.5,477.0 L299.2,477.8 L300.8,478.3 L301.9,479.5 L302.5,479.6 L302.8,480.2 L304.1,480.8 L305.4,481.5 L306.2,481.6 L307.4,480.7 L307.3,481.0 L307.7,481.6 L308.9,482.3 L310.0,482.2 L311.1,482.8 L313.0,483.8 L313.8,483.7 L314.1,483.4 L314.8,483.4 L315.8,483.5 L317.1,484.8 L318.0,485.6 L318.4,484.9 L319.5,485.5 L321.1,486.4 L321.4,487.8 L322.3,488.1 L323.7,488.7 L324.8,488.9 L325.7,489.9 L325.5,490.4 L327.3,490.7 L328.5,491.0 L328.1,490.7 L329.2,491.3 L331.0,491.9 L331.8,492.4 L332.1,493.0 L332.5,493.8 L334.2,493.6 L335.5,494.0 L336.0,495.1 L336.7,494.4 L337.7,494.5 L338.6,495.6 L340.3,494.7 L341.1,494.9 L341.9,495.1 L340.9,494.2 L341.3,493.6 L341.0,493.3 L340.1,491.5 L339.0,490.9 L339.2,490.5 L339.2,489.6 L339.2,488.7 L339.5,487.1 L339.8,486.5 L340.5,485.8 L341.0,484.3 L341.9,483.7 L343.3,483.5 L343.5,482.6 L343.6,481.8 L344.2,480.9 L344.8,479.8 L346.1,479.6 L346.9,478.7 L346.6,477.2 L346.8,476.4 L347.1,476.2 L347.8,475.0 L348.3,474.1 L348.9,473.3 L349.2,472.8 L349.1,472.0 L349.0,470.1 L350.1,469.3 L351.2,468.8 L351.0,467.6 L350.7,466.6 L350.3,465.4 L350.2,464.6 L349.9,463.1 L349.4,462.2 L349.0,461.6 L349.9,460.8 L349.3,460.1 L348.2,459.8 L348.6,458.2 L348.5,457.3 L347.5,456.7 L346.5,456.7 L345.4,456.0 L344.1,455.4 L343.4,455.4 L342.5,455.4 L341.6,455.1 L340.7,455.4 L339.9,455.5 L338.9,455.8 L338.1,455.7 L336.7,455.5 L335.3,455.4 L334.9,455.5 L333.4,455.8 L332.2,455.7 L331.4,455.3 L330.5,456.0 L329.9,456.0 L329.1,456.0 L327.6,456.0 L326.9,455.8 L325.4,455.6 L324.2,455.5 L323.5,455.6 L323.0,456.0 L321.0,456.5 L320.0,456.7 L319.4,456.6 L318.4,457.7 L317.5,457.3 L316.5,457.2 L315.3,457.1 L313.0,456.7 L311.8,457.1 L310.7,457.6 L309.7,458.2 L309.2,458.7 L308.1,458.8 L307.0,458.4 L306.1,457.9 L304.4,457.7 L303.6,457.3 L303.0,457.3 L302.3,457.5 L301.2,456.7 L300.3,456.9 L299.4,457.4 L298.2,456.9 L297.3,457.0 L296.6,458.3 L295.9,458.5 L295.3,458.6 L294.9,459.5 L293.6,460.7Z" fill="#deebf7"/><path d="M351.2,460.5 L351.8,461.3 L351.1,461.9 L351.9,463.0 L351.9,463.9 L352.1,464.6 L353.2,464.7 L354.6,465.5 L354.8,466.9 L356.5,466.4 L358.0,466.4 L358.9,467.2 L360.0,467.6 L361.0,467.4 L362.0,467.5 L362.9,468.5 L363.8,468.1 L365.1,468.2 L366.0,468.4 L366.4,469.0 L367.4,468.8 L368.4,468.7 L370.0,469.1 L371.8,469.8 L372.0,469.6 L373.1,469.2 L374.2,468.5 L375.1,468.1 L375.6,468.2 L375.8,468.2 L377.1,467.2 L378.2,466.6 L378.7,465.8 L378.7,464.8 L379.5,464.3 L380.4,464.0 L381.4,464.5 L382.5,464.0 L383.2,463.3 L384.8,463.4 L385.6,462.9 L386.1,462.8 L386.8,462.3 L387.8,461.5 L388.5,461.0 L388.7,460.7 L388.9,459.9 L390.0,458.7 L391.0,458.5 L391.2,457.4 L392.1,456.0 L391.3,455.7 L390.2,454.4 L389.9,453.9 L389.1,453.6 L389.0,452.3 L388.3,451.0 L387.8,450.5 L387.5,449.9 L386.7,449.0 L385.2,448.0 L384.5,447.0 L384.2,446.8 L383.7,446.3 L383.1,445.7 L382.8,444.2 L382.7,443.5 L381.9,443.1 L381.3,441.4 L381.1,440.2 L381.7,440.1 L380.7,439.4 L379.4,438.5 L379.4,436.3 L378.5,435.8 L378.0,434.7 L377.4,434.1 L377.3,433.3 L376.4,433.7 L375.7,432.5 L374.7,432.3 L373.3,432.2 L371.9,432.2 L371.6,432.4 L370.1,432.8 L368.7,432.8 L367.3,432.6 L367.2,432.7 L366.3,432.8 L365.1,433.0 L364.2,434.1 L363.3,434.4 L362.4,433.9 L361.5,433.4 L360.5,433.5 L359.2,434.4 L358.2,434.9 L357.5,435.2 L355.7,435.5 L354.9,435.7 L354.4,435.9 L353.1,436.3 L352.2,436.3 L351.4,436.8 L350.7,437.2 L350.1,437.3 L349.6,438.0 L348.3,438.7 L346.4,439.4 L346.6,439.0 L345.8,439.6 L344.7,440.5 L344.1,441.4 L344.8,441.5 L344.2,443.1 L344.0,444.3 L343.9,444.7 L343.1,445.7 L342.3,446.9 L342.6,448.6 L342.6,449.2 L342.2,449.9 L341.6,451.0 L342.9,452.3 L342.5,453.6 L342.8,454.5 L343.4,455.4 L344.1,455.4 L345.4,456.0 L346.5,456.7 L347.5,456.7 L348.5,457.3 L349.0,457.9 L349.5,458.7 L350.5,459.3Z" fill="#5ea5d0"/><path d="M361.2,399.3 L360.2,399.2 L359.1,399.7 L358.1,400.2 L357.1,401.7 L356.7,402.4 L356.4,403.0 L355.1,403.5 L354.5,404.2 L354.3,405.5 L354.5,406.4 L354.5,407.2 L354.0,408.0 L352.8,409.2 L352.2,410.2 L352.2,411.1 L353.1,411.3 L352.7,412.8 L352.3,413.8 L352.2,414.7 L352.0,415.9 L351.7,416.4 L351.3,417.3 L350.6,419.1 L349.8,420.1 L349.1,420.9 L349.1,421.0 L348.8,422.0 L348.3,422.2 L348.2,422.7 L347.1,423.3 L347.4,423.9 L348.5,424.6 L349.4,425.7 L349.8,427.2 L350.3,428.0 L350.9,428.7 L351.3,429.2 L352.2,429.4 L353.2,430.0 L354.1,430.1 L354.4,430.3 L354.4,431.1 L355.0,432.1 L353.8,434.4 L354.1,435.2 L354.4,435.9 L354.9,435.7 L355.7,435.5 L357.5,435.2 L358.2,434.9 L359.2,434.4 L360.5,433.5 L361.5,433.4 L362.4,433.9 L363.3,434.4 L364.2,434.1 L365.1,433.0 L366.3,432.8 L367.2,432.7 L367.3,432.6 L368.7,432.8 L370.1,432.8 L371.6,432.4 L371.9,432.2 L373.3,432.2 L374.7,432.3 L375.7,432.5 L376.4,433.7 L377.3,433.3 L378.6,432.0 L377.9,430.9 L378.1,430.4 L378.5,430.4 L379.4,429.4 L379.9,429.0 L380.8,428.1 L381.8,426.9 L382.9,426.5 L383.1,425.5 L382.4,424.9 L382.4,424.0 L382.7,422.8 L381.7,421.6 L382.1,420.8 L383.4,420.8 L384.0,420.0 L384.5,418.7 L385.4,418.4 L385.8,418.5 L387.2,417.4 L387.9,417.1 L389.0,417.3 L388.7,416.0 L387.6,414.3 L387.1,413.3 L387.2,412.7 L386.6,411.7 L386.9,410.9 L387.6,409.9 L388.0,408.9 L388.0,408.0 L388.1,406.9 L386.9,406.7 L386.4,406.7 L385.6,406.3 L385.1,404.9 L384.5,404.5 L384.2,404.4 L383.2,404.1 L381.2,404.4 L379.9,404.2 L379.0,403.5 L378.1,403.6 L377.5,403.5 L376.5,403.1 L375.3,402.4 L373.2,402.9 L372.9,403.1 L372.8,403.3 L371.4,402.8 L370.7,403.5 L370.1,404.4 L369.0,403.9 L367.7,403.5 L366.1,402.2 L366.1,401.3 L365.4,401.1 L364.4,400.1 L363.9,399.7 L363.7,398.8 L363.5,397.6 L362.5,396.2 L362.2,395.1 L362.3,394.5 L361.0,395.9 L360.7,396.9 L360.8,397.7Z" fill="#5ea5d0"/><path d="M400.8,380.3 L401.0,381.7 L400.5,382.0 L401.6,382.6 L402.2,383.5 L402.4,384.4 L401.8,385.9 L403.4,385.9 L403.7,385.8 L404.1,385.7 L405.4,385.6 L406.7,386.2 L408.1,387.5 L408.5,388.0 L409.5,388.6 L410.9,388.8 L410.9,388.5 L411.3,388.6 L412.3,390.4 L413.3,391.0 L414.7,391.4 L415.6,391.0 L416.8,391.1 L417.7,391.0 L418.4,389.7 L419.3,389.4 L420.0,388.8 L421.0,388.5 L421.9,388.6 L422.6,389.5 L423.6,389.3 L424.7,389.7 L425.3,389.4 L425.5,388.3 L425.6,387.3 L426.2,386.1 L425.9,385.7 L426.9,384.6 L427.4,383.3 L427.4,382.3 L427.5,381.1 L428.8,380.1 L429.7,379.2 L429.2,378.2 L430.0,377.6 L430.8,376.5 L430.5,375.6 L431.5,374.8 L431.9,373.9 L432.7,372.7 L433.6,372.4 L433.6,372.1 L434.5,371.0 L435.7,369.3 L435.9,368.6 L436.1,369.0 L437.4,368.5 L438.7,367.9 L438.9,367.6 L439.6,367.0 L440.0,365.3 L440.1,364.0 L440.0,363.1 L439.3,363.5 L439.1,362.1 L439.0,361.0 L439.1,360.0 L438.9,358.3 L438.6,357.8 L438.1,357.2 L438.4,355.2 L437.4,354.7 L436.8,353.5 L437.2,353.2 L436.3,353.2 L435.2,353.3 L434.0,354.3 L433.3,353.9 L432.7,353.6 L431.6,353.7 L430.7,353.6 L429.5,353.7 L428.4,353.1 L427.8,352.4 L427.3,351.6 L425.7,351.6 L424.7,351.3 L424.1,350.8 L423.1,350.7 L422.3,350.4 L420.8,350.8 L420.2,351.6 L419.6,352.1 L418.5,351.7 L417.5,352.1 L416.3,352.1 L416.1,353.2 L414.9,353.6 L414.2,354.8 L413.6,354.8 L412.5,355.1 L411.4,356.3 L411.0,356.9 L411.1,356.3 L409.8,357.3 L409.0,357.7 L407.4,358.8 L406.4,359.2 L405.5,359.8 L405.2,360.5 L403.2,360.8 L402.3,361.3 L401.8,361.4 L400.3,362.3 L399.5,362.9 L399.3,363.1 L397.6,363.7 L396.4,364.1 L396.3,365.7 L396.3,366.7 L396.1,367.5 L395.5,367.9 L396.5,368.5 L396.0,369.5 L395.4,370.6 L396.1,372.1 L396.2,372.7 L396.9,374.3 L397.5,375.5 L397.8,375.9 L398.1,376.8 L399.2,378.2 L399.6,379.1 L400.2,379.4Z" fill="#9cc8e2"/><path d="M425.9,397.3 L426.6,397.6 L426.3,398.8 L426.3,399.7 L427.2,399.6 L427.0,400.6 L427.0,401.8 L428.4,402.7 L428.9,403.0 L429.0,403.3 L430.2,404.4 L431.5,404.6 L432.9,403.9 L433.6,404.2 L433.7,404.9 L434.7,404.5 L435.7,404.2 L436.2,403.9 L437.4,402.9 L438.5,402.3 L439.2,402.0 L440.2,401.3 L440.6,400.3 L440.4,399.9 L440.8,399.1 L441.7,397.5 L442.6,397.1 L443.1,396.2 L443.7,394.4 L443.9,393.7 L444.8,393.6 L445.9,392.6 L446.3,391.4 L446.8,391.3 L447.6,391.7 L448.6,392.2 L449.1,392.8 L449.9,393.3 L450.3,393.5 L451.0,394.2 L452.0,395.3 L452.5,396.8 L452.9,397.2 L454.1,397.4 L453.9,398.8 L454.4,400.0 L454.2,401.1 L455.4,402.1 L456.0,402.2 L456.9,403.2 L456.7,401.9 L456.5,401.0 L456.4,400.9 L457.1,399.6 L457.0,398.4 L457.5,397.0 L458.8,397.0 L459.9,396.1 L459.9,395.0 L460.4,394.8 L461.2,393.9 L462.7,392.7 L463.0,392.4 L463.7,392.7 L464.4,391.7 L465.0,390.8 L465.9,390.3 L466.6,390.4 L467.0,390.4 L466.8,388.9 L467.4,387.7 L467.4,386.8 L467.0,386.1 L466.3,385.8 L466.2,384.7 L465.6,383.7 L464.7,382.7 L464.4,381.7 L464.0,381.0 L463.7,379.8 L463.4,379.0 L463.3,378.7 L463.0,377.0 L462.5,375.7 L462.1,375.8 L461.7,375.2 L461.3,373.8 L461.2,372.3 L460.8,371.7 L460.0,371.9 L459.1,372.0 L458.2,372.0 L457.6,372.7 L456.9,372.5 L455.9,372.1 L455.1,371.7 L454.2,371.0 L452.9,369.7 L451.6,369.3 L450.4,368.9 L449.5,369.5 L448.6,369.0 L447.6,368.5 L446.5,369.7 L445.8,368.9 L444.9,368.4 L443.2,367.8 L442.5,368.3 L441.5,367.6 L441.3,367.3 L439.6,367.0 L438.9,367.6 L438.7,367.9 L437.4,368.5 L436.1,369.0 L435.9,368.6 L435.7,369.3 L434.5,371.0 L433.6,372.1 L433.6,372.4 L432.7,372.7 L431.9,373.9 L431.5,374.8 L430.5,375.6 L430.8,376.5 L430.0,377.6 L429.2,378.2 L429.7,379.2 L428.8,380.1 L427.5,381.1 L427.4,382.3 L427.4,383.3 L426.9,384.6 L425.9,385.7 L426.2,386.1 L425.6,387.3 L425.5,388.3 L425.3,389.4 L424.7,389.7 L424.8,390.7 L424.7,391.6 L424.9,392.8 L425.2,393.9 L425.5,395.0 L425.6,396.4Z" fill="#2c7cba"/><path d="M470.9,394.0 L471.7,394.4 L473.5,394.2 L474.0,395.3 L475.3,396.4 L476.2,395.9 L477.0,395.5 L477.7,394.5 L478.1,394.0 L478.9,394.7 L480.6,394.2 L481.5,394.9 L482.5,395.4 L482.5,396.9 L482.9,397.1 L484.4,397.7 L485.0,398.2 L486.0,399.3 L486.3,399.7 L486.5,399.3 L488.1,398.5 L489.2,398.0 L489.8,397.3 L490.7,396.1 L491.3,395.7 L492.4,395.2 L493.4,394.5 L493.4,393.8 L493.6,392.9 L494.5,392.6 L494.8,391.5 L496.2,390.6 L497.0,390.2 L497.4,389.3 L497.9,388.6 L498.7,388.1 L499.6,386.9 L500.6,386.2 L500.7,386.3 L500.8,385.6 L501.1,384.5 L501.4,383.5 L502.1,382.9 L502.6,382.2 L503.1,381.5 L502.6,379.7 L503.3,379.2 L504.7,377.8 L505.0,377.1 L505.4,376.0 L505.8,374.9 L505.3,374.6 L505.2,373.8 L504.9,372.8 L504.4,372.3 L503.3,371.7 L502.5,370.6 L502.2,370.2 L501.3,369.4 L499.7,368.7 L498.9,368.6 L497.4,368.6 L496.2,368.7 L495.4,369.4 L494.6,369.5 L493.3,369.1 L492.2,368.9 L492.3,369.4 L490.1,368.4 L489.4,368.1 L488.6,367.8 L487.2,367.5 L486.4,368.3 L486.0,368.7 L485.2,369.4 L484.0,369.3 L482.7,369.4 L481.3,369.7 L479.6,370.0 L479.2,370.0 L478.5,369.8 L477.1,370.4 L476.8,370.0 L475.8,369.5 L474.7,368.2 L474.0,368.0 L473.1,368.3 L471.6,367.6 L470.5,367.3 L469.3,367.8 L468.3,368.3 L468.4,368.8 L466.6,369.2 L465.3,369.3 L464.4,369.9 L463.9,370.1 L463.6,370.0 L462.6,370.0 L461.8,370.6 L460.8,371.7 L461.2,372.3 L461.3,373.8 L461.7,375.2 L462.1,375.8 L462.5,375.7 L463.0,377.0 L463.3,378.7 L463.4,379.0 L463.7,379.8 L464.0,381.0 L464.4,381.7 L464.7,382.7 L465.6,383.7 L466.2,384.7 L466.3,385.8 L467.0,386.1 L467.4,386.8 L467.4,387.7 L466.8,388.9 L467.0,390.4 L467.8,391.5 L468.7,391.1 L470.1,392.3 L470.8,393.1Z" fill="#1966ac"/><path d="M489.9,416.9 L490.8,417.9 L490.7,419.3 L491.8,419.3 L492.4,419.4 L493.3,420.4 L494.3,421.6 L495.0,421.3 L495.8,421.6 L496.7,422.4 L497.2,421.9 L497.6,421.2 L498.5,421.1 L499.1,420.6 L500.8,420.1 L502.1,420.4 L502.3,420.7 L502.9,421.5 L504.1,422.0 L505.1,421.4 L505.9,420.9 L506.1,419.8 L507.1,420.2 L508.0,420.9 L509.5,420.8 L510.2,421.0 L510.5,421.7 L511.7,421.5 L511.7,420.6 L512.3,420.1 L512.4,418.5 L512.9,417.9 L513.2,417.5 L513.6,416.2 L512.9,415.2 L512.8,414.3 L513.1,413.1 L513.8,411.4 L514.4,410.2 L514.5,409.5 L514.3,408.7 L514.5,406.9 L515.4,406.7 L515.9,406.0 L516.4,403.9 L515.6,403.7 L515.6,402.5 L515.9,401.4 L516.7,400.5 L516.5,398.8 L516.1,398.2 L515.9,397.3 L516.0,396.0 L516.3,395.6 L516.7,394.2 L517.1,392.8 L517.7,391.7 L518.0,390.0 L517.7,389.6 L517.8,388.9 L517.8,388.1 L518.4,386.0 L518.6,384.6 L518.2,383.6 L517.6,382.7 L517.9,382.7 L518.3,380.7 L518.1,379.8 L517.2,379.5 L516.8,377.7 L516.9,376.8 L517.1,376.2 L517.2,376.2 L515.9,374.9 L515.0,373.2 L514.8,373.2 L514.5,372.2 L513.1,371.9 L512.8,371.6 L512.0,371.2 L511.5,371.2 L511.1,371.9 L510.1,373.3 L509.3,373.3 L508.4,373.8 L507.0,374.1 L505.8,374.9 L505.4,376.0 L505.0,377.1 L504.7,377.8 L503.3,379.2 L502.6,379.7 L503.1,381.5 L502.6,382.2 L502.1,382.9 L501.4,383.5 L501.1,384.5 L500.8,385.6 L500.7,386.3 L500.6,386.2 L499.6,386.9 L498.7,388.1 L497.9,388.6 L497.4,389.3 L497.0,390.2 L496.2,390.6 L494.8,391.5 L494.5,392.6 L493.6,392.9 L493.4,393.8 L493.4,394.5 L492.4,395.2 L491.3,395.7 L490.7,396.1 L489.8,397.3 L489.2,398.0 L488.1,398.5 L486.5,399.3 L486.3,399.7 L486.4,399.6 L486.9,401.6 L487.0,403.0 L487.4,404.0 L487.9,404.5 L488.3,405.9 L488.1,407.3 L487.8,408.4 L489.5,408.8 L488.7,409.6 L488.5,411.0 L488.7,412.3 L488.9,412.1 L489.4,413.3 L490.0,414.4 L490.5,415.6Z" fill="#1966ac"/><path d="M467.0,390.4 L466.6,390.4 L465.9,390.3 L465.0,390.8 L464.4,391.7 L463.7,392.7 L463.0,392.4 L462.7,392.7 L461.2,393.9 L460.4,394.8 L459.9,395.0 L459.9,396.1 L458.8,397.0 L457.5,397.0 L457.0,398.4 L457.1,399.6 L456.4,400.9 L456.5,401.0 L456.7,401.9 L456.9,403.2 L456.7,403.8 L456.7,405.1 L457.4,406.1 L457.8,406.9 L457.4,408.8 L458.2,409.3 L458.9,410.1 L458.5,412.2 L459.5,412.2 L460.1,413.4 L460.2,415.1 L460.2,415.7 L460.2,416.8 L460.7,417.5 L461.5,418.1 L461.8,420.1 L461.9,421.2 L462.3,421.6 L463.6,421.9 L464.0,423.1 L463.7,424.4 L464.5,424.5 L466.2,425.4 L467.1,426.1 L468.3,427.0 L468.6,426.7 L469.6,426.9 L470.7,427.3 L471.6,427.7 L473.2,427.3 L474.0,427.5 L474.8,428.4 L475.3,429.3 L476.6,429.1 L477.8,429.6 L478.2,430.4 L479.0,429.9 L480.2,428.9 L481.2,429.3 L482.3,428.7 L483.2,428.1 L484.0,428.4 L484.9,428.8 L486.0,428.4 L486.7,427.8 L487.2,426.8 L487.0,425.9 L487.4,425.1 L487.9,424.5 L488.0,423.8 L488.6,422.8 L489.2,421.3 L489.5,419.6 L489.2,419.1 L489.2,418.1 L489.9,416.9 L490.5,415.6 L490.0,414.4 L489.4,413.3 L488.9,412.1 L488.7,412.3 L488.5,411.0 L488.7,409.6 L489.5,408.8 L487.8,408.4 L488.1,407.3 L488.3,405.9 L487.9,404.5 L487.4,404.0 L487.0,403.0 L486.9,401.6 L486.4,399.6 L486.3,399.7 L486.0,399.3 L485.0,398.2 L484.4,397.7 L482.9,397.1 L482.5,396.9 L482.5,395.4 L481.5,394.9 L480.6,394.2 L478.9,394.7 L478.1,394.0 L477.7,394.5 L477.0,395.5 L476.2,395.9 L475.3,396.4 L474.0,395.3 L473.5,394.2 L471.7,394.4 L470.9,394.0 L470.8,393.1 L470.1,392.3 L468.7,391.1 L467.8,391.5Z" fill="#4391c6"/><path d="M401.8,385.9 L402.1,387.0 L402.5,388.2 L402.0,389.8 L401.4,390.1 L401.3,391.3 L401.1,392.6 L400.0,393.9 L400.3,394.6 L399.9,395.3 L399.0,395.7 L399.0,397.1 L398.7,398.1 L397.9,398.2 L397.4,398.9 L396.1,400.3 L395.7,401.3 L395.6,401.5 L394.9,402.5 L394.5,403.9 L393.4,404.4 L392.7,404.6 L392.8,405.7 L391.1,405.8 L390.1,406.0 L389.7,406.8 L388.2,406.8 L388.0,408.0 L388.0,408.9 L387.6,409.9 L386.8,410.9 L386.6,411.7 L387.2,412.7 L387.1,413.3 L387.5,414.3 L388.6,416.0 L389.0,417.3 L390.3,417.8 L390.9,417.8 L391.6,417.8 L392.5,418.7 L393.0,420.2 L393.8,420.1 L395.2,420.8 L395.3,422.0 L396.7,421.9 L398.2,421.8 L399.0,422.7 L399.6,423.1 L400.2,424.1 L400.8,425.0 L401.1,424.7 L401.7,424.1 L403.8,424.0 L404.1,423.5 L404.5,422.7 L406.3,423.5 L406.8,422.7 L407.5,422.0 L407.9,421.3 L409.2,421.1 L410.6,421.1 L411.7,420.5 L412.7,420.8 L413.8,419.9 L414.0,419.0 L414.4,418.2 L415.6,417.1 L416.0,415.9 L416.5,415.2 L416.8,414.4 L417.0,413.7 L417.8,413.1 L418.7,412.2 L418.6,412.0 L419.5,411.4 L420.3,411.0 L421.3,410.3 L422.0,409.9 L422.0,409.5 L422.6,408.7 L423.5,408.3 L424.9,408.0 L426.0,407.3 L426.6,407.0 L426.8,406.4 L427.4,405.5 L427.5,404.5 L427.6,403.4 L427.0,401.8 L427.0,400.6 L427.2,399.6 L426.3,399.7 L426.3,398.8 L426.6,397.6 L425.9,397.3 L425.6,396.4 L425.5,395.0 L425.2,393.9 L424.9,392.8 L424.7,391.6 L424.8,390.7 L424.7,389.7 L423.6,389.3 L422.6,389.5 L421.9,388.6 L421.0,388.5 L420.0,388.8 L419.3,389.4 L418.4,389.7 L417.7,391.0 L416.8,391.1 L415.6,391.0 L414.7,391.4 L413.3,391.0 L412.3,390.4 L411.3,388.6 L410.9,388.5 L410.9,388.8 L409.5,388.6 L408.5,388.0 L408.1,387.5 L406.7,386.2 L405.4,385.6 L404.1,385.7 L403.7,385.8 L403.4,385.9Z" fill="#5ea5d0"/><path d="M381.7,421.6 L382.7,422.8 L382.4,424.0 L382.4,424.9 L383.1,425.5 L382.9,426.5 L381.8,426.9 L380.8,428.1 L379.9,429.0 L379.4,429.4 L378.5,430.4 L378.1,430.4 L377.9,430.9 L378.5,432.0 L377.3,433.4 L377.4,434.1 L378.0,434.6 L378.5,435.8 L379.3,436.3 L379.3,438.5 L380.6,439.4 L381.6,440.1 L381.1,440.2 L381.3,441.4 L381.8,443.2 L382.7,443.5 L382.8,444.3 L383.1,445.8 L383.7,446.3 L384.2,446.8 L385.2,447.0 L386.2,447.3 L387.7,447.1 L389.6,445.9 L390.0,446.1 L390.4,445.8 L391.8,445.6 L392.9,444.9 L393.9,444.4 L395.2,444.1 L396.6,444.3 L397.0,444.1 L398.1,443.4 L399.2,442.7 L400.1,442.1 L401.7,441.7 L402.7,441.6 L402.5,442.0 L403.8,442.0 L404.9,441.8 L405.9,440.9 L405.9,440.0 L406.1,439.7 L406.8,439.3 L407.6,438.3 L407.8,437.5 L407.6,437.1 L408.9,436.6 L410.8,435.2 L411.7,434.5 L411.8,434.1 L412.7,433.5 L413.6,433.3 L414.8,433.2 L415.5,432.7 L416.7,431.7 L417.3,430.9 L418.6,430.6 L419.2,429.9 L420.2,429.9 L421.3,429.3 L422.3,428.8 L422.4,428.0 L422.2,426.5 L421.2,426.2 L419.9,426.0 L419.5,425.3 L420.1,424.5 L419.5,423.4 L419.4,422.6 L418.9,422.3 L418.4,420.8 L418.1,419.9 L417.8,419.5 L417.5,418.3 L417.1,416.8 L417.0,416.0 L416.5,415.2 L416.0,415.9 L415.6,417.1 L414.4,418.2 L414.0,419.0 L413.8,419.9 L412.7,420.8 L411.7,420.5 L410.6,421.1 L409.2,421.1 L407.9,421.3 L407.5,422.0 L406.8,422.7 L406.3,423.5 L404.5,422.7 L404.1,423.5 L403.8,424.0 L401.7,424.1 L401.1,424.7 L400.8,425.0 L400.2,424.1 L399.6,423.1 L399.0,422.7 L398.2,421.8 L396.7,421.9 L395.3,422.0 L395.2,420.8 L393.8,420.1 L393.0,420.2 L392.5,418.7 L391.6,417.8 L390.9,417.8 L390.3,417.8 L389.0,417.3 L387.8,417.0 L387.1,417.4 L385.8,418.4 L385.4,418.4 L384.5,418.7 L384.0,420.0 L383.4,420.8 L382.1,420.8Z" fill="#cde0f1"/><path d="M406.1,441.6 L406.9,442.9 L406.9,443.8 L407.0,444.6 L406.7,444.7 L407.2,445.3 L407.9,446.6 L408.7,446.9 L409.2,447.8 L409.3,449.3 L410.3,449.8 L411.0,450.7 L411.8,451.7 L412.2,452.9 L412.4,453.7 L413.1,454.1 L414.2,454.0 L414.8,454.5 L415.9,455.5 L416.2,456.8 L416.2,456.7 L417.2,457.6 L418.0,458.6 L418.5,459.6 L419.3,460.3 L419.6,460.9 L420.9,461.9 L421.4,462.7 L421.6,463.1 L422.7,463.9 L423.5,464.3 L424.0,464.8 L424.9,464.7 L425.9,464.5 L427.1,464.2 L428.9,465.6 L430.1,465.6 L430.5,465.4 L430.7,465.1 L432.1,465.7 L433.4,465.0 L434.7,464.8 L436.0,464.5 L437.0,463.6 L438.0,464.3 L439.0,465.3 L439.1,465.2 L439.9,464.9 L440.6,463.9 L441.2,463.6 L442.4,462.3 L442.1,461.0 L441.5,460.3 L440.6,459.1 L440.7,458.6 L440.7,457.3 L441.6,455.8 L442.2,455.5 L442.3,454.5 L442.9,452.8 L444.0,453.2 L445.1,454.0 L446.0,454.7 L446.2,455.1 L447.3,454.7 L447.9,454.2 L448.8,453.9 L449.6,453.7 L450.3,453.6 L451.4,453.1 L452.2,452.4 L452.9,451.8 L453.4,450.9 L453.7,449.7 L452.7,449.7 L451.8,449.6 L450.5,449.5 L448.7,449.2 L447.7,449.4 L447.1,448.8 L445.9,448.4 L445.2,447.4 L444.5,446.9 L444.1,446.7 L442.9,446.1 L441.7,445.3 L441.5,444.4 L441.3,443.8 L440.4,443.1 L439.3,441.9 L439.0,441.6 L438.4,440.6 L438.3,440.1 L438.1,438.7 L437.8,437.6 L437.5,436.7 L437.7,435.4 L437.2,434.5 L435.9,433.9 L435.9,433.1 L435.5,432.9 L434.3,431.9 L434.4,431.9 L433.4,430.4 L431.9,429.6 L430.8,429.1 L430.4,428.9 L430.1,429.0 L428.4,428.5 L427.8,427.7 L426.6,427.3 L425.8,427.9 L425.1,428.1 L423.9,428.2 L422.3,428.0 L422.3,428.7 L421.1,429.3 L420.1,429.9 L419.0,429.8 L418.3,430.6 L417.2,430.9 L416.5,431.8 L415.4,432.8 L414.6,433.2 L413.5,433.3 L412.6,433.7 L411.9,434.2 L411.7,434.6 L410.7,435.3 L408.8,436.7 L407.5,437.1 L407.7,437.5 L407.6,438.2 L406.8,439.2 L406.1,439.6 L405.9,440.1Z" fill="#9cc8e2"/><path d="M384.3,446.8 L384.5,447.1 L385.4,448.2 L387.1,449.2 L387.6,450.2 L387.9,450.7 L388.4,451.4 L389.1,452.8 L388.9,453.9 L389.9,454.0 L390.2,454.5 L391.3,455.8 L392.1,456.0 L391.2,457.4 L390.9,458.5 L390.0,458.7 L388.9,459.9 L388.6,460.7 L388.5,461.0 L387.8,461.5 L386.8,462.3 L386.0,462.7 L385.6,462.8 L384.7,463.3 L383.2,463.3 L382.6,464.0 L381.5,464.4 L380.4,464.0 L379.4,464.3 L378.6,464.7 L378.7,465.8 L378.2,466.6 L377.1,467.1 L375.8,468.2 L375.6,468.2 L375.0,468.1 L374.1,468.5 L372.8,469.4 L371.9,469.6 L371.8,470.5 L371.2,471.1 L370.8,471.6 L369.4,472.3 L368.8,473.7 L368.1,474.2 L367.6,476.0 L366.8,476.4 L366.6,477.6 L367.1,479.0 L367.7,479.4 L367.5,480.5 L368.5,481.5 L368.9,482.0 L370.1,483.1 L369.9,483.7 L370.5,484.8 L370.5,485.0 L371.0,485.8 L370.6,487.3 L369.7,487.9 L369.2,488.4 L368.4,489.8 L367.8,490.3 L367.3,490.6 L366.8,491.2 L365.6,491.8 L365.7,493.1 L366.2,494.1 L366.9,494.9 L366.3,496.7 L366.5,498.0 L366.7,499.2 L367.6,499.1 L368.4,498.7 L369.5,499.0 L370.5,499.1 L371.8,499.1 L371.8,498.8 L371.9,497.8 L372.1,497.5 L372.6,496.5 L373.2,495.6 L372.9,494.3 L373.3,493.1 L374.1,493.2 L374.8,493.6 L377.0,492.9 L377.5,492.0 L378.4,491.7 L378.6,491.8 L379.8,491.1 L379.9,491.0 L380.5,491.0 L380.1,490.9 L380.0,490.5 L380.7,489.2 L381.0,488.3 L381.3,487.3 L381.6,486.0 L381.3,484.0 L381.6,483.3 L383.0,482.9 L383.7,482.0 L383.3,481.3 L384.4,481.2 L385.7,480.6 L386.1,479.7 L387.4,479.0 L388.1,477.7 L388.4,477.2 L389.6,476.5 L389.8,476.4 L389.8,475.8 L391.3,475.5 L392.7,475.4 L393.7,474.1 L394.3,473.9 L395.0,474.1 L395.6,472.7 L395.8,471.8 L397.1,471.0 L398.3,470.9 L398.7,471.3 L399.0,472.6 L399.1,474.0 L399.8,474.1 L399.7,474.2 L401.3,473.3 L402.3,472.4 L402.5,472.3 L403.6,472.8 L405.0,473.3 L406.0,473.5 L406.8,473.4 L407.0,472.0 L407.8,471.7 L409.2,471.9 L409.7,471.2 L409.8,469.8 L411.1,469.2 L411.7,468.7 L412.7,467.9 L413.1,467.6 L413.7,466.2 L413.8,465.3 L414.7,465.4 L415.8,465.6 L416.5,465.7 L418.0,464.9 L419.5,464.0 L420.1,463.6 L420.9,463.6 L421.6,463.1 L421.4,462.7 L420.9,461.9 L419.6,460.9 L419.3,460.3 L418.5,459.6 L418.0,458.6 L417.2,457.6 L416.2,456.7 L416.2,456.8 L415.9,455.5 L414.8,454.5 L414.2,454.0 L413.1,454.1 L412.4,453.7 L412.2,452.9 L411.8,451.7 L411.0,450.7 L410.3,449.8 L409.3,449.3 L409.2,447.8 L408.7,446.9 L407.9,446.6 L407.2,445.3 L406.7,444.7 L407.0,444.6 L406.9,443.7 L406.8,442.6 L405.8,441.0 L404.8,441.9 L403.7,442.0 L402.5,442.0 L402.7,441.6 L401.9,441.6 L400.1,442.1 L399.2,442.7 L398.2,443.4 L397.0,444.1 L396.6,444.3 L395.3,444.1 L393.9,444.3 L392.9,444.9 L391.8,445.5 L390.4,445.8 L390.0,446.0 L389.6,445.9 L387.7,447.0 L386.2,447.2 L385.2,447.0Z" fill="#7cb7d9"/><path d="M382.3,493.2 L383.3,494.0 L384.1,494.7 L384.9,495.1 L386.2,495.0 L386.9,495.5 L387.1,495.5 L388.0,496.0 L389.3,496.5 L390.9,498.0 L391.2,498.4 L392.1,498.7 L393.0,499.1 L395.4,498.2 L395.8,498.8 L396.3,499.2 L396.7,499.8 L397.8,500.1 L398.5,500.2 L399.3,501.2 L399.8,502.4 L400.8,502.2 L401.8,502.2 L402.5,503.0 L403.5,503.6 L404.3,503.6 L405.0,503.4 L406.0,502.9 L407.9,502.1 L408.5,502.0 L409.2,502.7 L409.5,504.1 L410.2,504.5 L411.5,504.8 L412.0,505.0 L411.6,506.0 L412.3,505.1 L412.9,504.5 L413.8,504.7 L414.7,504.9 L415.9,505.3 L416.8,505.1 L416.8,503.5 L417.7,503.8 L418.7,503.7 L420.2,502.4 L420.8,502.1 L421.3,502.3 L422.7,501.1 L424.0,501.5 L425.1,501.5 L425.9,500.8 L424.6,500.3 L423.7,499.7 L423.1,499.1 L422.4,498.9 L421.0,497.8 L420.7,497.4 L420.1,496.9 L419.7,495.1 L419.1,494.4 L417.7,493.8 L418.4,493.4 L419.1,492.7 L418.9,490.8 L419.2,490.8 L419.2,489.9 L418.8,488.9 L419.6,487.4 L420.0,486.2 L419.8,485.3 L418.9,484.3 L419.0,483.7 L419.2,482.6 L418.9,481.6 L417.7,480.6 L417.6,479.1 L416.6,477.8 L416.8,477.0 L416.1,476.6 L414.8,476.4 L415.0,475.3 L414.4,474.6 L413.9,473.6 L413.3,472.8 L412.9,471.3 L412.1,470.5 L412.1,469.9 L411.1,469.2 L409.8,469.8 L409.7,471.2 L409.2,471.9 L407.8,471.7 L407.0,472.0 L406.8,473.4 L406.0,473.5 L405.0,473.3 L403.6,472.8 L402.5,472.3 L402.3,472.4 L401.3,473.3 L399.7,474.2 L399.8,474.1 L399.1,474.0 L399.0,472.6 L398.7,471.3 L398.3,470.9 L397.1,471.0 L395.8,471.8 L395.6,472.7 L395.0,474.1 L394.3,473.9 L393.7,474.1 L392.7,475.4 L391.3,475.5 L389.8,475.8 L389.8,476.4 L389.6,476.5 L388.4,477.2 L388.1,477.7 L387.4,479.0 L386.1,479.7 L385.7,480.6 L384.4,481.2 L383.3,481.3 L383.7,482.0 L383.0,482.9 L381.6,483.3 L381.3,484.0 L381.6,486.0 L381.3,487.3 L381.0,488.3 L380.6,489.3 L380.0,490.6 L380.4,491.0 L381.1,491.5 L381.2,491.9Z" fill="#1966ac"/><path d="M411.1,469.2 L412.1,469.9 L412.1,470.5 L412.9,471.3 L413.3,472.8 L413.9,473.6 L414.4,474.6 L415.0,475.3 L414.8,476.4 L416.1,476.6 L416.8,477.0 L416.6,477.8 L417.6,479.1 L417.7,480.6 L418.9,481.6 L419.2,482.6 L419.0,483.7 L418.9,484.3 L419.8,485.3 L420.0,486.2 L419.6,487.4 L418.8,488.9 L419.2,489.9 L419.2,490.8 L418.9,490.8 L419.1,492.7 L418.4,493.4 L417.7,493.8 L419.1,494.4 L419.7,495.1 L420.1,496.9 L420.7,497.4 L421.0,497.8 L422.4,498.9 L423.1,499.1 L423.7,499.7 L424.6,500.3 L425.9,500.8 L426.7,500.6 L427.4,500.1 L427.9,498.8 L428.9,498.9 L429.6,498.4 L430.9,497.5 L431.9,497.6 L432.8,497.7 L433.9,497.2 L435.5,496.3 L436.1,496.3 L437.1,496.2 L438.8,496.6 L438.9,496.2 L439.6,495.3 L441.2,494.0 L442.3,493.8 L443.4,493.9 L444.5,494.5 L444.7,493.7 L445.1,493.1 L446.1,493.0 L446.9,492.5 L448.1,492.0 L448.3,492.2 L448.3,492.2 L449.2,491.5 L450.0,491.1 L451.3,490.3 L452.5,489.7 L452.8,489.9 L454.3,490.8 L455.3,491.8 L456.2,491.6 L457.3,492.2 L457.7,493.7 L458.2,491.6 L457.9,490.4 L457.3,490.1 L456.9,488.4 L457.3,487.5 L457.4,486.5 L457.0,485.3 L457.9,485.0 L458.3,483.5 L458.4,482.6 L459.0,482.2 L458.6,480.7 L459.1,479.5 L459.8,478.4 L460.4,477.3 L461.0,476.6 L461.9,476.1 L462.3,475.3 L462.2,474.3 L463.1,473.6 L462.5,473.8 L461.3,473.7 L460.2,473.3 L459.7,472.9 L458.3,472.7 L457.2,472.0 L455.9,471.4 L455.6,471.3 L454.6,470.7 L454.1,469.9 L452.9,469.9 L451.5,469.5 L450.3,469.1 L450.0,469.8 L449.3,469.9 L448.4,469.3 L447.2,469.6 L446.1,470.0 L445.5,469.9 L444.7,469.1 L443.3,468.7 L442.5,468.4 L441.8,467.6 L441.2,467.1 L441.5,465.6 L440.7,465.1 L439.9,464.9 L439.1,465.2 L439.0,465.3 L438.0,464.3 L437.0,463.6 L436.0,464.5 L434.7,464.8 L433.4,465.0 L432.1,465.7 L430.7,465.1 L430.5,465.4 L430.1,465.6 L428.9,465.6 L427.1,464.2 L425.9,464.5 L424.9,464.7 L424.0,464.8 L423.5,464.3 L422.7,463.9 L421.6,463.1 L420.9,463.6 L420.1,463.6 L419.5,464.0 L418.0,464.9 L416.5,465.7 L415.8,465.6 L414.7,465.4 L413.8,465.3 L413.7,466.2 L413.1,467.6 L412.7,467.9 L411.7,468.7Z" fill="#cde0f1"/><path d="M425.9,500.8 L425.1,501.5 L424.0,501.5 L422.7,501.1 L421.3,502.3 L420.8,502.1 L420.2,502.4 L418.7,503.7 L417.7,503.8 L416.8,503.5 L416.8,505.1 L415.9,505.3 L414.6,504.9 L413.7,504.6 L412.8,504.5 L412.1,505.4 L411.3,506.2 L411.0,507.0 L411.6,507.3 L412.7,507.7 L413.4,507.7 L414.3,507.8 L415.7,508.9 L416.6,509.2 L416.8,508.7 L417.8,508.8 L418.7,509.0 L419.4,510.2 L420.8,511.7 L420.7,512.1 L421.3,511.6 L422.3,512.0 L423.5,512.1 L424.9,511.6 L425.7,511.2 L426.5,511.4 L427.2,511.7 L428.1,512.1 L428.8,512.6 L429.4,512.5 L430.5,512.8 L431.7,512.7 L432.3,514.1 L433.8,514.0 L434.7,513.6 L435.3,513.2 L436.6,514.2 L437.1,515.0 L437.4,515.7 L438.2,516.1 L438.8,516.2 L440.0,516.4 L441.5,516.8 L442.2,516.7 L443.0,517.1 L443.6,517.4 L444.3,517.2 L444.9,516.1 L445.7,515.7 L446.8,515.8 L448.0,515.1 L448.6,515.2 L449.7,514.7 L451.3,513.8 L451.7,513.6 L452.3,512.7 L452.6,512.9 L454.2,513.1 L455.8,513.1 L456.4,511.8 L457.3,511.7 L458.4,512.4 L459.4,512.0 L460.1,512.3 L460.4,513.3 L461.7,512.9 L462.0,511.7 L462.0,511.1 L462.2,510.5 L461.7,510.2 L461.2,508.2 L461.0,507.0 L461.0,506.5 L460.5,506.3 L460.1,505.5 L459.4,504.1 L458.4,503.2 L458.2,501.8 L458.3,500.6 L457.8,499.5 L458.5,499.1 L458.2,497.9 L457.4,496.2 L458.3,496.3 L458.3,495.3 L458.1,494.1 L457.7,493.7 L457.3,492.2 L456.2,491.6 L455.3,491.8 L454.3,490.8 L452.8,489.9 L452.5,489.7 L451.3,490.3 L450.0,491.1 L449.2,491.5 L448.3,492.2 L448.3,492.2 L448.1,492.0 L446.9,492.5 L446.1,493.0 L445.1,493.1 L444.7,493.7 L444.5,494.5 L443.4,493.9 L442.3,493.8 L441.2,494.0 L439.6,495.3 L438.9,496.2 L438.8,496.6 L437.1,496.2 L436.1,496.3 L435.5,496.3 L433.9,497.2 L432.8,497.7 L431.9,497.6 L430.9,497.5 L429.6,498.4 L428.9,498.9 L427.9,498.8 L427.4,500.1 L426.7,500.6Z" fill="#deebf7"/><path d="M347.3,496.0 L347.3,496.9 L348.2,496.6 L349.0,497.2 L349.9,497.5 L350.5,497.5 L351.2,497.6 L352.3,497.2 L353.1,497.1 L353.7,497.9 L355.3,497.6 L356.7,497.8 L357.3,499.1 L358.2,498.9 L359.0,498.2 L360.2,498.3 L361.0,498.4 L361.4,498.5 L362.9,498.7 L363.2,498.3 L363.9,498.4 L365.9,499.0 L366.7,499.2 L366.5,498.0 L366.3,496.7 L366.9,494.9 L366.2,494.1 L365.7,493.1 L365.6,491.8 L366.8,491.2 L367.3,490.6 L367.8,490.3 L368.4,489.8 L369.2,488.4 L369.7,487.9 L370.6,487.3 L371.0,485.8 L370.5,485.0 L370.5,484.8 L369.9,483.7 L370.1,483.1 L368.9,482.0 L368.5,481.5 L367.5,480.5 L367.7,479.4 L367.1,479.0 L366.6,477.6 L366.8,476.5 L367.3,476.0 L367.9,475.0 L368.3,473.9 L368.8,473.3 L369.6,472.1 L370.9,471.5 L371.2,471.1 L371.8,470.5 L371.8,469.7 L371.9,469.6 L371.8,469.8 L370.0,469.0 L368.4,468.7 L367.4,468.8 L366.4,469.0 L366.0,468.4 L365.0,468.2 L363.8,468.0 L362.9,468.5 L362.0,467.5 L361.0,467.3 L360.0,467.6 L359.0,467.2 L358.0,466.3 L356.5,466.4 L354.8,466.9 L354.5,465.5 L353.2,464.6 L352.2,464.6 L351.9,463.9 L351.9,463.0 L351.1,461.9 L351.9,461.3 L351.3,460.5 L350.5,459.2 L349.5,458.6 L349.0,457.7 L348.4,457.2 L348.6,458.0 L348.2,459.7 L349.2,460.1 L349.9,460.8 L349.0,461.6 L349.4,462.2 L349.9,463.1 L350.2,464.6 L350.3,465.4 L350.7,466.6 L351.0,467.6 L351.2,468.8 L350.1,469.3 L349.0,470.1 L349.1,472.0 L349.2,472.8 L348.9,473.3 L348.3,474.1 L347.8,475.0 L347.1,476.2 L346.8,476.4 L346.6,477.2 L346.9,478.7 L346.1,479.6 L344.8,479.8 L344.2,480.9 L343.6,481.8 L343.5,482.6 L343.3,483.5 L341.9,483.7 L341.0,484.3 L340.5,485.8 L339.8,486.5 L339.5,487.1 L339.2,488.7 L339.2,489.6 L339.2,490.5 L339.0,490.9 L340.1,491.5 L341.0,493.3 L341.3,493.6 L340.9,494.2 L342.0,495.2 L343.2,495.2 L343.4,495.9 L344.3,496.2 L346.6,495.1Z" fill="#4391c6"/><path d="M422.4,428.0 L423.9,428.2 L425.1,428.1 L425.8,427.9 L426.6,427.3 L427.8,427.7 L428.4,428.5 L430.1,429.0 L430.4,428.9 L430.8,429.1 L431.9,429.6 L433.4,430.4 L434.4,431.9 L434.3,431.9 L435.5,432.9 L435.9,433.1 L435.9,433.9 L437.2,434.5 L437.7,435.4 L437.5,436.7 L437.8,437.6 L438.1,438.7 L438.3,440.1 L438.4,440.6 L439.0,441.6 L439.3,441.9 L440.4,443.1 L441.3,443.8 L441.5,444.4 L441.7,445.3 L442.9,446.1 L444.1,446.7 L444.5,446.9 L445.2,447.4 L445.9,448.4 L447.1,448.8 L447.7,449.4 L448.7,449.2 L450.5,449.5 L451.8,449.6 L452.7,449.7 L453.7,449.7 L454.3,449.5 L454.6,449.4 L455.5,448.8 L456.7,448.0 L457.9,447.6 L458.6,447.0 L459.7,446.9 L460.1,447.4 L461.4,446.4 L462.5,445.7 L462.5,445.8 L463.2,445.4 L464.1,445.0 L465.3,443.5 L466.5,443.3 L468.1,443.2 L468.7,442.4 L468.9,442.0 L469.1,441.7 L470.1,440.7 L470.8,439.4 L471.3,438.9 L470.8,438.1 L471.1,437.5 L470.7,437.0 L470.4,436.0 L470.1,435.1 L470.1,433.9 L470.1,433.3 L470.2,432.8 L471.4,431.3 L471.7,430.6 L471.2,429.9 L470.0,429.0 L469.0,427.8 L468.8,427.1 L468.6,426.7 L468.3,427.0 L467.1,426.1 L466.2,425.4 L464.5,424.5 L463.7,424.4 L464.0,423.1 L463.6,421.9 L462.3,421.6 L461.9,421.2 L461.8,420.1 L461.5,418.1 L460.7,417.5 L460.2,416.8 L460.2,415.7 L460.2,415.1 L460.1,413.4 L459.5,412.2 L458.5,412.2 L458.9,410.1 L458.2,409.3 L457.4,408.8 L457.8,406.9 L457.4,406.1 L456.7,405.1 L456.7,403.8 L456.9,403.2 L456.0,402.2 L455.4,402.1 L454.2,401.1 L454.4,400.0 L453.9,398.8 L454.1,397.4 L452.9,397.2 L452.5,396.8 L452.0,395.3 L451.0,394.2 L450.3,393.5 L449.9,393.3 L449.1,392.8 L448.6,392.2 L447.6,391.7 L446.8,391.3 L446.3,391.4 L445.9,392.6 L444.8,393.6 L443.9,393.7 L443.7,394.4 L443.1,396.2 L442.6,397.1 L441.7,397.5 L440.8,399.1 L440.4,399.9 L440.6,400.3 L440.2,401.3 L439.2,402.0 L438.5,402.3 L437.4,402.9 L436.2,403.9 L435.7,404.2 L434.7,404.5 L433.7,404.9 L433.6,404.2 L432.9,403.9 L431.5,404.6 L430.2,404.4 L429.0,403.3 L428.9,403.0 L428.4,402.7 L427.0,401.8 L427.6,403.4 L427.5,404.5 L427.4,405.5 L426.8,406.4 L426.6,407.0 L426.0,407.3 L424.9,408.0 L423.5,408.3 L422.6,408.7 L422.0,409.5 L422.0,409.9 L421.3,410.3 L420.3,411.0 L419.5,411.4 L418.6,412.0 L418.7,412.2 L417.8,413.1 L417.0,413.7 L416.8,414.4 L416.5,415.2 L417.0,416.0 L417.1,416.8 L417.5,418.3 L417.8,419.5 L418.1,419.9 L418.4,420.8 L418.9,422.3 L419.4,422.6 L419.5,423.4 L420.1,424.5 L419.5,425.3 L419.9,426.0 L421.2,426.2 L422.2,426.5Z" fill="#b8d5ea"/><path d="M471.7,430.6 L471.4,431.3 L470.2,432.8 L470.1,433.3 L470.1,433.9 L470.1,435.1 L470.4,436.1 L470.8,437.1 L471.0,437.6 L470.9,438.3 L471.5,439.2 L472.0,439.6 L473.1,440.4 L473.7,441.0 L474.5,441.7 L475.3,442.0 L476.1,441.9 L476.9,441.5 L478.0,440.7 L479.4,440.5 L480.9,439.4 L481.0,439.2 L481.4,439.3 L482.7,439.1 L483.6,438.5 L483.7,439.0 L484.4,439.2 L485.3,439.7 L485.8,440.5 L486.6,440.6 L487.6,441.1 L488.8,441.9 L489.7,441.8 L490.9,442.5 L491.0,443.2 L491.0,443.8 L492.0,444.1 L493.4,444.6 L493.5,446.0 L493.9,446.9 L494.9,447.1 L495.3,448.1 L494.7,449.9 L494.9,450.7 L495.4,451.5 L496.2,452.0 L496.5,452.9 L496.0,453.9 L495.4,455.2 L495.2,456.0 L495.1,456.6 L495.5,457.6 L495.9,458.4 L495.6,458.6 L496.2,459.6 L496.9,460.4 L497.1,461.1 L498.1,460.8 L499.2,460.6 L500.4,460.2 L501.0,460.4 L501.9,459.8 L502.2,458.6 L502.4,457.6 L503.1,457.0 L503.1,456.6 L503.5,455.3 L504.5,454.4 L505.4,453.7 L505.7,453.2 L506.2,452.7 L506.8,451.8 L506.8,450.9 L507.6,450.1 L508.7,449.0 L509.5,448.9 L510.0,448.7 L511.5,447.5 L512.1,447.1 L512.6,447.5 L513.1,446.2 L513.5,445.2 L513.1,444.6 L513.9,442.5 L514.1,441.5 L513.7,441.3 L514.7,440.7 L515.8,440.3 L515.8,439.8 L516.4,438.5 L517.5,437.5 L518.4,437.3 L518.0,436.2 L518.0,435.2 L518.5,434.1 L517.9,433.0 L517.0,432.8 L516.5,432.3 L516.1,431.2 L516.1,430.0 L515.4,428.6 L514.9,427.6 L514.4,427.5 L514.0,426.4 L513.5,425.2 L512.8,424.4 L513.1,423.3 L513.4,422.4 L511.8,421.5 L510.6,421.7 L510.2,421.1 L509.5,420.8 L508.0,420.9 L507.0,420.1 L506.0,419.8 L505.8,420.9 L505.1,421.4 L504.1,422.0 L502.9,421.5 L502.3,420.6 L502.1,420.4 L500.7,420.1 L499.1,420.6 L498.4,421.0 L497.6,421.1 L497.2,421.8 L496.7,422.3 L495.8,421.5 L495.0,421.2 L494.3,421.6 L493.3,420.4 L492.4,419.3 L491.8,419.3 L490.7,419.2 L490.8,417.8 L489.9,416.8 L489.3,417.8 L488.9,418.9 L489.6,419.3 L489.3,420.3 L489.1,421.6 L488.5,423.0 L488.0,423.8 L487.9,424.5 L487.4,425.1 L486.9,425.9 L487.1,426.7 L486.7,427.7 L486.0,428.3 L484.9,428.8 L484.0,428.4 L483.2,428.0 L482.3,428.6 L481.2,429.2 L480.2,428.9 L479.0,429.9 L478.1,430.4 L477.8,429.5 L476.5,429.1 L475.3,429.3 L474.8,428.4 L474.0,427.5 L473.2,427.3 L471.6,427.7 L470.7,427.3 L469.6,426.9 L468.6,426.7 L468.8,427.1 L469.0,427.9 L470.0,429.0 L471.2,429.9Z" fill="#5ea5d0"/><path d="M468.1,443.2 L466.5,443.3 L465.3,443.5 L464.1,445.0 L463.2,445.4 L462.5,445.8 L462.5,445.7 L461.4,446.4 L460.1,447.4 L459.7,446.9 L458.6,447.0 L457.9,447.6 L456.7,448.0 L455.5,448.8 L454.6,449.4 L454.3,449.5 L453.7,449.7 L453.4,450.9 L452.9,451.8 L452.2,452.4 L451.4,453.1 L450.3,453.6 L449.6,453.7 L448.8,453.9 L447.9,454.2 L447.3,454.7 L446.2,455.1 L446.0,454.7 L445.1,454.0 L444.0,453.2 L442.9,452.8 L442.3,454.5 L442.2,455.5 L441.6,455.8 L440.7,457.3 L440.7,458.6 L440.6,459.1 L441.5,460.3 L442.1,461.0 L442.4,462.3 L441.2,463.6 L440.6,463.9 L439.9,464.9 L440.7,465.1 L441.5,465.6 L441.2,467.1 L441.8,467.6 L442.5,468.4 L443.3,468.7 L444.7,469.1 L445.5,469.9 L446.1,470.0 L447.2,469.6 L448.4,469.3 L449.3,469.9 L450.0,469.8 L450.3,469.1 L451.5,469.5 L452.9,469.9 L454.1,469.9 L454.6,470.7 L455.6,471.3 L455.9,471.4 L457.2,472.0 L458.3,472.7 L459.7,472.9 L460.2,473.3 L461.3,473.7 L462.5,473.8 L463.1,473.6 L464.0,473.9 L464.8,474.5 L466.2,474.7 L467.1,474.6 L468.2,473.6 L468.5,473.5 L469.4,473.1 L470.8,472.5 L471.5,472.5 L472.0,471.5 L472.9,470.0 L474.4,469.7 L475.2,469.4 L476.6,469.3 L477.6,468.1 L478.2,467.6 L478.4,466.6 L480.2,466.9 L481.1,466.2 L481.3,465.7 L483.0,465.2 L483.9,464.2 L484.3,463.5 L486.1,462.7 L486.8,462.8 L487.1,461.7 L488.9,461.6 L489.6,461.2 L490.0,461.1 L490.3,461.2 L491.2,460.5 L492.8,459.8 L493.2,459.8 L494.1,460.1 L495.4,461.3 L496.2,461.1 L497.1,461.1 L496.9,460.4 L496.2,459.6 L495.6,458.6 L495.9,458.4 L495.5,457.6 L495.1,456.6 L495.2,456.0 L495.4,455.2 L496.0,453.9 L496.5,452.9 L496.2,452.0 L495.4,451.5 L494.9,450.7 L494.7,449.9 L495.3,448.1 L494.9,447.1 L493.9,446.9 L493.5,446.0 L493.4,444.6 L492.0,444.1 L491.0,443.8 L491.0,443.2 L490.9,442.5 L489.7,441.8 L488.8,441.9 L487.6,441.1 L486.6,440.6 L485.8,440.5 L485.3,439.7 L484.4,439.2 L483.7,439.0 L483.6,438.5 L482.7,439.1 L481.4,439.3 L481.0,439.2 L480.9,439.4 L479.4,440.5 L478.0,440.7 L476.9,441.5 L476.1,441.9 L475.3,442.0 L474.6,441.7 L473.8,441.1 L473.3,440.4 L472.5,439.9 L471.2,439.0 L470.7,439.5 L470.0,440.8 L469.1,441.7 L468.9,442.0 L468.7,442.4Z" fill="#deebf7"/><path d="M503.4,462.4 L504.1,463.0 L504.9,462.8 L505.8,463.0 L506.8,463.3 L507.2,462.8 L508.3,463.9 L509.0,464.7 L510.2,465.8 L510.2,466.3 L511.5,466.6 L512.3,466.6 L513.7,466.4 L514.6,466.1 L514.2,465.8 L515.2,465.3 L516.4,465.5 L518.3,466.8 L519.7,467.0 L520.9,466.5 L521.8,466.0 L522.2,466.1 L523.0,466.0 L523.7,465.7 L524.9,465.8 L525.9,466.2 L526.4,466.9 L527.1,467.1 L527.9,467.2 L528.8,468.5 L529.9,468.6 L531.2,468.7 L532.2,468.3 L532.9,468.8 L534.0,469.4 L535.1,470.4 L535.7,470.7 L536.2,471.7 L536.9,471.8 L537.8,472.1 L538.9,473.1 L539.7,473.2 L540.9,473.0 L542.2,472.8 L543.1,473.9 L544.9,473.4 L545.8,473.6 L546.4,474.2 L547.0,473.3 L548.1,474.0 L549.6,474.1 L551.1,473.5 L550.9,473.3 L550.6,472.5 L550.6,471.3 L551.0,470.8 L551.8,469.3 L551.8,468.5 L551.7,467.7 L552.3,466.7 L552.2,464.7 L551.5,463.5 L550.9,462.5 L551.4,461.8 L551.4,461.4 L551.4,459.9 L551.5,458.7 L551.5,458.1 L550.5,457.2 L550.4,455.4 L550.5,454.2 L550.2,454.4 L550.6,453.0 L551.0,451.4 L551.5,451.5 L551.8,450.5 L550.9,450.3 L550.0,450.2 L548.2,451.3 L547.4,450.5 L546.7,450.8 L546.1,451.1 L545.0,450.6 L543.8,451.2 L542.3,451.0 L541.0,450.6 L540.3,450.3 L539.9,449.3 L539.3,448.6 L538.0,448.5 L536.6,448.4 L536.0,448.3 L535.6,448.5 L533.7,447.7 L532.5,447.2 L531.5,446.6 L530.2,446.9 L529.9,446.4 L529.6,445.9 L528.6,445.5 L527.7,445.3 L526.7,445.7 L525.3,444.4 L524.8,443.7 L524.1,443.3 L523.1,442.9 L522.1,442.1 L521.2,441.7 L520.3,440.7 L520.0,440.4 L518.9,440.6 L518.3,440.3 L517.5,440.4 L516.2,440.6 L515.8,440.6 L514.9,440.8 L513.7,441.3 L514.1,441.5 L513.9,442.5 L513.1,444.6 L513.5,445.2 L513.1,446.2 L512.6,447.5 L512.1,447.1 L511.5,447.5 L510.0,448.7 L509.5,448.9 L508.7,449.0 L507.6,450.1 L506.8,450.9 L506.8,451.8 L506.2,452.7 L505.7,453.2 L505.4,453.7 L504.5,454.4 L503.5,455.3 L503.1,456.6 L503.1,457.0 L502.4,457.6 L502.2,458.6 L501.9,459.8 L501.0,460.4 L500.4,460.2 L500.8,461.9 L501.3,462.3 L501.9,461.7Z M535.0,463.2 L533.8,463.2 L533.1,463.6 L532.2,463.8 L530.6,463.9 L529.5,463.1 L528.8,462.6 L528.8,462.3 L528.3,461.2 L526.9,461.1 L526.2,460.1 L525.8,458.9 L526.2,458.6 L526.2,457.8 L527.4,458.6 L528.5,459.2 L528.8,459.4 L528.9,459.7 L529.7,459.8 L530.5,459.9 L531.4,460.9 L532.5,460.9 L533.4,460.6 L533.9,461.2 L534.7,461.8Z" fill="#deebf7"/><path d="M552.1,445.4 L551.6,444.3 L551.4,442.6 L551.1,441.4 L551.1,440.9 L550.8,439.7 L550.4,438.9 L550.0,438.5 L549.9,437.7 L549.1,436.5 L548.1,434.9 L548.9,434.9 L548.2,433.0 L547.4,431.5 L547.1,430.9 L547.1,430.5 L546.7,429.5 L545.9,430.1 L544.9,430.6 L544.4,431.3 L543.5,432.0 L542.5,431.4 L541.1,431.0 L540.3,429.3 L539.9,428.7 L540.0,428.1 L538.4,427.5 L537.2,426.6 L536.9,426.1 L536.6,425.8 L535.1,425.2 L534.2,424.3 L533.5,423.9 L532.7,422.7 L532.2,421.7 L530.5,421.1 L529.9,420.5 L529.5,420.4 L528.4,420.6 L527.2,421.3 L526.1,421.8 L525.1,422.1 L524.4,422.1 L523.5,422.5 L522.4,422.9 L520.7,422.8 L520.0,422.7 L519.1,422.3 L518.2,421.3 L517.3,420.7 L516.4,420.9 L515.4,421.0 L514.5,421.0 L514.1,420.5 L513.1,420.4 L513.1,419.5 L513.0,418.0 L513.0,418.0 L512.4,418.3 L512.3,420.0 L511.6,420.6 L511.6,421.5 L513.4,422.4 L513.1,423.3 L512.9,424.5 L513.6,425.3 L514.1,426.9 L514.6,427.6 L515.2,428.1 L516.0,429.9 L516.1,431.2 L516.5,432.3 L517.0,432.8 L517.9,433.0 L518.5,434.1 L518.0,435.2 L518.0,436.2 L518.4,437.3 L517.5,437.5 L516.4,438.5 L515.8,439.8 L515.8,440.3 L514.7,440.7 L513.7,441.3 L514.9,440.8 L515.8,440.6 L516.2,440.6 L517.5,440.4 L518.3,440.3 L518.9,440.6 L520.0,440.4 L520.3,440.7 L521.2,441.7 L522.1,442.1 L523.1,442.9 L524.1,443.3 L524.8,443.7 L525.3,444.4 L526.7,445.7 L527.7,445.3 L528.6,445.5 L529.6,445.9 L529.9,446.4 L530.2,446.9 L531.5,446.6 L532.5,447.2 L533.7,447.7 L535.6,448.5 L536.0,448.3 L536.6,448.4 L538.0,448.5 L539.3,448.6 L539.9,449.3 L540.3,450.3 L541.0,450.6 L542.3,451.0 L543.8,451.2 L545.0,450.6 L546.1,451.1 L546.7,450.8 L547.4,450.5 L548.2,451.3 L550.0,450.2 L550.9,450.3 L551.8,450.5 L551.8,449.0 L551.7,447.6 L552.2,446.8 L552.3,446.1Z" fill="#b8d5ea"/><path d="M548.6,425.5 L547.5,424.7 L547.2,423.5 L547.7,422.5 L547.1,422.0 L546.4,420.8 L545.2,420.5 L545.3,419.6 L544.6,419.2 L543.9,418.4 L543.3,417.9 L542.6,417.3 L542.4,416.1 L542.1,415.0 L541.1,414.3 L540.6,413.6 L541.2,413.2 L542.5,412.3 L543.0,411.4 L543.5,410.2 L543.1,409.2 L542.8,408.2 L543.6,407.7 L544.4,407.1 L545.3,406.9 L545.3,405.7 L546.0,405.1 L547.1,405.1 L547.9,404.5 L548.5,403.5 L549.1,402.8 L549.8,402.0 L550.3,401.1 L551.0,400.7 L551.8,400.2 L550.4,399.7 L549.5,399.8 L548.3,399.7 L547.3,399.4 L547.0,398.5 L546.0,398.4 L544.0,397.4 L543.3,396.7 L542.3,395.9 L542.2,395.3 L542.2,394.7 L541.7,393.9 L541.4,393.2 L541.1,391.9 L540.9,391.2 L540.8,390.6 L540.5,389.6 L540.6,388.6 L540.6,387.6 L540.6,386.6 L539.4,385.3 L538.2,384.9 L537.9,384.6 L537.0,384.8 L536.4,384.4 L535.1,383.4 L533.9,383.4 L532.6,383.8 L531.9,382.9 L531.2,382.7 L530.9,382.7 L530.6,381.9 L530.3,381.1 L529.2,380.1 L529.0,379.3 L529.4,378.0 L528.8,376.7 L528.5,375.5 L527.5,375.4 L526.9,374.7 L526.1,373.2 L525.8,373.0 L525.0,372.5 L524.4,371.7 L523.7,371.0 L523.2,370.9 L521.9,371.1 L520.4,371.2 L519.2,371.6 L518.9,371.4 L517.9,371.1 L516.9,371.2 L515.9,371.9 L514.5,372.2 L514.8,373.2 L515.0,373.2 L515.9,374.9 L517.2,376.2 L517.1,376.2 L516.9,376.8 L516.8,377.7 L517.3,379.5 L518.1,379.8 L518.3,380.7 L517.9,382.7 L517.6,382.7 L518.2,383.6 L518.6,384.6 L518.4,386.0 L517.8,388.1 L517.8,388.9 L517.7,389.6 L518.0,390.0 L517.8,391.7 L517.1,392.8 L516.7,394.2 L516.3,395.6 L516.0,396.0 L516.0,397.3 L516.1,398.2 L516.5,398.8 L516.7,400.5 L515.9,401.4 L515.6,402.5 L515.6,403.7 L516.4,403.9 L515.9,406.0 L515.4,406.7 L514.5,406.9 L514.3,408.7 L514.5,409.5 L514.4,410.2 L513.9,411.4 L513.1,413.1 L512.8,414.3 L512.9,415.2 L513.6,416.2 L513.2,417.5 L512.9,417.9 L512.9,418.2 L513.1,419.6 L513.1,420.4 L514.0,420.5 L514.5,421.0 L515.4,421.0 L516.4,420.9 L517.3,420.7 L518.2,421.3 L519.1,422.3 L520.0,422.7 L520.7,422.8 L522.4,422.9 L523.5,422.5 L524.4,422.1 L525.1,422.1 L526.1,421.8 L527.2,421.3 L528.4,420.6 L529.5,420.4 L529.9,420.5 L530.5,421.1 L532.2,421.7 L532.7,422.7 L533.5,423.9 L534.2,424.3 L535.1,425.2 L536.6,425.8 L536.9,426.1 L537.2,426.6 L538.4,427.5 L540.0,428.1 L539.9,428.7 L540.3,429.3 L541.1,431.0 L542.5,431.4 L543.5,432.0 L544.4,431.3 L544.9,430.6 L545.9,430.1 L546.7,429.5 L547.0,428.7 L547.1,427.6 L547.8,426.7Z M524.5,414.8 L524.6,415.2 L525.3,415.6 L526.2,416.4 L527.3,416.3 L527.4,417.1 L527.6,417.6 L527.9,419.0 L527.2,420.0 L526.7,420.8 L525.4,421.0 L524.8,421.3 L523.9,420.7 L523.2,420.7 L522.6,420.2 L522.2,419.5 L521.9,418.6 L521.3,417.1 L521.3,416.5 L522.3,416.5 L523.2,415.4Z" fill="#4391c6"/><path d="M559.6,395.4 L560.5,395.3 L561.3,394.4 L562.4,394.0 L564.0,394.1 L564.8,393.4 L565.2,393.2 L566.1,392.9 L567.4,392.5 L568.8,392.5 L569.2,391.7 L569.5,391.5 L570.7,390.9 L571.4,389.6 L570.6,388.8 L570.2,387.7 L569.6,386.9 L568.5,386.7 L567.8,385.8 L567.1,385.2 L566.8,384.4 L566.6,384.0 L566.7,382.2 L566.8,381.5 L566.7,380.5 L566.4,380.1 L566.2,379.3 L566.0,378.2 L564.9,377.1 L563.7,376.7 L563.5,376.1 L563.5,375.4 L563.0,374.8 L562.9,374.1 L562.5,371.8 L562.9,371.3 L563.4,370.3 L563.6,369.2 L562.5,368.4 L562.2,367.9 L562.2,367.0 L562.0,365.2 L561.4,364.5 L560.2,364.3 L559.1,363.7 L558.7,363.5 L557.9,363.3 L556.8,363.0 L556.4,363.3 L555.4,363.7 L554.3,363.0 L553.3,363.4 L552.2,363.8 L552.1,363.5 L551.5,362.9 L551.1,362.4 L550.0,361.7 L550.2,360.4 L549.9,359.6 L549.4,358.1 L548.6,357.5 L548.3,356.7 L547.2,356.3 L546.3,356.1 L545.5,354.8 L544.5,353.3 L544.2,352.7 L543.8,352.0 L543.0,351.9 L542.9,350.6 L542.2,350.1 L541.5,349.0 L540.4,348.8 L539.6,347.7 L539.6,346.3 L538.4,345.2 L538.3,344.8 L537.0,344.8 L537.0,343.8 L536.9,344.3 L535.1,345.0 L534.1,345.0 L533.3,346.2 L532.9,347.2 L532.3,348.2 L531.2,348.0 L530.3,348.2 L529.4,349.4 L528.7,349.6 L528.5,349.6 L527.3,350.3 L527.0,350.6 L525.9,351.8 L524.8,352.3 L524.6,352.6 L523.4,353.3 L522.3,353.8 L521.2,354.2 L520.5,355.1 L520.5,355.8 L519.4,356.4 L519.0,357.5 L518.8,358.0 L517.7,357.7 L517.0,358.6 L517.2,360.0 L516.3,361.7 L515.8,361.7 L516.2,362.0 L515.3,362.9 L514.3,363.7 L514.0,364.8 L513.5,366.3 L513.5,366.1 L513.2,367.0 L512.5,368.4 L513.1,368.9 L512.8,370.0 L512.0,371.2 L512.8,371.6 L513.1,371.9 L514.5,372.3 L515.9,371.9 L516.9,371.2 L517.9,371.1 L518.9,371.4 L519.2,371.6 L520.4,371.2 L521.9,371.1 L523.2,370.9 L523.7,371.0 L524.4,371.7 L525.0,372.5 L525.8,373.0 L526.1,373.2 L526.9,374.7 L527.5,375.4 L528.5,375.5 L528.8,376.7 L529.4,378.0 L529.0,379.3 L529.2,380.1 L530.3,381.1 L530.6,381.9 L530.9,382.7 L531.2,382.7 L531.9,382.9 L532.6,383.8 L533.9,383.4 L535.1,383.4 L536.4,384.4 L537.0,384.8 L537.9,384.6 L538.2,384.9 L539.4,385.3 L540.6,386.6 L540.6,387.6 L540.6,388.6 L540.5,389.6 L540.8,390.6 L540.9,391.2 L541.1,391.9 L541.4,393.2 L541.7,393.9 L542.2,394.7 L542.2,395.3 L542.3,395.9 L543.3,396.7 L544.0,397.4 L546.0,398.4 L547.0,398.5 L547.3,399.4 L548.3,399.7 L549.5,399.8 L550.4,399.7 L551.8,400.2 L552.5,399.8 L552.9,399.5 L553.3,398.6 L554.2,397.8 L555.0,398.1 L555.6,398.2 L556.5,397.9 L557.5,396.4 L558.4,395.4Z" fill="#b8d5ea"/><path d="M576.7,381.6 L577.1,380.6 L578.0,380.0 L578.5,379.9 L579.7,379.5 L580.8,380.5 L580.4,379.5 L580.8,378.7 L581.1,377.9 L582.5,377.5 L582.9,376.7 L583.8,376.7 L585.1,376.2 L585.8,375.6 L586.9,376.0 L587.7,375.6 L588.9,375.5 L589.9,375.1 L590.9,374.4 L591.7,373.7 L592.4,373.3 L593.2,373.5 L593.9,373.0 L594.7,372.7 L595.9,371.6 L596.1,370.9 L596.8,369.9 L597.7,369.2 L597.4,369.1 L597.1,367.5 L596.9,366.4 L597.0,365.5 L597.6,363.9 L597.1,362.6 L596.3,361.7 L595.5,361.1 L594.8,360.2 L594.5,358.9 L593.9,357.9 L593.3,357.6 L593.5,357.1 L592.6,355.8 L592.2,354.2 L591.5,353.3 L591.0,352.7 L591.0,352.1 L590.2,351.2 L589.6,349.9 L589.8,349.3 L589.4,348.3 L588.4,347.0 L588.2,346.8 L587.7,345.7 L587.4,344.0 L586.7,344.0 L585.2,344.3 L584.3,344.7 L583.1,345.3 L582.6,346.6 L581.6,347.0 L580.7,346.6 L580.5,346.2 L580.5,345.2 L579.4,344.8 L578.2,344.0 L577.2,343.7 L576.5,343.9 L575.5,344.4 L574.7,345.2 L574.5,344.7 L573.7,345.7 L572.9,347.4 L572.0,347.5 L570.7,348.5 L570.0,349.4 L569.6,349.5 L567.8,349.8 L567.6,350.8 L566.5,351.4 L566.1,351.7 L565.1,351.4 L564.0,350.9 L563.2,350.5 L562.4,350.1 L561.2,349.4 L560.8,349.0 L560.6,348.2 L559.5,348.4 L558.7,348.0 L557.7,346.5 L556.2,347.0 L555.4,346.9 L555.0,346.4 L554.3,346.1 L553.5,346.1 L552.2,346.6 L551.5,347.6 L550.9,347.8 L549.5,348.8 L548.6,349.4 L548.3,350.4 L548.5,351.9 L547.1,352.2 L547.2,353.6 L546.9,354.9 L546.3,356.1 L547.2,356.3 L548.3,356.7 L548.6,357.5 L549.4,358.1 L549.9,359.6 L550.2,360.4 L550.0,361.7 L551.1,362.4 L551.5,362.9 L552.1,363.5 L552.2,363.8 L553.3,363.4 L554.3,363.0 L555.4,363.7 L556.4,363.3 L556.8,363.0 L557.9,363.3 L558.7,363.5 L559.1,363.7 L560.2,364.3 L561.4,364.5 L562.0,365.2 L562.2,367.0 L562.2,367.9 L562.5,368.4 L563.6,369.2 L563.4,370.3 L562.9,371.3 L562.5,371.8 L562.9,374.1 L563.0,374.8 L563.5,375.4 L563.5,376.1 L563.7,376.7 L564.9,377.1 L566.0,378.2 L566.2,379.3 L566.4,380.1 L566.7,380.5 L566.8,381.5 L566.7,382.2 L566.6,384.0 L567.6,382.7 L568.8,382.1 L569.7,382.1 L570.8,381.6 L572.0,381.3 L571.7,380.3 L572.6,379.7 L574.4,379.8 L575.8,380.5 L576.3,381.1Z" fill="#deebf7"/><path d="M566.6,384.0 L566.8,384.4 L567.1,385.2 L567.8,385.8 L568.5,386.7 L569.6,386.9 L570.2,387.7 L570.6,388.8 L571.4,389.6 L570.7,390.9 L569.5,391.5 L569.2,391.7 L568.8,392.5 L567.4,392.5 L566.1,392.9 L565.2,393.2 L564.8,393.4 L564.0,394.1 L562.4,394.0 L561.3,394.4 L560.5,395.3 L559.6,395.4 L558.4,395.4 L557.5,396.4 L556.5,397.9 L555.6,398.2 L555.0,398.1 L554.2,397.8 L553.3,398.6 L552.9,399.5 L552.5,399.8 L551.8,400.2 L551.0,400.7 L550.3,401.1 L549.8,402.0 L549.1,402.8 L548.5,403.5 L547.9,404.5 L547.1,405.1 L546.0,405.1 L545.3,405.7 L545.3,406.9 L544.4,407.1 L543.6,407.7 L542.8,408.2 L543.1,409.2 L543.5,410.2 L543.0,411.4 L542.5,412.3 L541.2,413.2 L540.6,413.6 L541.1,414.3 L542.1,415.0 L542.4,416.1 L542.6,417.3 L543.3,417.9 L543.9,418.4 L544.6,419.2 L545.3,419.6 L545.2,420.5 L546.4,420.8 L547.1,422.0 L547.7,422.5 L547.2,423.5 L547.5,424.7 L548.6,425.5 L549.4,424.9 L550.2,425.0 L551.0,425.0 L551.6,424.8 L552.9,423.2 L553.6,423.2 L554.0,422.9 L554.8,422.1 L555.1,421.9 L555.4,420.7 L556.1,419.5 L556.8,418.3 L556.7,417.9 L556.9,417.9 L558.0,416.7 L559.3,415.8 L559.5,415.4 L559.5,415.1 L560.4,414.1 L561.1,413.8 L563.1,412.4 L563.8,412.0 L564.8,411.9 L565.1,411.7 L566.2,412.3 L567.7,413.2 L567.9,413.5 L568.5,412.9 L569.6,412.1 L570.3,411.3 L570.7,410.7 L571.6,409.4 L572.7,410.1 L573.3,410.8 L573.6,411.6 L574.4,411.8 L575.5,411.1 L576.4,410.6 L578.0,410.6 L578.6,410.3 L579.8,410.4 L581.7,410.9 L581.8,409.5 L582.9,408.3 L584.0,407.4 L584.8,407.3 L585.9,406.9 L586.9,406.8 L587.4,406.0 L587.7,404.8 L589.0,404.0 L589.6,403.6 L590.1,403.0 L591.0,402.4 L591.9,401.6 L592.3,400.5 L592.6,400.3 L594.1,399.3 L594.0,398.4 L593.5,397.6 L594.0,396.7 L593.8,396.4 L592.9,395.2 L591.8,395.2 L590.9,394.1 L590.3,393.2 L589.6,392.6 L588.6,391.7 L588.7,391.0 L587.9,390.0 L587.5,389.9 L587.2,389.1 L586.4,388.6 L585.6,388.2 L584.8,387.1 L584.2,385.9 L584.2,384.9 L583.8,383.8 L583.0,383.4 L581.9,383.3 L581.4,382.1 L581.4,381.0 L580.9,380.6 L579.8,379.5 L578.6,379.8 L578.0,380.0 L577.1,380.6 L576.7,381.6 L576.3,381.1 L575.8,380.5 L574.4,379.8 L572.6,379.7 L571.7,380.3 L572.0,381.3 L570.8,381.6 L569.7,382.1 L568.8,382.1 L567.6,382.7Z" fill="#9cc8e2"/><path d="M548.9,434.9 L548.1,434.9 L549.1,436.5 L549.9,437.7 L550.0,438.5 L550.4,438.9 L550.8,439.7 L551.1,440.9 L551.1,441.4 L551.4,442.6 L551.6,444.3 L552.1,445.4 L552.3,446.1 L552.2,446.8 L551.7,447.6 L551.8,449.0 L551.8,450.5 L552.3,449.4 L553.7,448.9 L555.0,448.2 L555.2,448.6 L556.0,448.0 L556.9,447.1 L558.3,447.2 L559.4,446.7 L560.1,446.7 L561.4,447.0 L562.3,447.8 L562.7,449.4 L564.0,447.8 L565.2,447.1 L565.9,447.0 L566.9,446.4 L567.6,445.9 L568.6,446.0 L569.3,445.2 L570.4,444.5 L571.7,444.1 L572.1,443.5 L573.3,442.9 L574.2,443.0 L575.8,443.5 L576.2,443.5 L577.6,443.5 L578.7,443.7 L579.3,443.5 L581.0,443.0 L582.3,443.8 L583.3,443.8 L584.0,443.4 L583.9,443.5 L584.5,443.2 L585.2,442.4 L586.3,441.1 L587.1,440.2 L588.0,439.1 L588.9,438.9 L589.4,439.4 L589.9,438.9 L591.0,438.6 L591.9,438.3 L590.7,437.5 L590.1,436.6 L589.5,435.2 L588.7,434.4 L588.8,433.8 L587.9,433.2 L587.4,432.6 L587.6,432.0 L586.8,430.5 L585.9,429.6 L585.6,428.6 L585.8,427.5 L585.9,426.8 L585.1,426.4 L584.5,425.2 L584.7,423.7 L586.0,422.4 L586.2,421.8 L586.2,420.8 L586.4,420.0 L586.6,419.3 L587.1,417.7 L587.3,416.0 L589.0,415.2 L588.7,414.8 L588.7,414.2 L588.8,413.6 L587.9,411.6 L587.6,410.6 L588.1,409.5 L589.7,409.1 L590.0,408.4 L590.7,407.8 L590.7,406.7 L590.6,405.7 L590.8,405.0 L591.4,403.8 L591.9,403.0 L591.9,401.6 L591.0,402.4 L590.1,403.0 L589.6,403.6 L589.0,404.0 L587.7,404.8 L587.4,406.0 L586.9,406.8 L585.9,406.9 L584.8,407.3 L584.0,407.4 L582.9,408.3 L581.8,409.5 L581.7,410.9 L579.8,410.4 L578.6,410.3 L578.0,410.6 L576.4,410.6 L575.5,411.1 L574.4,411.8 L573.6,411.6 L573.3,410.8 L572.7,410.1 L571.6,409.4 L570.7,410.7 L570.3,411.3 L569.6,412.1 L568.5,412.9 L567.9,413.5 L567.7,413.2 L566.2,412.3 L565.1,411.7 L564.8,411.9 L563.8,412.0 L563.1,412.4 L561.1,413.8 L560.4,414.1 L559.5,415.1 L559.5,415.4 L559.3,415.8 L558.0,416.7 L556.9,417.9 L556.7,417.9 L556.8,418.3 L556.1,419.5 L555.4,420.7 L555.1,421.9 L554.8,422.1 L554.0,422.9 L553.6,423.2 L552.9,423.2 L551.6,424.8 L551.0,425.0 L550.2,425.0 L549.4,424.9 L548.6,425.5 L547.8,426.7 L547.1,427.6 L547.0,428.7 L546.7,429.5 L547.1,430.5 L547.1,430.9 L547.4,431.5 L548.2,433.0Z" fill="#2c7cba"/><path d="M587.9,439.2 L587.1,440.2 L586.2,441.2 L585.2,442.4 L584.5,443.2 L584.9,443.7 L585.8,444.0 L587.1,444.2 L587.3,445.4 L587.9,447.2 L588.4,447.9 L589.4,447.7 L589.1,448.6 L590.1,450.1 L590.5,451.1 L591.7,451.6 L592.1,453.4 L592.5,454.3 L593.3,454.5 L593.3,455.5 L593.0,456.7 L592.8,457.1 L593.1,458.3 L593.7,460.0 L594.0,458.4 L594.9,457.9 L596.0,456.9 L596.5,456.2 L597.1,455.9 L596.9,454.5 L597.9,454.1 L598.6,453.9 L598.7,453.1 L599.5,452.7 L600.3,452.5 L601.4,451.3 L601.7,450.2 L602.7,449.3 L603.7,449.3 L604.4,448.6 L605.1,447.8 L605.8,447.1 L607.1,446.8 L607.4,446.2 L608.4,446.1 L608.7,444.8 L609.7,443.8 L611.0,443.8 L611.3,442.5 L611.6,442.3 L611.3,441.2 L612.3,440.8 L613.6,439.4 L614.0,439.0 L614.6,438.8 L615.4,437.6 L615.6,436.3 L616.4,434.8 L616.3,434.6 L616.7,433.9 L617.6,432.9 L618.1,432.1 L618.7,431.0 L618.8,430.2 L619.1,429.7 L619.7,429.2 L620.5,428.0 L619.9,427.4 L619.2,427.0 L618.2,426.6 L616.8,426.5 L616.7,425.1 L615.8,425.5 L614.4,425.1 L613.9,425.7 L612.9,426.8 L611.7,427.1 L611.3,426.7 L611.2,426.4 L610.1,425.8 L609.2,425.6 L608.5,425.5 L606.8,425.2 L605.2,424.9 L604.0,424.3 L604.0,424.5 L602.9,424.8 L601.8,424.6 L601.0,423.2 L599.4,422.9 L598.5,422.4 L598.0,422.0 L596.9,422.2 L595.5,422.2 L595.2,420.9 L595.1,420.0 L594.4,419.5 L593.9,418.6 L592.3,417.8 L591.1,417.3 L590.4,417.0 L589.8,416.8 L589.1,416.2 L589.0,415.2 L587.3,416.0 L587.1,417.7 L586.6,419.3 L586.4,420.0 L586.2,420.8 L586.2,421.8 L586.0,422.4 L584.7,423.7 L584.5,425.2 L585.1,426.4 L585.9,426.8 L585.8,427.5 L585.6,428.6 L585.9,429.6 L586.8,430.5 L587.6,432.0 L587.4,432.6 L587.9,433.2 L588.8,433.8 L588.7,434.4 L589.5,435.2 L590.1,436.6 L590.7,437.5 L591.9,438.3 L591.0,438.6 L589.9,439.0 L589.5,439.4 L588.9,438.9Z" fill="#deebf7"/><path d="M562.7,449.4 L562.3,447.7 L561.3,446.9 L560.1,446.6 L559.4,446.6 L558.4,447.2 L557.0,447.1 L556.2,447.8 L555.3,448.7 L555.0,448.2 L554.4,448.8 L553.0,449.1 L552.2,449.6 L551.7,450.6 L551.3,451.5 L550.9,451.8 L550.2,454.1 L550.5,454.2 L550.4,455.4 L550.5,457.2 L551.5,458.1 L551.5,458.7 L551.4,459.9 L551.4,461.4 L551.4,461.8 L550.9,462.5 L551.5,463.5 L552.2,464.7 L552.3,466.7 L551.7,467.7 L551.8,468.5 L551.8,469.3 L551.0,470.8 L550.6,471.3 L550.6,472.5 L550.9,473.4 L551.1,473.5 L551.4,473.7 L552.0,474.3 L552.2,475.3 L552.3,475.7 L553.8,476.5 L554.4,476.5 L554.7,477.3 L556.0,478.3 L556.9,478.7 L557.6,479.8 L558.1,480.2 L558.9,480.0 L559.7,479.5 L561.5,478.8 L562.8,478.8 L563.9,478.8 L564.3,478.6 L564.8,477.9 L565.5,477.8 L566.3,477.9 L567.3,477.9 L568.4,478.0 L570.3,479.4 L570.7,478.4 L571.5,478.0 L572.4,477.1 L573.1,476.7 L574.2,476.6 L574.8,476.6 L575.4,476.2 L576.8,475.2 L577.4,475.6 L578.2,475.3 L580.0,474.0 L580.4,474.0 L580.8,474.3 L582.1,473.3 L582.7,472.1 L583.1,471.0 L583.8,470.0 L584.9,470.2 L585.7,469.2 L586.0,468.9 L586.4,468.0 L586.9,467.0 L588.1,465.7 L589.0,464.3 L588.8,464.2 L589.9,463.3 L590.3,462.5 L590.3,461.9 L590.8,460.9 L591.3,459.9 L592.6,459.5 L593.7,460.0 L593.1,458.3 L592.8,457.1 L593.0,456.7 L593.3,455.5 L593.3,454.5 L592.5,454.3 L592.1,453.4 L591.7,451.6 L590.5,451.1 L590.1,450.1 L589.1,448.6 L589.4,447.7 L588.4,447.9 L587.9,447.2 L587.3,445.4 L587.1,444.2 L585.8,444.0 L584.9,443.7 L584.5,443.2 L584.2,443.4 L583.5,443.5 L582.9,444.1 L581.8,443.3 L580.6,443.0 L579.2,443.5 L578.7,443.6 L577.6,443.5 L576.2,443.5 L575.8,443.4 L574.3,443.0 L573.4,442.8 L572.1,443.5 L571.7,444.0 L570.4,444.4 L569.3,445.2 L568.7,446.0 L567.6,445.8 L566.9,446.4 L565.9,447.0 L565.1,447.1 L564.0,447.7Z" fill="#cde0f1"/><path d="M680.9,485.4 L680.9,485.4 L680.8,487.5 L680.8,488.6 L680.9,489.4 L681.1,489.7 L681.3,490.6 L680.5,491.7 L679.6,492.2 L678.9,492.1 L678.3,491.1 L677.1,491.2 L675.9,491.5 L675.4,491.5 L674.8,491.6 L673.5,491.5 L673.0,492.0 L672.1,492.9 L671.1,493.3 L670.7,494.1 L669.8,494.8 L669.4,494.9 L668.1,495.8 L667.2,496.5 L666.7,497.1 L665.8,497.0 L665.4,497.7 L664.3,498.5 L663.4,498.9 L662.8,500.0 L662.1,500.7 L661.5,500.3 L660.8,500.7 L659.5,501.8 L658.8,502.5 L658.8,504.0 L658.8,504.7 L657.6,504.7 L658.0,505.9 L657.9,507.0 L657.4,508.7 L658.7,509.0 L659.2,509.0 L660.1,509.5 L660.8,509.5 L662.0,510.0 L662.8,510.2 L663.5,510.1 L664.3,510.1 L665.2,510.3 L666.6,510.8 L667.8,511.8 L668.7,512.0 L668.9,512.6 L669.8,513.1 L670.3,514.4 L670.4,515.2 L671.0,516.2 L671.6,516.7 L672.5,517.2 L672.8,518.1 L674.0,518.8 L675.2,520.2 L675.4,520.4 L676.7,520.7 L677.0,521.6 L676.7,523.2 L677.4,524.2 L678.2,524.3 L678.7,525.3 L679.3,526.4 L679.6,527.8 L680.0,528.9 L680.6,529.5 L680.7,530.5 L680.9,531.6 L681.4,532.0 L681.5,532.6 L683.3,532.9 L684.2,532.6 L684.0,531.9 L685.1,532.5 L686.3,532.8 L686.5,531.4 L686.3,530.4 L686.8,529.4 L687.8,528.3 L688.4,527.5 L688.7,526.6 L688.1,524.7 L689.2,524.3 L689.5,523.1 L689.4,521.7 L689.9,520.6 L690.5,520.2 L690.5,519.0 L690.0,517.2 L691.0,516.8 L690.3,515.7 L689.9,514.9 L689.9,514.5 L690.1,513.2 L690.2,511.6 L690.3,510.1 L690.3,508.8 L689.5,508.2 L689.4,507.4 L689.6,506.5 L689.6,506.0 L689.4,504.5 L689.1,503.1 L688.1,502.6 L689.1,501.9 L688.5,500.4 L688.2,499.0 L688.7,498.2 L688.0,497.8 L687.7,496.7 L687.3,495.7 L686.7,495.0 L686.7,493.9 L685.5,492.7 L685.6,492.2 L686.0,491.4 L686.5,490.8 L686.7,489.7 L686.7,488.5 L686.3,487.4 L686.6,486.7 L686.8,485.8 L686.9,484.9 L685.9,483.9 L685.5,482.5 L685.4,481.2 L685.7,480.0 L685.2,479.5 L684.8,478.4 L684.9,477.8 L684.2,476.7 L683.4,476.7 L682.2,476.5 L681.1,476.5 L680.8,477.6 L681.4,478.3 L681.4,479.7 L681.2,481.0 L681.2,481.5 L681.3,482.4 L681.6,483.3 L681.1,484.6Z" fill="#b8d5ea"/><path d="M657.5,512.6 L657.2,513.0 L656.5,513.6 L656.7,515.2 L656.3,516.0 L656.1,516.7 L657.1,517.5 L657.1,518.2 L656.5,518.6 L656.9,519.9 L658.0,520.4 L658.8,521.0 L659.3,522.0 L659.7,522.5 L659.9,523.4 L660.6,524.6 L661.2,525.6 L661.8,526.9 L660.7,527.6 L660.2,528.4 L659.9,528.9 L659.1,529.4 L658.4,530.0 L659.6,529.7 L660.4,529.8 L661.3,530.3 L661.8,532.6 L662.3,532.8 L662.7,533.3 L662.9,534.6 L663.7,535.3 L663.8,536.1 L662.8,537.1 L662.5,538.4 L661.9,539.0 L662.7,539.5 L663.4,540.0 L664.0,540.8 L664.0,541.8 L664.8,542.3 L665.9,542.5 L666.2,542.5 L666.9,543.1 L667.1,543.9 L667.2,545.1 L667.4,546.0 L667.0,546.7 L666.3,547.4 L666.9,547.9 L667.6,548.1 L668.7,549.0 L669.2,549.2 L669.9,549.9 L670.9,550.3 L671.5,550.9 L672.3,551.5 L672.8,551.8 L674.6,552.3 L675.5,553.5 L676.9,553.9 L677.3,554.0 L678.1,554.9 L678.9,555.0 L679.5,556.1 L680.1,556.6 L680.8,556.5 L681.5,555.8 L682.1,554.6 L682.2,553.5 L683.2,552.9 L683.7,551.8 L683.9,550.9 L684.0,550.7 L684.2,549.7 L684.0,548.4 L684.4,547.2 L685.0,546.6 L685.5,546.1 L686.4,545.3 L687.0,544.5 L687.3,543.7 L687.0,542.0 L686.8,541.2 L686.6,540.6 L686.5,539.1 L686.4,538.2 L686.6,537.2 L686.7,536.1 L686.5,535.3 L686.6,534.0 L686.7,532.5 L686.3,532.8 L685.1,532.5 L684.0,531.9 L684.2,532.6 L683.3,532.9 L681.5,532.6 L681.4,532.0 L680.9,531.6 L680.7,530.5 L680.6,529.5 L680.0,528.9 L679.6,527.8 L679.3,526.4 L678.7,525.3 L678.2,524.3 L677.4,524.2 L676.7,523.2 L677.0,521.6 L676.7,520.7 L675.4,520.4 L675.2,520.2 L674.0,518.8 L672.8,518.1 L672.5,517.2 L671.6,516.7 L671.0,516.2 L670.4,515.2 L670.3,514.4 L669.8,513.1 L668.9,512.6 L668.7,512.0 L667.8,511.8 L666.6,510.8 L665.2,510.3 L664.3,510.1 L663.5,510.1 L662.8,510.2 L662.0,510.0 L660.8,509.5 L660.1,509.5 L659.2,509.0 L658.7,509.0 L657.4,508.7 L657.5,509.9 L657.2,510.7 L656.9,511.2Z" fill="#deebf7"/><path d="M425.5,278.2 L425.1,277.9 L424.2,278.5 L423.1,279.9 L421.7,280.6 L420.3,280.6 L419.1,280.6 L418.0,281.0 L417.2,281.5 L416.3,282.7 L415.1,283.1 L416.6,283.5 L418.0,283.4 L419.3,283.8 L420.5,283.4 L420.9,284.4 L421.1,285.3 L423.0,285.6 L423.8,286.1 L424.1,286.7 L424.4,287.4 L424.1,287.9 L424.5,289.0 L424.8,290.2 L424.9,291.1 L425.4,292.2 L425.7,293.0 L426.1,294.0 L425.4,295.9 L424.9,296.4 L424.5,296.9 L424.9,297.7 L424.8,298.5 L424.2,298.8 L424.7,300.1 L424.8,301.2 L425.4,302.7 L425.3,303.3 L425.2,303.8 L426.5,304.5 L426.8,305.5 L427.0,306.5 L427.4,307.2 L427.9,309.3 L427.8,310.0 L427.6,310.3 L427.4,311.6 L427.9,312.9 L428.2,314.0 L428.0,314.6 L428.3,316.0 L428.0,317.1 L427.2,318.0 L428.6,318.4 L430.1,318.7 L431.0,318.9 L431.7,318.3 L432.3,316.9 L432.9,315.8 L432.9,315.9 L433.9,315.8 L434.5,314.8 L435.4,314.1 L436.6,313.6 L438.2,313.6 L439.3,313.5 L439.7,313.2 L440.5,312.6 L440.9,312.3 L441.5,311.4 L442.1,311.1 L441.9,310.0 L441.3,309.1 L440.8,308.2 L442.3,308.6 L443.2,307.7 L444.2,306.1 L444.5,306.1 L445.6,305.8 L445.9,305.9 L447.5,305.3 L448.2,304.5 L449.5,304.4 L450.5,303.3 L451.0,303.1 L451.7,302.3 L452.6,302.2 L453.9,301.3 L455.5,301.2 L456.0,300.8 L456.3,299.5 L456.2,299.1 L456.2,298.4 L456.3,297.2 L456.1,295.8 L456.3,294.9 L456.6,294.1 L457.3,292.7 L456.9,291.7 L456.8,290.6 L457.3,290.0 L456.8,289.3 L456.7,288.1 L456.6,286.9 L456.9,286.5 L456.2,284.2 L456.0,283.0 L456.2,282.4 L455.7,281.2 L455.8,280.5 L455.7,279.7 L454.7,279.4 L454.8,277.8 L454.2,276.4 L453.6,275.5 L454.1,275.1 L453.9,273.5 L453.5,272.1 L452.9,271.0 L452.8,270.6 L452.7,269.4 L453.1,268.3 L453.2,267.9 L453.1,266.4 L452.8,265.2 L452.2,265.5 L452.0,264.3 L450.9,265.0 L450.1,265.4 L449.8,265.8 L449.3,266.3 L448.9,267.2 L448.0,266.4 L447.1,266.1 L445.9,265.3 L445.3,265.0 L444.4,264.8 L443.2,264.0 L442.2,263.0 L441.3,262.6 L440.2,262.9 L439.1,262.3 L438.4,261.7 L437.6,261.7 L436.9,261.6 L436.2,261.7 L434.7,261.4 L433.1,261.2 L432.0,261.1 L431.6,261.0 L431.2,261.0 L430.4,261.6 L429.6,261.5 L428.4,260.9 L429.1,262.0 L430.1,262.9 L430.9,263.8 L430.5,264.3 L430.1,264.9 L429.5,265.9 L428.4,267.2 L428.0,268.1 L427.6,268.2 L427.8,269.3 L427.5,271.0 L427.2,272.5 L426.6,273.2 L426.4,274.3 L426.3,274.9 L426.0,274.9 L425.9,275.8 L425.6,277.0Z" fill="#0c5198"/><path d="M393.0,315.6 L394.4,316.0 L394.5,317.2 L394.3,318.1 L394.2,318.9 L394.6,319.7 L395.3,319.3 L396.2,319.0 L397.1,318.8 L398.5,319.3 L399.6,319.6 L400.6,319.9 L400.8,318.9 L401.1,319.6 L401.6,320.6 L402.1,320.4 L403.1,320.4 L404.5,320.2 L405.8,319.5 L406.7,319.2 L407.6,318.9 L407.9,319.4 L408.7,319.1 L409.7,318.1 L411.1,318.2 L412.4,318.0 L412.8,317.5 L413.8,317.4 L414.8,318.0 L415.5,318.7 L416.3,318.8 L416.8,319.6 L417.9,319.6 L418.9,319.3 L419.6,318.9 L421.0,319.0 L422.3,319.0 L423.6,318.7 L424.8,318.3 L425.7,317.6 L426.3,317.5 L426.3,317.8 L427.2,318.0 L428.0,317.1 L428.3,316.0 L428.0,314.6 L428.2,314.0 L427.9,312.9 L427.4,311.6 L427.6,310.3 L427.8,310.0 L427.9,309.3 L427.4,307.2 L427.0,306.5 L426.8,305.5 L426.5,304.5 L425.2,303.8 L425.3,303.3 L425.4,302.7 L424.8,301.2 L424.7,300.1 L424.2,298.8 L424.8,298.5 L424.9,297.7 L424.5,296.9 L424.9,296.4 L425.4,295.9 L426.1,294.0 L425.7,293.0 L425.4,292.2 L424.9,291.1 L424.8,290.2 L424.5,289.0 L424.1,287.9 L424.4,287.4 L424.1,286.7 L423.8,286.1 L423.0,285.6 L421.1,285.3 L420.9,284.4 L420.5,283.4 L419.3,283.8 L418.0,283.4 L416.6,283.5 L415.1,283.1 L414.6,282.2 L414.4,281.2 L413.0,280.6 L411.9,280.6 L411.9,280.2 L410.7,279.5 L409.7,279.1 L409.0,279.6 L407.9,279.8 L406.4,279.8 L405.3,279.7 L405.5,280.7 L404.2,280.3 L402.7,280.1 L402.7,280.5 L402.1,280.8 L400.7,281.6 L401.1,282.0 L400.3,283.3 L399.8,284.6 L399.1,285.7 L398.8,286.3 L399.0,286.8 L398.1,288.1 L397.4,289.6 L396.7,290.6 L396.9,290.5 L396.2,291.0 L395.6,292.3 L394.8,293.2 L393.1,293.7 L392.3,294.4 L392.6,294.7 L391.8,295.6 L390.8,296.5 L390.4,297.3 L390.0,298.5 L389.2,299.6 L388.8,300.1 L388.0,300.5 L387.8,301.8 L386.6,302.9 L386.7,304.1 L386.0,305.4 L386.6,306.7 L386.7,307.7 L386.5,308.5 L386.8,309.0 L387.3,310.5 L388.3,310.7 L389.1,311.0 L389.8,312.1 L390.8,312.8 L391.5,313.2 L392.0,314.5 L392.5,315.2Z" fill="#1966ac"/><path d="M401.6,320.6 L401.5,320.9 L401.8,321.6 L402.3,322.8 L402.1,323.8 L402.3,324.8 L403.3,326.1 L403.7,326.9 L403.7,328.0 L403.3,329.6 L403.5,329.7 L403.8,330.7 L404.0,332.1 L404.5,333.3 L405.0,334.3 L404.9,335.4 L404.6,336.4 L404.8,337.2 L405.6,338.2 L406.2,339.3 L406.2,340.7 L406.4,341.2 L406.9,341.6 L406.5,342.1 L406.8,343.3 L407.5,344.3 L408.5,344.8 L410.0,345.7 L410.9,346.4 L411.2,346.3 L411.4,346.7 L412.3,347.8 L413.2,348.6 L414.2,349.3 L414.7,349.9 L415.0,351.2 L415.9,352.0 L416.3,352.1 L417.5,352.2 L418.5,351.9 L419.6,352.2 L420.2,351.6 L420.8,350.9 L422.3,350.4 L423.1,350.7 L424.1,350.8 L424.7,351.3 L425.7,351.6 L427.3,351.6 L427.8,352.4 L428.4,353.1 L429.5,353.7 L430.7,353.6 L431.6,353.7 L432.7,353.6 L433.3,353.9 L434.0,354.3 L435.2,353.3 L436.3,353.2 L437.2,353.2 L437.4,352.0 L437.0,350.8 L437.1,349.7 L438.2,348.5 L437.4,347.3 L438.1,346.7 L438.7,346.4 L439.1,344.4 L440.0,343.5 L440.4,343.2 L440.5,342.4 L440.6,341.1 L441.4,339.4 L441.6,339.7 L441.8,338.1 L441.7,336.7 L441.0,335.5 L439.9,334.7 L440.2,333.8 L439.9,332.4 L439.4,331.2 L438.6,330.4 L438.6,329.5 L437.5,328.0 L438.0,328.4 L437.3,327.5 L436.8,326.9 L436.0,326.0 L434.6,325.5 L434.1,324.0 L433.1,323.7 L432.8,322.7 L432.3,322.2 L431.8,320.5 L431.6,320.0 L430.8,319.2 L431.0,318.9 L430.1,318.7 L428.6,318.4 L427.2,318.0 L426.3,317.8 L426.3,317.5 L425.7,317.6 L424.8,318.3 L423.6,318.7 L422.3,319.0 L421.0,319.0 L419.6,318.9 L418.9,319.3 L417.9,319.6 L416.8,319.6 L416.3,318.8 L415.5,318.7 L414.8,318.0 L413.8,317.4 L412.8,317.5 L412.4,318.0 L411.1,318.2 L409.7,318.1 L408.7,319.1 L407.9,319.4 L407.6,318.9 L406.7,319.2 L405.8,319.5 L404.5,320.2 L403.1,320.4 L402.1,320.4Z" fill="#0c5198"/><path d="M431.0,318.9 L430.8,319.2 L431.6,320.0 L431.8,320.5 L432.3,322.2 L432.8,322.7 L433.1,323.7 L434.1,324.0 L434.6,325.5 L436.0,326.0 L436.8,326.9 L437.3,327.5 L438.0,328.4 L437.5,328.0 L438.6,329.5 L438.6,330.4 L439.4,331.2 L440.9,331.6 L441.5,331.7 L442.7,331.6 L443.9,330.8 L445.1,330.3 L446.3,329.8 L447.1,329.9 L447.8,329.6 L448.6,329.8 L448.4,329.2 L449.5,328.4 L451.0,327.5 L451.5,328.3 L452.3,328.6 L453.1,329.0 L453.7,329.0 L454.3,329.2 L455.1,330.3 L456.3,331.5 L457.8,332.3 L458.4,333.0 L458.7,333.6 L459.3,334.0 L460.5,333.7 L461.1,334.4 L461.3,335.3 L462.7,335.2 L464.2,334.5 L464.4,334.2 L465.2,333.7 L466.7,333.9 L468.5,334.6 L468.3,334.8 L469.4,335.2 L470.6,335.8 L471.3,336.2 L471.9,336.8 L472.4,337.6 L473.4,337.7 L474.6,337.8 L476.1,338.1 L477.3,338.5 L478.4,339.0 L478.4,338.8 L479.0,339.3 L480.0,339.8 L481.2,340.3 L481.6,339.8 L482.1,339.4 L482.0,337.6 L482.7,336.8 L482.6,335.5 L482.0,334.3 L483.2,334.1 L483.3,333.0 L483.4,331.8 L483.4,330.5 L484.2,329.4 L484.6,328.3 L483.9,328.3 L484.8,328.0 L485.9,326.9 L486.7,326.1 L486.5,325.4 L486.5,324.6 L487.3,323.6 L487.3,323.0 L487.4,322.0 L487.4,320.7 L487.4,320.0 L487.1,318.7 L487.1,318.6 L486.7,317.9 L486.1,316.8 L485.2,316.0 L484.7,315.7 L483.8,315.6 L483.6,314.6 L482.5,314.0 L482.3,313.3 L481.3,312.4 L481.0,310.5 L480.4,309.7 L480.3,308.7 L479.4,308.4 L479.0,307.3 L478.4,306.4 L477.8,305.9 L477.4,304.7 L475.4,304.9 L474.6,305.2 L474.0,306.1 L472.5,306.9 L472.7,307.3 L472.1,306.5 L471.2,305.7 L470.7,305.3 L469.8,305.0 L468.9,304.0 L468.4,303.4 L467.0,304.0 L465.9,304.7 L465.7,304.8 L464.6,304.8 L463.5,304.1 L462.3,303.8 L461.2,303.6 L460.6,302.9 L459.9,302.6 L458.7,302.1 L457.8,301.8 L457.4,301.4 L456.4,301.7 L456.0,300.8 L455.5,301.2 L453.9,301.3 L452.6,302.2 L451.7,302.3 L451.0,303.1 L450.5,303.3 L449.5,304.4 L448.2,304.5 L447.5,305.3 L445.9,305.9 L445.6,305.8 L444.5,306.1 L444.2,306.1 L443.2,307.7 L442.3,308.6 L440.8,308.2 L441.3,309.1 L441.9,310.0 L442.1,311.1 L441.5,311.4 L440.9,312.3 L440.5,312.6 L439.7,313.2 L439.3,313.5 L438.2,313.6 L436.6,313.6 L435.4,314.1 L434.5,314.8 L433.9,315.8 L432.9,315.9 L432.9,315.8 L432.3,316.9 L431.7,318.3Z" fill="#5ea5d0"/><path d="M456.0,283.0 L456.2,284.2 L456.9,286.5 L456.6,286.9 L456.7,288.1 L456.8,289.3 L457.3,290.0 L456.8,290.6 L456.9,291.7 L457.3,292.7 L456.6,294.1 L456.3,294.9 L456.1,295.8 L456.3,297.2 L456.2,298.4 L456.2,299.1 L456.3,299.5 L456.0,300.8 L456.4,301.7 L457.4,301.4 L457.8,301.8 L458.7,302.1 L459.9,302.6 L460.6,302.9 L461.2,303.6 L462.3,303.8 L463.5,304.1 L464.6,304.8 L465.7,304.8 L465.9,304.7 L467.0,304.0 L468.4,303.4 L468.9,304.0 L469.8,305.0 L470.7,305.3 L471.2,305.7 L472.1,306.5 L472.7,307.3 L472.5,306.9 L474.0,306.1 L474.6,305.2 L475.4,304.9 L477.3,304.7 L478.2,304.5 L479.0,304.6 L479.7,303.8 L480.9,303.2 L482.0,302.8 L482.7,303.3 L483.7,303.1 L484.0,302.2 L486.1,302.5 L487.0,302.4 L487.7,302.0 L487.9,301.2 L488.1,300.4 L489.3,300.4 L489.3,298.9 L489.6,297.6 L490.6,296.8 L490.5,295.9 L490.1,294.7 L490.2,294.9 L490.3,294.1 L490.4,292.8 L489.4,291.7 L489.1,290.4 L489.4,289.2 L489.5,288.5 L490.0,287.9 L490.4,287.3 L490.3,286.1 L491.6,285.1 L493.0,284.7 L494.1,284.5 L495.0,284.8 L495.4,283.3 L495.6,283.4 L495.5,283.1 L495.1,282.4 L493.9,281.4 L494.2,279.6 L494.3,279.0 L494.2,278.1 L493.4,277.4 L492.5,276.5 L491.5,275.8 L491.7,273.8 L490.9,273.4 L490.3,272.9 L490.4,272.5 L489.7,271.9 L489.1,270.7 L488.9,269.7 L488.5,268.8 L488.0,267.5 L487.1,266.7 L485.1,266.8 L484.9,267.8 L484.0,268.1 L483.0,268.0 L482.0,267.2 L480.9,267.3 L479.2,266.7 L477.7,266.6 L476.6,266.7 L476.6,266.2 L475.5,265.5 L474.2,265.0 L473.5,264.9 L472.4,264.5 L471.2,263.6 L470.6,263.7 L470.0,263.7 L469.5,264.2 L468.3,265.5 L467.7,266.0 L466.7,265.8 L465.7,266.4 L464.4,266.3 L463.3,265.9 L462.6,265.6 L461.5,265.5 L460.6,265.4 L458.7,264.5 L458.4,264.7 L457.7,264.4 L456.6,262.9 L456.0,263.6 L454.2,262.9 L452.6,262.5 L451.7,261.8 L451.6,263.0 L451.0,264.0 L450.1,264.4 L448.7,265.1 L448.6,264.9 L448.4,265.6 L447.1,265.6 L446.2,265.2 L445.8,264.4 L445.0,263.7 L444.1,263.0 L442.7,262.1 L441.5,262.1 L440.1,262.3 L439.2,261.4 L438.6,261.2 L437.9,261.0 L437.3,260.8 L436.6,260.7 L436.1,261.2 L434.9,261.2 L433.7,261.2 L432.8,261.2 L434.4,261.4 L436.1,261.7 L436.8,261.6 L437.6,261.8 L438.3,261.7 L439.1,262.4 L440.2,262.9 L441.3,262.7 L442.2,263.1 L443.1,264.1 L444.4,264.8 L445.2,265.1 L445.8,265.3 L447.1,266.1 L448.0,266.5 L448.9,267.2 L449.3,266.4 L449.8,265.8 L450.2,265.4 L450.9,265.1 L452.0,264.4 L452.2,265.5 L452.8,265.2 L453.1,266.4 L453.2,267.9 L453.1,268.3 L452.7,269.4 L452.8,270.6 L452.9,271.0 L453.5,272.1 L453.9,273.5 L454.1,275.1 L453.6,275.5 L454.2,276.4 L454.8,277.8 L454.7,279.4 L455.7,279.7 L455.8,280.5 L455.7,281.2 L456.2,282.4Z" fill="#7cb7d9"/><path d="M439.4,331.2 L439.9,332.4 L440.2,333.8 L439.9,334.7 L441.0,335.5 L441.7,336.7 L441.8,338.1 L441.6,339.7 L441.4,339.4 L440.6,341.1 L440.5,342.4 L440.4,343.2 L440.0,343.5 L439.1,344.4 L438.7,346.4 L438.1,346.7 L437.4,347.3 L438.2,348.5 L437.1,349.7 L437.0,350.8 L437.4,352.0 L437.2,353.2 L436.8,353.5 L437.4,354.7 L438.4,355.2 L438.1,357.2 L438.6,357.8 L438.9,358.3 L439.1,360.0 L439.0,361.0 L439.1,362.1 L439.3,363.5 L440.0,363.1 L440.1,364.0 L440.0,365.3 L439.6,367.0 L441.3,367.3 L441.5,367.6 L442.5,368.3 L443.2,367.8 L444.9,368.4 L445.8,368.9 L446.5,369.7 L447.6,368.5 L448.6,369.0 L449.5,369.5 L450.4,368.9 L451.6,369.3 L452.9,369.7 L454.2,371.0 L455.1,371.7 L455.9,372.1 L456.9,372.5 L457.6,372.7 L458.2,372.0 L459.1,372.0 L460.0,371.9 L460.8,371.7 L461.8,370.6 L462.6,370.0 L463.6,370.0 L463.9,370.1 L464.4,369.9 L465.3,369.3 L466.6,369.2 L468.4,368.8 L468.3,368.3 L469.3,367.8 L470.5,367.3 L471.6,367.6 L473.1,368.3 L474.0,368.0 L474.7,368.2 L475.8,369.5 L476.8,370.0 L477.1,370.4 L478.5,369.8 L479.2,370.0 L479.6,370.0 L481.3,369.7 L482.7,369.4 L484.0,369.3 L485.2,369.4 L486.0,368.7 L486.4,368.3 L487.2,367.5 L488.6,367.8 L488.1,366.5 L488.6,365.7 L488.5,364.9 L488.0,363.2 L487.6,361.6 L488.3,361.6 L488.3,360.9 L487.7,359.7 L487.0,357.9 L486.0,357.2 L485.7,356.1 L485.4,355.3 L485.2,355.1 L484.6,354.2 L483.5,352.7 L482.6,351.1 L482.9,350.5 L483.2,349.9 L483.0,348.9 L482.2,347.6 L482.0,346.4 L481.6,344.8 L481.2,343.7 L481.5,343.1 L481.5,342.2 L481.3,341.0 L481.2,340.3 L480.0,339.8 L479.0,339.3 L478.4,338.8 L478.4,339.0 L477.3,338.5 L476.1,338.1 L474.6,337.8 L473.4,337.7 L472.4,337.6 L471.9,336.8 L471.3,336.2 L470.6,335.8 L469.4,335.2 L468.3,334.8 L468.5,334.6 L466.7,333.9 L465.2,333.7 L464.4,334.2 L464.2,334.5 L462.7,335.2 L461.3,335.3 L461.1,334.4 L460.5,333.7 L459.3,334.0 L458.7,333.6 L458.4,333.0 L457.8,332.3 L456.3,331.5 L455.1,330.3 L454.3,329.2 L453.7,329.0 L453.1,329.0 L452.3,328.6 L451.5,328.3 L451.0,327.5 L449.5,328.4 L448.4,329.2 L448.6,329.8 L447.8,329.6 L447.1,329.9 L446.3,329.8 L445.1,330.3 L443.9,330.8 L442.7,331.6 L441.5,331.7 L440.9,331.6Z" fill="#9cc8e2"/><path d="M481.6,344.8 L482.0,346.4 L482.2,347.6 L483.0,348.9 L483.2,349.9 L482.9,350.5 L482.6,351.1 L483.5,352.7 L484.6,354.2 L485.2,355.1 L485.4,355.3 L485.7,356.1 L486.0,357.2 L487.0,357.9 L487.7,359.7 L488.3,360.9 L488.3,361.6 L487.6,361.6 L488.0,363.2 L488.5,364.9 L488.6,365.7 L488.1,366.5 L488.6,367.8 L489.4,368.1 L490.1,368.4 L492.3,369.4 L492.2,368.9 L493.3,369.1 L494.6,369.5 L495.4,369.4 L496.2,368.7 L497.4,368.6 L498.9,368.6 L499.7,368.7 L501.3,369.4 L502.2,370.2 L502.5,370.6 L503.3,371.7 L504.4,372.3 L504.9,372.8 L505.2,373.8 L505.3,374.6 L505.8,374.9 L507.0,374.1 L508.4,373.8 L509.3,373.3 L510.1,373.3 L511.1,371.9 L511.5,371.2 L512.0,371.2 L513.1,369.7 L512.8,368.7 L512.9,368.0 L513.5,366.2 L513.5,366.3 L514.0,365.1 L514.4,363.7 L513.3,363.4 L512.1,363.4 L511.2,362.6 L510.5,361.4 L509.2,360.8 L508.7,360.6 L508.6,359.9 L507.7,359.0 L506.4,359.0 L505.3,358.1 L504.6,357.6 L504.5,357.5 L504.1,356.4 L503.9,355.4 L503.6,354.8 L503.3,353.5 L503.2,352.1 L501.7,351.7 L501.5,350.6 L501.6,349.6 L500.7,349.2 L500.2,348.5 L500.7,348.1 L500.3,347.0 L499.9,345.7 L498.8,344.5 L499.0,343.5 L499.3,342.2 L498.7,341.5 L499.0,340.0 L499.0,339.4 L498.8,339.1 L498.8,338.1 L498.1,336.5 L498.0,335.5 L498.7,335.1 L498.6,333.6 L498.8,332.0 L498.9,330.7 L498.7,330.0 L498.3,330.1 L498.2,329.8 L496.7,330.3 L495.9,330.9 L495.2,331.2 L494.4,330.7 L493.2,330.8 L492.3,330.6 L491.1,330.3 L489.9,330.1 L489.6,329.6 L488.8,328.9 L487.7,328.1 L486.5,328.5 L485.4,328.7 L483.9,328.3 L484.6,328.3 L484.2,329.4 L483.4,330.5 L483.4,331.8 L483.3,333.0 L483.2,334.1 L482.0,334.3 L482.6,335.5 L482.7,336.8 L482.0,337.6 L482.1,339.4 L481.6,339.8 L481.2,340.3 L481.3,341.0 L481.5,342.2 L481.5,343.1 L481.2,343.7Z" fill="#2c7cba"/><path d="M487.4,320.8 L487.4,322.1 L487.4,323.0 L487.3,323.7 L486.5,324.7 L486.6,325.4 L486.7,326.2 L485.9,327.0 L484.8,328.1 L484.0,328.3 L485.4,328.7 L486.5,328.5 L487.7,328.1 L488.8,329.0 L489.6,329.6 L489.9,330.1 L491.1,330.3 L492.3,330.6 L493.2,330.8 L494.4,330.7 L495.2,331.2 L495.9,330.9 L496.7,330.3 L498.2,329.8 L498.4,330.1 L499.6,330.0 L500.3,330.2 L501.1,330.5 L501.5,329.5 L501.7,328.1 L501.9,327.5 L502.1,326.7 L502.7,325.9 L504.2,325.0 L504.7,324.5 L504.9,324.5 L505.9,324.0 L506.9,323.3 L507.7,322.8 L509.7,323.8 L510.5,324.3 L511.5,324.7 L512.0,324.9 L512.7,325.2 L513.7,325.6 L514.5,326.0 L514.6,327.4 L515.0,328.3 L516.0,328.2 L516.5,329.1 L516.8,327.9 L516.5,327.3 L516.4,326.1 L516.7,325.6 L517.1,324.5 L518.3,323.1 L518.9,322.6 L519.0,321.6 L519.1,320.3 L519.3,319.3 L519.2,318.9 L519.4,317.5 L519.6,315.9 L520.0,314.9 L520.0,314.3 L520.9,314.3 L522.2,314.9 L523.0,315.6 L524.0,315.4 L524.9,315.0 L525.7,314.4 L527.5,314.5 L528.7,314.5 L529.7,314.8 L530.8,314.5 L532.0,314.8 L532.9,314.9 L533.0,314.6 L533.7,313.4 L534.1,313.0 L534.5,313.0 L534.7,311.3 L535.0,310.2 L536.5,309.5 L536.6,308.3 L535.9,307.0 L535.4,306.7 L535.5,305.5 L535.9,304.5 L536.0,303.6 L536.0,302.4 L535.8,300.7 L535.7,300.1 L536.0,299.5 L536.8,298.1 L536.2,297.6 L535.5,296.5 L535.2,295.7 L534.6,294.3 L534.1,292.8 L533.9,292.1 L532.9,291.4 L532.8,290.6 L532.3,289.9 L531.8,289.0 L531.0,289.7 L530.1,289.9 L529.1,289.6 L528.6,290.2 L527.5,290.7 L525.7,290.9 L524.9,290.3 L524.3,290.1 L523.4,290.1 L522.0,291.0 L521.1,291.6 L520.3,291.8 L519.2,291.9 L517.3,291.9 L516.5,292.0 L515.7,292.1 L514.3,292.6 L514.3,292.7 L513.6,293.0 L512.7,293.0 L511.6,293.4 L510.3,293.1 L509.9,293.1 L508.7,291.8 L507.8,291.3 L507.0,290.4 L506.3,290.5 L505.9,289.8 L504.5,288.8 L503.9,288.4 L502.7,288.0 L501.6,287.3 L501.0,286.3 L499.7,286.0 L499.0,285.6 L498.6,284.5 L497.5,284.4 L497.1,284.2 L496.1,283.8 L495.4,283.3 L495.0,284.7 L494.2,284.4 L493.1,284.6 L491.6,285.0 L490.3,286.0 L490.3,287.1 L490.4,287.9 L489.6,287.9 L489.5,288.7 L489.3,289.4 L489.1,290.5 L489.4,291.7 L490.4,292.8 L490.3,294.1 L490.2,294.9 L490.1,294.7 L490.5,295.9 L490.6,296.8 L489.6,297.6 L489.3,298.8 L489.3,300.3 L488.1,300.4 L487.9,301.1 L487.7,301.9 L486.9,302.3 L486.0,302.4 L483.9,302.1 L483.7,303.1 L482.7,303.3 L482.0,302.8 L480.9,303.2 L479.7,303.8 L479.0,304.6 L478.3,304.6 L477.4,304.8 L477.8,306.0 L478.4,306.5 L479.0,307.3 L479.4,308.4 L480.3,308.7 L480.4,309.8 L481.0,310.5 L481.3,312.5 L482.3,313.3 L482.5,314.0 L483.6,314.6 L483.8,315.6 L484.7,315.7 L485.2,316.0 L486.1,316.8 L486.7,317.9 L487.0,318.6 L487.1,318.8 L487.3,320.1Z" fill="#7cb7d9"/><path d="M498.6,330.1 L498.8,330.8 L498.7,332.1 L498.6,333.6 L498.7,335.1 L498.0,335.5 L498.1,336.5 L498.8,338.1 L498.8,339.1 L499.0,339.4 L499.0,340.0 L498.7,341.5 L499.3,342.2 L499.0,343.5 L498.8,344.5 L499.9,345.7 L500.3,347.0 L500.7,348.1 L500.2,348.5 L500.7,349.2 L501.6,349.6 L501.5,350.6 L501.7,351.7 L503.2,352.1 L503.3,353.5 L503.6,354.8 L503.9,355.4 L504.1,356.4 L504.5,357.5 L504.6,357.6 L505.3,358.1 L506.4,359.0 L507.7,359.0 L508.6,359.9 L508.7,360.6 L509.2,360.8 L510.5,361.4 L511.2,362.6 L512.1,363.4 L513.3,363.4 L514.4,363.7 L515.4,362.9 L516.2,362.1 L515.9,361.7 L516.4,361.7 L517.2,360.0 L517.1,358.6 L517.7,357.8 L518.8,358.0 L519.0,357.6 L519.5,356.5 L520.6,355.8 L520.5,355.2 L521.2,354.2 L522.3,353.8 L523.4,353.3 L524.6,352.7 L524.8,352.3 L526.0,351.9 L527.0,350.7 L527.3,350.3 L528.6,349.6 L528.6,349.6 L529.4,349.4 L528.8,348.8 L527.8,348.1 L526.3,347.4 L525.3,346.9 L524.7,346.7 L523.9,347.1 L523.0,347.0 L522.7,347.0 L521.3,346.1 L520.0,345.5 L519.6,345.1 L518.8,345.0 L518.1,343.7 L517.3,343.3 L516.0,343.4 L515.8,342.8 L515.9,342.3 L515.0,340.8 L514.5,340.0 L514.2,339.2 L514.2,338.1 L514.4,336.9 L514.6,335.5 L515.3,334.6 L515.6,333.9 L515.3,333.4 L515.8,332.5 L516.2,331.5 L515.6,331.0 L516.5,329.1 L516.0,328.2 L515.0,328.3 L514.6,327.4 L514.5,326.0 L513.7,325.6 L512.7,325.2 L512.0,324.9 L511.5,324.7 L510.5,324.3 L509.7,323.8 L507.7,322.8 L506.9,323.3 L505.9,324.0 L504.9,324.5 L504.7,324.5 L504.2,325.0 L502.7,325.9 L502.1,326.7 L501.9,327.5 L501.7,328.1 L501.5,329.5 L501.1,330.5 L500.3,330.2 L499.6,330.0Z" fill="#deebf7"/><path d="M514.2,339.2 L514.5,340.0 L515.0,340.8 L515.9,342.3 L515.8,342.8 L516.0,343.4 L517.3,343.3 L518.1,343.7 L518.8,345.0 L519.6,345.1 L520.0,345.5 L521.3,346.1 L522.7,347.0 L523.0,347.0 L523.9,347.1 L524.7,346.7 L525.3,346.9 L526.3,347.4 L527.8,348.1 L528.8,348.8 L529.4,349.4 L530.3,348.2 L531.3,348.0 L532.3,348.2 L532.9,347.2 L533.3,346.3 L534.2,345.1 L535.1,345.0 L536.9,344.3 L537.0,343.8 L537.0,344.8 L538.3,344.8 L538.4,345.2 L539.6,346.3 L539.6,347.7 L540.3,348.7 L541.5,349.0 L542.1,350.1 L542.9,350.5 L542.9,351.8 L543.8,352.0 L544.2,352.7 L544.5,353.4 L545.5,354.9 L546.3,356.2 L546.9,355.0 L547.3,353.7 L547.1,352.2 L548.5,352.0 L548.4,350.5 L548.6,349.4 L549.5,348.8 L550.5,347.9 L550.7,347.2 L550.5,345.4 L551.8,344.9 L552.6,344.0 L552.6,342.9 L552.5,342.2 L552.6,340.7 L552.7,339.8 L552.4,339.3 L552.5,337.4 L552.1,336.1 L551.8,335.1 L552.2,334.4 L552.0,333.7 L552.7,333.7 L553.3,333.0 L554.7,332.2 L554.9,331.4 L554.4,331.8 L553.5,331.6 L553.5,330.9 L553.7,330.1 L553.6,329.1 L554.3,328.5 L555.5,327.8 L556.2,326.7 L557.3,326.9 L558.2,326.3 L558.3,325.5 L559.1,324.8 L560.1,323.4 L560.5,322.9 L560.2,322.4 L560.6,321.3 L560.6,320.4 L561.6,319.0 L561.2,318.0 L560.0,318.6 L559.0,318.8 L558.1,318.8 L557.8,320.5 L557.2,321.6 L556.0,321.9 L555.3,322.7 L555.1,323.2 L554.7,323.5 L553.6,323.7 L552.3,324.5 L551.1,324.7 L550.2,325.6 L549.3,325.3 L548.4,325.4 L548.0,324.3 L547.1,324.1 L546.0,323.3 L545.2,322.9 L544.3,322.9 L543.2,323.3 L542.6,322.9 L541.0,323.0 L540.4,322.7 L539.3,321.3 L538.2,320.5 L537.9,320.3 L536.9,319.5 L536.3,318.6 L535.3,318.3 L535.3,317.5 L535.4,317.1 L534.1,315.4 L533.0,314.6 L532.9,314.9 L532.0,314.8 L530.8,314.5 L529.7,314.8 L528.7,314.5 L527.5,314.5 L525.7,314.4 L524.9,315.0 L524.0,315.4 L523.0,315.6 L522.2,314.9 L520.9,314.3 L520.0,314.3 L520.0,314.9 L519.6,315.9 L519.4,317.5 L519.2,318.9 L519.3,319.3 L519.1,320.3 L519.0,321.6 L518.9,322.6 L518.3,323.1 L517.1,324.5 L516.7,325.6 L516.4,326.1 L516.5,327.3 L516.8,327.9 L516.6,329.1 L515.6,331.0 L516.2,331.5 L515.9,332.5 L515.3,333.4 L515.6,333.9 L515.3,334.6 L514.6,335.5 L514.4,336.9 L514.2,338.1Z" fill="#2c7cba"/><path d="M558.8,317.1 L558.6,315.9 L558.4,314.5 L558.6,313.9 L558.3,313.1 L557.4,311.8 L557.7,311.1 L558.1,310.0 L558.7,308.7 L559.6,308.2 L560.1,307.3 L560.3,306.7 L560.9,306.6 L560.9,305.3 L562.1,304.3 L562.6,303.5 L562.0,302.3 L563.1,301.8 L563.0,301.2 L561.9,299.6 L561.2,298.6 L560.5,298.3 L559.8,298.0 L560.1,296.9 L559.3,295.9 L558.6,295.5 L558.0,294.6 L557.5,294.2 L557.0,293.1 L556.3,292.2 L555.8,291.0 L555.0,290.1 L554.1,289.8 L553.9,288.4 L553.0,287.8 L552.3,287.1 L551.7,286.3 L550.9,285.9 L550.2,284.9 L549.6,285.1 L549.6,284.0 L549.3,283.4 L548.4,281.9 L548.4,280.8 L548.2,279.5 L547.2,278.7 L547.0,278.3 L546.2,278.6 L544.6,278.6 L544.2,278.0 L542.9,277.6 L541.0,276.8 L540.5,277.6 L539.6,277.2 L538.9,276.4 L537.5,276.4 L537.2,277.0 L537.4,278.6 L536.7,280.0 L536.1,281.0 L536.0,281.3 L535.4,282.3 L535.0,282.5 L534.0,283.1 L533.9,284.2 L533.2,284.5 L532.4,285.3 L531.7,287.0 L531.7,288.0 L532.3,288.0 L531.8,289.0 L532.3,289.9 L532.8,290.6 L532.9,291.4 L533.9,292.1 L534.1,292.8 L534.6,294.3 L535.2,295.7 L535.5,296.5 L536.2,297.6 L536.8,298.1 L536.0,299.5 L535.7,300.1 L535.8,300.7 L536.0,302.4 L536.0,303.6 L535.9,304.5 L535.5,305.5 L535.4,306.7 L535.9,307.0 L536.6,308.3 L536.5,309.5 L535.0,310.2 L534.7,311.3 L534.5,313.0 L534.1,313.0 L533.7,313.4 L533.0,314.6 L534.1,315.4 L535.4,317.1 L535.3,317.5 L535.3,318.3 L536.3,318.6 L536.9,319.5 L537.9,320.3 L538.2,320.5 L539.3,321.3 L540.4,322.7 L541.0,323.0 L542.6,322.9 L543.2,323.3 L544.3,322.9 L545.2,322.9 L546.0,323.3 L547.1,324.1 L548.0,324.3 L548.4,325.4 L549.3,325.3 L550.2,325.6 L551.1,324.7 L552.3,324.5 L553.6,323.7 L554.7,323.5 L555.1,323.2 L555.3,322.8 L556.0,321.9 L557.2,321.6 L557.8,320.5 L558.1,318.8 L558.9,318.9 L558.1,318.4 L558.1,318.5 L558.6,318.1 L558.7,317.5Z" fill="#5ea5d0"/><path d="M563.4,306.5 L563.4,306.1 L564.6,305.2 L565.3,304.4 L566.2,303.2 L566.6,302.5 L566.4,301.6 L567.2,301.7 L567.5,301.0 L568.2,300.4 L569.2,299.3 L570.4,298.5 L569.9,297.5 L570.5,296.4 L571.0,295.1 L571.3,294.1 L570.9,292.6 L571.6,292.0 L571.8,291.2 L572.3,290.5 L573.1,290.3 L574.3,289.7 L574.9,288.4 L574.5,286.9 L575.9,286.3 L576.4,285.5 L577.4,285.1 L578.7,285.0 L579.3,284.1 L579.1,282.9 L579.7,282.1 L581.0,281.6 L581.6,280.9 L581.8,280.7 L582.3,280.1 L583.1,278.6 L583.6,277.8 L584.7,276.9 L585.9,276.3 L586.9,276.1 L587.4,275.4 L587.5,274.4 L587.2,274.0 L587.6,273.2 L588.0,271.8 L587.5,271.6 L587.4,270.4 L587.1,269.7 L586.3,269.8 L586.8,269.3 L586.4,268.5 L586.6,267.6 L587.5,266.1 L587.2,265.4 L587.4,264.2 L588.1,262.4 L587.0,262.4 L586.0,261.6 L585.3,261.2 L584.4,261.1 L583.3,261.0 L582.4,260.9 L581.8,261.2 L581.7,261.2 L580.9,261.1 L580.2,260.5 L578.5,262.0 L577.3,262.7 L576.4,262.8 L575.9,263.1 L575.5,263.6 L575.1,264.1 L574.1,264.4 L572.5,265.2 L572.2,265.9 L571.5,266.0 L570.0,267.2 L569.5,267.5 L568.7,267.8 L567.0,268.5 L565.8,268.7 L565.1,269.1 L564.4,269.4 L562.8,270.2 L561.9,270.5 L561.3,271.0 L560.9,272.4 L559.2,272.7 L557.8,272.5 L557.9,273.7 L556.0,273.8 L554.6,273.7 L554.0,274.2 L553.6,274.7 L552.3,274.9 L550.7,275.4 L550.6,276.5 L549.3,276.8 L548.9,277.3 L547.5,277.3 L547.0,278.3 L547.2,278.7 L548.2,279.5 L548.4,280.8 L548.4,281.9 L549.3,283.4 L549.6,284.0 L549.6,285.1 L550.2,284.9 L550.9,285.9 L551.7,286.3 L552.3,287.1 L553.0,287.8 L553.9,288.4 L554.1,289.8 L555.0,290.1 L555.8,291.0 L556.3,292.2 L557.0,293.1 L557.5,294.2 L558.0,294.6 L558.6,295.5 L559.3,295.9 L560.1,296.9 L559.8,298.0 L560.5,298.3 L561.2,298.6 L561.9,299.6 L563.0,301.2 L563.1,301.8 L562.0,302.3 L562.6,303.5 L562.1,304.3 L560.9,305.3 L560.9,306.6 L560.3,306.7 L560.1,307.3 L560.6,307.4 L562.0,307.1Z" fill="#1966ac"/><path d="M588.6,342.3 L588.8,342.1 L589.8,341.2 L590.9,340.5 L591.8,339.7 L592.7,339.4 L592.3,338.5 L592.0,337.6 L590.6,336.2 L590.8,335.0 L591.1,333.8 L589.8,333.3 L589.5,332.5 L588.8,331.6 L587.8,331.0 L587.1,331.2 L586.4,330.3 L585.1,328.7 L584.9,327.8 L584.6,326.8 L584.5,326.7 L584.1,324.9 L584.0,323.5 L583.9,322.6 L583.3,321.8 L583.4,321.2 L582.7,320.0 L581.9,319.5 L581.8,319.1 L581.3,318.6 L580.8,317.9 L580.3,317.3 L578.7,317.0 L577.6,317.3 L576.9,318.1 L576.3,317.4 L575.0,317.9 L573.9,318.4 L572.8,317.8 L572.1,318.1 L571.4,319.0 L570.9,319.3 L569.5,319.7 L568.9,319.9 L568.8,320.4 L567.9,321.7 L566.7,322.3 L566.2,322.9 L566.1,323.7 L565.6,324.2 L565.7,325.1 L565.8,326.2 L565.1,327.7 L564.9,328.2 L563.9,328.1 L563.4,328.4 L562.6,328.6 L561.3,329.5 L560.0,329.8 L559.1,330.2 L558.2,330.5 L557.1,329.7 L556.6,330.7 L555.1,331.0 L554.9,331.9 L553.5,332.7 L552.8,333.6 L552.0,333.6 L552.1,334.3 L551.9,335.0 L552.1,336.0 L552.5,337.4 L552.4,339.3 L552.7,339.8 L552.6,340.7 L552.5,342.2 L552.6,342.9 L552.6,344.0 L551.8,344.9 L550.5,345.4 L550.7,347.2 L550.5,347.9 L549.6,348.8 L550.9,347.8 L551.5,347.6 L552.2,346.6 L553.5,346.1 L554.3,346.1 L555.0,346.5 L555.3,346.9 L556.1,347.1 L557.7,346.6 L558.7,348.0 L559.5,348.4 L560.6,348.2 L560.8,349.0 L561.1,349.4 L562.4,350.1 L563.2,350.5 L564.0,351.0 L565.1,351.4 L566.1,351.7 L566.5,351.5 L567.7,350.9 L567.8,349.9 L569.6,349.6 L570.0,349.4 L570.6,348.6 L572.0,347.5 L572.9,347.5 L573.7,345.8 L574.5,344.8 L574.7,345.2 L575.5,344.5 L576.5,343.9 L577.2,343.8 L578.2,344.1 L579.5,344.9 L580.5,345.2 L580.4,346.2 L580.7,346.6 L581.6,347.0 L582.6,346.6 L583.1,345.3 L584.3,344.7 L585.1,344.3 L586.7,344.0 L587.4,344.0 L587.6,345.6 L587.2,344.6 L587.6,343.9 L588.5,342.7Z" fill="#4391c6"/><path d="M518.3,246.7 L519.0,247.0 L519.4,248.0 L519.8,249.3 L520.2,250.9 L520.2,251.8 L520.3,252.4 L521.2,252.5 L522.2,252.9 L522.8,254.0 L524.0,255.7 L524.4,255.5 L525.2,255.4 L525.6,256.9 L526.4,257.5 L527.0,257.4 L528.8,257.9 L530.0,258.1 L530.6,258.0 L531.9,259.0 L532.8,259.5 L533.3,259.0 L533.7,258.1 L534.2,257.6 L534.7,257.2 L535.5,257.5 L536.2,256.8 L537.4,255.3 L538.0,255.1 L538.6,254.6 L539.7,254.3 L540.8,253.8 L541.7,252.7 L542.3,252.4 L542.8,252.2 L543.6,251.7 L544.0,250.9 L543.9,250.0 L543.6,249.2 L543.7,248.3 L545.2,246.5 L545.5,246.0 L546.7,244.9 L547.2,244.3 L547.1,244.5 L547.7,243.7 L548.2,242.7 L547.6,241.3 L546.2,240.0 L545.1,240.4 L544.8,239.6 L544.0,238.5 L543.6,237.7 L543.8,236.7 L543.4,236.2 L542.8,235.6 L542.6,234.2 L542.4,233.2 L541.6,233.1 L541.6,231.9 L541.2,230.8 L540.0,229.4 L539.5,228.6 L539.7,228.3 L539.2,227.7 L538.2,227.1 L537.7,226.6 L537.6,225.7 L537.0,224.7 L537.0,223.9 L535.9,223.0 L535.4,222.0 L534.4,221.4 L533.8,220.8 L532.8,219.8 L531.9,219.2 L531.5,219.1 L530.6,217.7 L530.1,217.2 L529.4,216.5 L528.4,216.5 L527.2,216.3 L527.0,215.4 L525.9,214.5 L525.2,213.8 L524.6,213.5 L522.8,213.3 L521.9,212.4 L521.4,211.7 L520.5,210.3 L519.8,209.8 L519.2,210.6 L518.5,210.6 L517.8,211.2 L516.9,211.8 L515.3,212.5 L514.9,213.5 L514.1,214.7 L512.7,214.5 L511.6,215.3 L510.7,216.4 L511.6,216.5 L511.9,217.5 L512.4,218.0 L512.5,219.3 L512.7,220.7 L513.7,222.0 L514.3,221.7 L514.5,222.5 L514.3,223.6 L514.4,224.6 L515.1,225.5 L516.3,226.9 L515.8,227.9 L515.8,228.7 L516.0,229.2 L515.8,230.9 L515.7,231.7 L515.6,232.5 L515.3,233.6 L515.0,235.0 L514.5,236.2 L514.1,236.1 L513.5,236.8 L513.3,238.1 L513.3,239.1 L513.6,239.4 L513.8,239.9 L514.1,240.6 L515.3,241.1 L515.7,242.3 L516.2,244.0 L516.8,244.7 L517.8,244.5 L517.9,245.9Z" fill="#0c5198"/><path d="M582.8,216.3 L581.9,216.9 L581.2,217.6 L580.6,217.9 L579.9,217.6 L578.8,218.3 L577.7,218.7 L577.0,218.0 L576.1,217.9 L575.1,217.8 L574.0,217.6 L573.2,217.0 L571.9,218.1 L570.8,219.3 L570.5,219.2 L569.7,219.5 L569.1,219.9 L568.4,220.1 L567.7,219.5 L565.5,219.7 L565.0,219.4 L564.3,219.3 L562.4,220.7 L561.4,220.6 L560.5,220.7 L560.6,221.5 L559.3,221.3 L558.1,221.6 L556.6,222.2 L555.2,223.0 L554.8,223.2 L554.4,223.3 L553.8,223.3 L553.1,221.9 L551.8,221.1 L550.6,220.8 L549.7,220.7 L549.1,220.2 L548.3,219.9 L547.5,218.7 L546.4,218.0 L545.3,217.6 L544.8,217.7 L544.2,217.4 L543.0,217.5 L542.5,218.0 L541.9,218.5 L541.5,218.7 L540.4,218.8 L539.2,219.7 L538.0,219.3 L536.9,220.1 L535.5,221.1 L534.4,221.4 L535.4,222.0 L535.9,223.0 L537.0,223.9 L537.0,224.7 L537.6,225.7 L537.7,226.6 L538.2,227.1 L539.2,227.7 L539.7,228.3 L539.5,228.6 L540.0,229.4 L541.2,230.8 L541.6,231.9 L541.6,233.1 L542.4,233.2 L542.6,234.2 L542.8,235.6 L543.4,236.2 L543.8,236.7 L543.6,237.7 L544.0,238.5 L544.8,239.6 L545.1,240.4 L546.2,240.0 L547.6,241.3 L548.2,242.7 L547.7,243.7 L548.9,243.2 L550.1,243.0 L550.7,242.6 L551.7,242.5 L552.9,242.6 L554.6,243.0 L555.4,241.7 L556.3,241.1 L556.9,240.6 L557.7,240.2 L558.1,239.7 L558.4,239.7 L559.3,240.1 L560.2,240.3 L561.3,240.1 L562.8,240.8 L563.7,241.3 L564.0,241.4 L565.5,241.9 L566.2,242.6 L566.5,243.1 L567.9,243.8 L569.1,244.2 L569.4,243.6 L570.3,243.0 L571.5,243.2 L572.5,242.6 L573.6,242.6 L574.2,243.1 L575.2,243.2 L576.4,243.4 L576.6,244.3 L577.0,244.8 L577.5,245.6 L579.2,246.1 L580.3,246.4 L581.0,247.5 L581.9,248.2 L581.8,247.2 L581.8,246.5 L582.3,246.1 L582.6,245.7 L583.1,243.7 L583.9,242.8 L585.3,242.5 L585.2,241.2 L585.3,240.2 L585.7,239.2 L585.7,238.3 L585.8,237.5 L586.7,236.5 L586.8,236.0 L586.5,235.8 L587.6,233.9 L588.0,232.9 L588.7,231.9 L589.7,230.7 L589.7,229.9 L589.7,229.4 L591.1,228.2 L591.6,227.5 L591.8,226.5 L592.5,226.1 L592.9,225.2 L592.3,223.9 L592.0,222.1 L591.3,221.7 L590.5,221.1 L590.6,219.8 L589.7,219.2 L588.7,219.0 L588.5,217.7 L588.2,216.4 L587.6,215.7 L586.7,216.1 L586.0,216.4 L585.7,216.5 L584.0,216.4Z" fill="#0c5198"/><path d="M545.2,246.5 L543.7,248.3 L543.6,249.2 L543.9,250.0 L544.0,250.9 L543.6,251.7 L542.8,252.2 L542.3,252.4 L541.7,252.7 L540.8,253.8 L539.7,254.3 L538.6,254.6 L538.0,255.1 L537.4,255.3 L536.2,256.8 L535.5,257.5 L534.7,257.2 L534.2,257.6 L533.7,258.1 L533.3,259.0 L534.0,260.0 L534.2,261.5 L535.2,262.0 L535.3,262.2 L535.5,263.2 L535.0,264.8 L535.2,265.6 L535.3,266.2 L535.2,266.7 L534.8,267.7 L535.4,268.6 L535.7,269.5 L536.1,270.4 L537.3,270.9 L537.6,271.9 L537.4,273.0 L538.2,274.3 L537.7,275.5 L537.6,276.4 L537.3,276.5 L538.7,276.4 L539.6,277.2 L540.5,277.7 L541.0,276.8 L542.9,277.7 L544.2,278.0 L544.6,278.7 L546.2,278.6 L547.0,278.3 L547.5,277.4 L548.9,277.4 L549.3,276.8 L550.5,276.5 L550.8,275.5 L552.4,274.9 L553.6,274.7 L554.0,274.2 L554.6,273.7 L556.1,273.8 L557.9,273.7 L557.8,272.4 L559.2,272.7 L560.9,272.4 L561.4,271.0 L561.9,270.5 L562.8,270.2 L564.4,269.4 L565.1,269.2 L565.8,268.8 L567.0,268.5 L568.7,267.9 L569.5,267.5 L570.0,267.2 L571.5,266.0 L572.2,266.0 L572.6,265.3 L574.2,264.4 L575.1,264.1 L575.5,263.6 L575.9,263.1 L576.4,262.8 L577.4,262.7 L578.6,262.0 L580.3,260.5 L580.8,259.4 L580.7,259.1 L580.5,258.4 L580.7,258.1 L580.3,257.1 L580.1,255.1 L580.2,254.2 L580.2,253.6 L580.0,252.7 L580.3,250.6 L580.3,249.5 L580.6,248.8 L581.9,248.2 L581.0,247.5 L580.3,246.4 L579.2,246.1 L577.5,245.6 L577.0,244.8 L576.6,244.3 L576.4,243.4 L575.2,243.2 L574.2,243.1 L573.6,242.6 L572.5,242.6 L571.5,243.2 L570.3,243.0 L569.4,243.6 L569.1,244.2 L567.9,243.8 L566.5,243.1 L566.2,242.6 L565.5,241.9 L564.0,241.4 L563.7,241.3 L562.8,240.8 L561.3,240.1 L560.2,240.3 L559.3,240.1 L558.4,239.7 L558.1,239.7 L557.7,240.2 L556.9,240.6 L556.3,241.1 L555.4,241.7 L554.6,243.0 L552.9,242.6 L551.7,242.5 L550.7,242.6 L550.1,243.0 L548.9,243.2 L547.7,243.7 L547.1,244.5 L547.2,244.3 L546.7,244.9 L545.5,246.0Z" fill="#083b7b"/><path d="M591.2,262.7 L590.4,261.9 L590.9,260.9 L590.7,260.2 L590.2,259.9 L589.5,259.3 L588.7,258.5 L587.9,257.6 L586.7,256.5 L587.0,255.5 L587.4,254.2 L588.3,253.8 L588.6,252.9 L588.2,251.2 L587.5,251.2 L585.9,250.6 L586.0,249.9 L585.2,249.1 L584.6,248.4 L583.7,248.3 L582.2,247.9 L581.9,248.2 L580.6,248.8 L580.3,249.5 L580.3,250.6 L580.0,252.7 L580.2,253.6 L580.2,254.2 L580.1,255.1 L580.3,257.1 L580.7,258.1 L580.5,258.4 L580.7,259.1 L580.8,259.4 L580.3,260.5 L580.9,261.0 L581.7,261.2 L581.8,261.2 L582.4,260.9 L583.3,261.0 L584.3,261.1 L585.3,261.2 L586.0,261.6 L587.0,262.5 L588.0,262.5 L587.6,263.7 L588.3,262.6 L589.1,262.3 L590.1,262.1 L590.4,262.3Z" fill="#2c7cba"/><path d="M593.8,263.7 L594.5,263.7 L595.4,264.2 L595.9,265.6 L596.4,266.6 L597.2,266.3 L599.0,265.5 L600.1,264.7 L600.2,264.6 L601.3,264.1 L602.0,262.6 L602.5,262.3 L603.6,262.1 L604.1,261.6 L603.9,260.9 L604.1,260.3 L604.8,259.8 L605.4,258.6 L606.0,257.7 L606.4,256.5 L605.6,255.5 L605.4,254.4 L605.8,253.4 L605.0,252.4 L605.3,251.7 L605.6,250.8 L605.3,249.1 L605.7,248.6 L605.6,247.2 L605.4,245.5 L605.4,245.2 L605.7,243.8 L606.0,242.8 L605.8,242.8 L605.2,241.6 L605.6,240.4 L605.5,239.4 L604.9,238.1 L605.6,236.7 L605.9,235.6 L606.2,234.5 L605.5,233.9 L605.5,233.3 L605.7,232.9 L605.9,231.1 L604.9,230.8 L604.3,230.4 L603.8,229.7 L602.5,228.9 L601.6,228.0 L600.6,227.8 L599.7,227.3 L598.9,226.6 L598.2,226.0 L597.1,226.0 L596.1,225.4 L594.7,225.8 L593.9,225.8 L593.5,225.3 L592.9,225.2 L592.5,226.1 L591.8,226.5 L591.6,227.5 L591.1,228.2 L589.7,229.4 L589.7,229.9 L589.7,230.7 L588.7,231.8 L588.0,232.9 L587.6,233.9 L586.5,235.8 L586.8,236.0 L586.7,236.5 L585.8,237.5 L585.7,238.3 L585.7,239.2 L585.3,240.2 L585.2,241.2 L585.3,242.5 L583.9,242.8 L583.1,243.7 L582.6,245.7 L582.3,246.1 L581.8,246.5 L581.8,247.2 L581.9,248.2 L582.2,247.9 L583.7,248.3 L584.6,248.4 L585.2,249.1 L586.0,249.9 L585.9,250.6 L587.5,251.2 L588.2,251.2 L588.6,252.9 L588.3,253.8 L587.4,254.2 L587.0,255.5 L586.7,256.5 L587.9,257.6 L588.7,258.5 L589.5,259.3 L590.2,259.9 L590.7,260.2 L590.9,260.9 L590.4,261.9 L591.2,262.7 L592.1,263.0 L592.8,262.9Z" fill="#4391c6"/><path d="M501.2,244.0 L500.2,244.0 L499.2,244.2 L498.3,244.7 L497.3,244.3 L497.3,245.6 L497.1,246.9 L498.0,247.6 L498.7,249.2 L499.0,250.4 L498.6,251.0 L497.9,251.1 L497.3,252.2 L497.1,253.8 L497.2,254.6 L496.9,255.6 L496.8,256.1 L495.5,256.9 L494.9,258.4 L494.7,259.4 L494.9,260.5 L494.4,261.9 L494.1,263.1 L494.0,263.9 L493.3,264.1 L494.0,265.7 L493.6,267.0 L493.0,267.9 L493.0,267.9 L492.7,268.5 L491.7,269.4 L491.2,270.4 L491.0,271.6 L490.3,272.9 L491.0,273.4 L491.7,274.0 L491.6,275.9 L492.6,276.6 L493.5,277.4 L494.2,278.2 L494.3,279.0 L494.2,279.8 L494.0,281.5 L495.2,282.4 L495.5,283.2 L496.2,283.8 L497.2,284.2 L497.6,284.3 L498.7,284.6 L499.0,285.6 L499.9,286.0 L501.1,286.3 L501.7,287.4 L502.8,288.0 L503.9,288.4 L504.6,288.8 L506.0,289.8 L506.3,290.5 L507.1,290.4 L507.9,291.3 L508.8,291.8 L509.9,293.1 L510.3,293.1 L511.7,293.4 L512.7,293.0 L513.6,293.0 L514.3,292.7 L514.3,292.6 L515.8,292.1 L516.5,292.0 L517.3,291.9 L519.2,291.9 L520.3,291.8 L521.1,291.6 L522.0,291.0 L523.4,290.1 L524.3,290.1 L524.9,290.3 L525.7,290.9 L527.5,290.7 L528.6,290.2 L529.1,289.6 L530.1,289.9 L531.0,289.7 L531.8,289.0 L532.3,288.0 L531.7,288.0 L531.7,287.0 L532.4,285.3 L533.2,284.5 L533.9,284.2 L534.0,283.1 L535.0,282.5 L535.4,282.3 L536.0,281.3 L536.1,281.0 L536.5,280.4 L537.2,279.3 L537.3,277.8 L537.3,276.7 L537.6,276.3 L537.8,275.4 L538.2,274.2 L537.4,272.9 L537.6,271.9 L537.3,270.9 L536.1,270.4 L535.7,269.5 L535.4,268.6 L534.8,267.7 L535.2,266.7 L535.3,266.2 L535.2,265.6 L535.0,264.8 L535.5,263.2 L535.3,262.2 L535.2,262.0 L534.2,261.5 L534.0,260.0 L533.3,259.0 L532.8,259.5 L531.9,259.0 L530.6,258.0 L530.0,258.1 L528.8,257.9 L527.0,257.4 L526.4,257.5 L525.6,256.9 L525.2,255.4 L524.4,255.5 L524.0,255.7 L522.8,254.0 L522.2,252.9 L521.2,252.5 L520.3,252.4 L520.2,251.8 L520.2,250.9 L519.8,249.3 L519.4,248.0 L519.0,247.0 L518.3,246.7 L517.9,245.8 L517.6,244.5 L516.6,244.6 L516.0,243.5 L515.6,241.7 L514.6,240.9 L513.9,240.2 L513.6,239.5 L513.4,239.3 L512.3,240.0 L510.4,240.4 L509.6,240.0 L508.7,240.0 L507.9,240.3 L507.0,240.3 L506.1,240.6 L505.0,241.5 L504.5,241.6 L504.1,241.8 L503.1,243.4 L502.3,243.6Z" fill="#5ea5d0"/></g>
<g fill="#000" fill-opacity="0.5"><circle cx="303.7" cy="277.1" r="4.3"/><circle cx="456.4" cy="116.2" r="4.3"/><circle cx="609.4" cy="209.8" r="4.3"/><circle cx="517.3" cy="341.3" r="4.3"/><circle cx="332.3" cy="393.8" r="4.3"/><circle cx="401.5" cy="455.4" r="4.3"/><circle cx="486.9" cy="452.2" r="4.3"/><circle cx="539.7" cy="469.2" r="4.3"/><circle cx="609.1" cy="430.4" r="4.3"/></g>
<g fill="none" stroke="#222" stroke-width="1.7" stroke-linecap="round"><circle cx="40.2" cy="108.7" r="3.3"/><path d="M42.7 111.2 L45.6 114.1"/></g>
</svg>
<div class="lab" style="left:42.6px">12.79</div><div class="lab" style="left:69.6px">70</div><div class="lab" style="left:108.1px">150</div><div class="lab" style="left:154.7px">248.8</div>
</body></html>
